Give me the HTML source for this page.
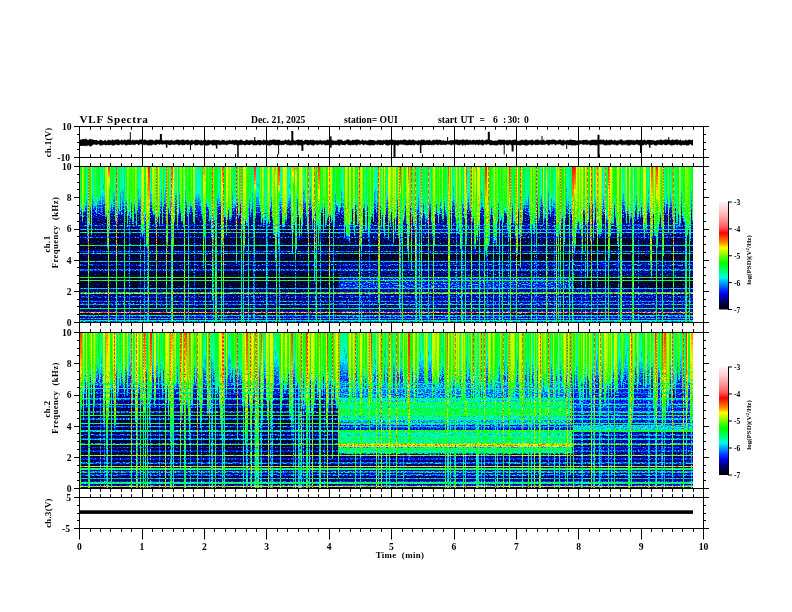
<!DOCTYPE html><html><head><meta charset="utf-8"><style>html,body{margin:0;padding:0;background:#fff;width:792px;height:612px;overflow:hidden}svg{display:block}</style></head><body>
<svg width="792" height="612" viewBox="0 0 792 612">
<defs><linearGradient id="cbar" x1="0" y1="1" x2="0" y2="0"><stop offset="0.000" stop-color="#000010"/><stop offset="0.042" stop-color="#000030"/><stop offset="0.090" stop-color="#000080"/><stop offset="0.137" stop-color="#0000e0"/><stop offset="0.183" stop-color="#0030ff"/><stop offset="0.265" stop-color="#00c0ff"/><stop offset="0.300" stop-color="#00ffe0"/><stop offset="0.350" stop-color="#00ff80"/><stop offset="0.433" stop-color="#00ff00"/><stop offset="0.525" stop-color="#a0ff00"/><stop offset="0.575" stop-color="#ffff00"/><stop offset="0.620" stop-color="#ff9000"/><stop offset="0.712" stop-color="#ff0000"/><stop offset="0.757" stop-color="#ff5050"/><stop offset="0.833" stop-color="#ff9090"/><stop offset="0.925" stop-color="#ffd0d0"/><stop offset="1.000" stop-color="#fff0f0"/></linearGradient><linearGradient id="hiss1_0" x1="0" y1="0" x2="0" y2="1"><stop offset="0.000" stop-color="#606060" stop-opacity="1.00"/><stop offset="0.100" stop-color="#595959" stop-opacity="1.00"/><stop offset="0.160" stop-color="#4d4d4d" stop-opacity="1.00"/><stop offset="0.220" stop-color="#404040" stop-opacity="1.00"/><stop offset="0.280" stop-color="#2d2d2d" stop-opacity="1.00"/><stop offset="0.340" stop-color="#1a1a1a" stop-opacity="1.00"/><stop offset="0.400" stop-color="#0d0d0d" stop-opacity="1.00"/><stop offset="0.440" stop-color="#0a0a0a" stop-opacity="0.00"/></linearGradient><linearGradient id="c1_0" x1="0" y1="0" x2="0" y2="1"><stop offset="0" stop-color="#565656"/><stop offset="0.72" stop-color="#4f4f4f"/><stop offset="0.90" stop-color="#3f3f3f"/><stop offset="1" stop-color="#393939" stop-opacity="0.7"/></linearGradient><linearGradient id="c1_1" x1="0" y1="0" x2="0" y2="1"><stop offset="0" stop-color="#5b5b5b"/><stop offset="0.72" stop-color="#545454"/><stop offset="0.90" stop-color="#454545"/><stop offset="1" stop-color="#393939" stop-opacity="0.7"/></linearGradient><linearGradient id="c1_2" x1="0" y1="0" x2="0" y2="1"><stop offset="0" stop-color="#606060"/><stop offset="0.72" stop-color="#5a5a5a"/><stop offset="0.90" stop-color="#4a4a4a"/><stop offset="1" stop-color="#393939" stop-opacity="0.7"/></linearGradient><linearGradient id="c1_3" x1="0" y1="0" x2="0" y2="1"><stop offset="0" stop-color="#656565"/><stop offset="0.72" stop-color="#5f5f5f"/><stop offset="0.90" stop-color="#4f4f4f"/><stop offset="1" stop-color="#393939" stop-opacity="0.7"/></linearGradient><linearGradient id="c1_4" x1="0" y1="0" x2="0" y2="1"><stop offset="0" stop-color="#6b6b6b"/><stop offset="0.72" stop-color="#646464"/><stop offset="0.90" stop-color="#545454"/><stop offset="1" stop-color="#393939" stop-opacity="0.7"/></linearGradient><linearGradient id="c1_5" x1="0" y1="0" x2="0" y2="1"><stop offset="0" stop-color="#707070"/><stop offset="0.72" stop-color="#6a6a6a"/><stop offset="0.90" stop-color="#5a5a5a"/><stop offset="1" stop-color="#393939" stop-opacity="0.7"/></linearGradient><linearGradient id="c1_6" x1="0" y1="0" x2="0" y2="1"><stop offset="0" stop-color="#757575"/><stop offset="0.72" stop-color="#6f6f6f"/><stop offset="0.90" stop-color="#5f5f5f"/><stop offset="1" stop-color="#393939" stop-opacity="0.7"/></linearGradient><linearGradient id="c1_7" x1="0" y1="0" x2="0" y2="1"><stop offset="0" stop-color="#7b7b7b"/><stop offset="0.72" stop-color="#747474"/><stop offset="0.90" stop-color="#646464"/><stop offset="1" stop-color="#393939" stop-opacity="0.7"/></linearGradient><linearGradient id="c1_8" x1="0" y1="0" x2="0" y2="1"><stop offset="0" stop-color="#808080"/><stop offset="0.72" stop-color="#7a7a7a"/><stop offset="0.90" stop-color="#6a6a6a"/><stop offset="1" stop-color="#393939" stop-opacity="0.7"/></linearGradient><linearGradient id="c1_9" x1="0" y1="0" x2="0" y2="1"><stop offset="0" stop-color="#858585"/><stop offset="0.72" stop-color="#7f7f7f"/><stop offset="0.90" stop-color="#6f6f6f"/><stop offset="1" stop-color="#393939" stop-opacity="0.7"/></linearGradient><linearGradient id="c1_10" x1="0" y1="0" x2="0" y2="1"><stop offset="0" stop-color="#8b8b8b"/><stop offset="0.72" stop-color="#848484"/><stop offset="0.90" stop-color="#747474"/><stop offset="1" stop-color="#393939" stop-opacity="0.7"/></linearGradient><linearGradient id="c1_11" x1="0" y1="0" x2="0" y2="1"><stop offset="0" stop-color="#909090"/><stop offset="0.72" stop-color="#8a8a8a"/><stop offset="0.90" stop-color="#7a7a7a"/><stop offset="1" stop-color="#393939" stop-opacity="0.7"/></linearGradient><linearGradient id="core1_0" x1="0" y1="0" x2="0" y2="1"><stop offset="0" stop-color="#acacac"/><stop offset="0.6" stop-color="#8f8f8f"/><stop offset="1" stop-color="#737373" stop-opacity="0.2"/></linearGradient><linearGradient id="core1_1" x1="0" y1="0" x2="0" y2="1"><stop offset="0" stop-color="#9f9f9f"/><stop offset="0.6" stop-color="#838383"/><stop offset="1" stop-color="#666666" stop-opacity="0.2"/></linearGradient><linearGradient id="core1_2" x1="0" y1="0" x2="0" y2="1"><stop offset="0" stop-color="#b2b2b2"/><stop offset="0.6" stop-color="#999999"/><stop offset="1" stop-color="#808080" stop-opacity="0.2"/></linearGradient><linearGradient id="red1" x1="0" y1="0" x2="0" y2="1"><stop offset="0" stop-color="#999999"/><stop offset="0.6" stop-color="#8f8f8f"/><stop offset="1" stop-color="#808080" stop-opacity="0.7"/></linearGradient><g id="field1"><rect x="80" y="166.5" width="613.0" height="156.0" fill="#010101"/><rect x="80.0" y="166.5" width="613.0" height="156.0" fill="url(#hiss1_0)"/><rect x="80.0" y="289.0" width="258.5" height="33.5" fill="#121212"/><rect x="80.0" y="273.0" width="258.5" height="16.0" fill="#060606"/><rect x="80.0" y="230.0" width="258.5" height="43.0" fill="#0a0a0a"/><rect x="338.5" y="215.0" width="354.5" height="20.0" fill="#1d1d1d"/><rect x="338.5" y="235.0" width="354.5" height="15.0" fill="#121212"/><rect x="338.5" y="250.0" width="354.5" height="10.0" fill="#010101"/><rect x="338.5" y="260.0" width="354.5" height="17.0" fill="#181818"/><rect x="338.5" y="277.0" width="234.0" height="12.0" fill="#2f2f2f"/><rect x="572.5" y="277.0" width="120.5" height="12.0" fill="#060606"/><rect x="338.5" y="289.0" width="354.5" height="33.5" fill="#1b1b1b"/><rect x="572.5" y="235.0" width="59.3" height="15.0" fill="#000000"/><rect x="80" y="166.5" width="1" height="49.4" fill="url(#c1_3)"/><rect x="81" y="166.5" width="1" height="43.8" fill="url(#c1_5)"/><rect x="82" y="166.5" width="1" height="56.7" fill="url(#c1_11)"/><rect x="83" y="166.5" width="1" height="47.1" fill="url(#c1_9)"/><rect x="84" y="166.5" width="1" height="46.1" fill="url(#c1_5)"/><rect x="85" y="166.5" width="1" height="42.0" fill="url(#c1_4)"/><rect x="86" y="166.5" width="1" height="41.5" fill="url(#c1_0)"/><rect x="87" y="166.5" width="1" height="76.0" fill="url(#c1_1)"/><rect x="88" y="166.5" width="1" height="79.6" fill="url(#c1_6)"/><rect x="89" y="166.5" width="1" height="60.4" fill="url(#c1_5)"/><rect x="90" y="166.5" width="1" height="43.7" fill="url(#c1_6)"/><rect x="91" y="166.5" width="1" height="70.7" fill="url(#c1_9)"/><rect x="92" y="166.5" width="1" height="37.6" fill="url(#c1_0)"/><rect x="93" y="166.5" width="1" height="43.4" fill="url(#c1_0)"/><rect x="94" y="166.5" width="1" height="42.4" fill="url(#c1_2)"/><rect x="95" y="166.5" width="1" height="41.0" fill="url(#c1_7)"/><rect x="96" y="166.5" width="1" height="49.4" fill="url(#c1_3)"/><rect x="97" y="166.5" width="1" height="39.8" fill="url(#c1_3)"/><rect x="98" y="166.5" width="1" height="35.9" fill="url(#c1_4)"/><rect x="99" y="166.5" width="1" height="35.4" fill="url(#c1_5)"/><rect x="100" y="166.5" width="1" height="31.9" fill="url(#c1_1)"/><rect x="101" y="166.5" width="1" height="45.5" fill="url(#c1_1)"/><rect x="102" y="166.5" width="1" height="31.8" fill="url(#c1_2)"/><rect x="103" y="166.5" width="1" height="22.4" fill="url(#c1_0)"/><rect x="104" y="166.5" width="1" height="30.7" fill="url(#c1_3)"/><rect x="105" y="166.5" width="1" height="51.1" fill="url(#c1_10)"/><rect x="106" y="166.5" width="1" height="51.0" fill="url(#c1_9)"/><rect x="107" y="166.5" width="1" height="82.7" fill="url(#c1_11)"/><rect x="108" y="166.5" width="1" height="99.9" fill="url(#c1_11)"/><rect x="109" y="166.5" width="1" height="66.9" fill="url(#c1_4)"/><rect x="110" y="166.5" width="1" height="46.7" fill="url(#c1_3)"/><rect x="111" y="166.5" width="1" height="40.8" fill="url(#c1_3)"/><rect x="112" y="166.5" width="1" height="44.8" fill="url(#c1_5)"/><rect x="113" y="166.5" width="1" height="27.6" fill="url(#c1_3)"/><rect x="114" y="166.5" width="1" height="34.6" fill="url(#c1_0)"/><rect x="115" y="166.5" width="1" height="56.9" fill="url(#c1_6)"/><rect x="116" y="166.5" width="1" height="57.1" fill="url(#c1_6)"/><rect x="117" y="166.5" width="1" height="56.8" fill="url(#c1_1)"/><rect x="118" y="166.5" width="1" height="47.6" fill="url(#c1_2)"/><rect x="119" y="166.5" width="1" height="49.0" fill="url(#c1_3)"/><rect x="120" y="166.5" width="1" height="31.5" fill="url(#c1_0)"/><rect x="121" y="166.5" width="1" height="48.0" fill="url(#c1_3)"/><rect x="122" y="166.5" width="1" height="28.4" fill="url(#c1_0)"/><rect x="123" y="166.5" width="1" height="32.5" fill="url(#c1_0)"/><rect x="124" y="166.5" width="1" height="48.4" fill="url(#c1_0)"/><rect x="125" y="166.5" width="1" height="46.5" fill="url(#c1_0)"/><rect x="126" y="166.5" width="1" height="36.8" fill="url(#c1_3)"/><rect x="127" y="166.5" width="1" height="60.5" fill="url(#c1_9)"/><rect x="128" y="166.5" width="1" height="49.7" fill="url(#c1_8)"/><rect x="129" y="166.5" width="1" height="48.4" fill="url(#c1_6)"/><rect x="130" y="166.5" width="1" height="53.3" fill="url(#c1_7)"/><rect x="131" y="166.5" width="1" height="38.7" fill="url(#c1_4)"/><rect x="132" y="166.5" width="1" height="58.2" fill="url(#c1_7)"/><rect x="133" y="166.5" width="1" height="59.8" fill="url(#c1_7)"/><rect x="134" y="166.5" width="1" height="39.2" fill="url(#c1_5)"/><rect x="135" y="166.5" width="1" height="48.5" fill="url(#c1_10)"/><rect x="136" y="166.5" width="1" height="60.9" fill="url(#c1_8)"/><rect x="137" y="166.5" width="1" height="45.6" fill="url(#c1_3)"/><rect x="138" y="166.5" width="1" height="28.0" fill="url(#c1_0)"/><rect x="139" y="166.5" width="1" height="39.9" fill="url(#c1_0)"/><rect x="140" y="166.5" width="1" height="40.4" fill="url(#c1_0)"/><rect x="141" y="166.5" width="1" height="68.3" fill="url(#c1_9)"/><rect x="142" y="166.5" width="1" height="71.8" fill="url(#c1_11)"/><rect x="143" y="166.5" width="1" height="68.1" fill="url(#c1_11)"/><rect x="144" y="166.5" width="1" height="53.7" fill="url(#c1_6)"/><rect x="145" y="166.5" width="1" height="54.6" fill="url(#c1_3)"/><rect x="146" y="166.5" width="1" height="80.7" fill="url(#c1_11)"/><rect x="147" y="166.5" width="1" height="84.8" fill="url(#c1_11)"/><rect x="148" y="166.5" width="1" height="98.8" fill="url(#c1_11)"/><rect x="149" y="166.5" width="1" height="62.6" fill="url(#c1_6)"/><rect x="150" y="166.5" width="1" height="32.3" fill="url(#c1_0)"/><rect x="151" y="166.5" width="1" height="29.1" fill="url(#c1_3)"/><rect x="152" y="166.5" width="1" height="46.1" fill="url(#c1_10)"/><rect x="153" y="166.5" width="1" height="50.0" fill="url(#c1_10)"/><rect x="154" y="166.5" width="1" height="49.0" fill="url(#c1_9)"/><rect x="155" y="166.5" width="1" height="61.0" fill="url(#c1_8)"/><rect x="156" y="166.5" width="1" height="66.9" fill="url(#c1_8)"/><rect x="157" y="166.5" width="1" height="55.8" fill="url(#c1_4)"/><rect x="158" y="166.5" width="1" height="51.1" fill="url(#c1_11)"/><rect x="159" y="166.5" width="1" height="60.5" fill="url(#c1_8)"/><rect x="160" y="166.5" width="1" height="41.9" fill="url(#c1_0)"/><rect x="161" y="166.5" width="1" height="29.4" fill="url(#c1_0)"/><rect x="162" y="166.5" width="1" height="59.4" fill="url(#c1_7)"/><rect x="163" y="166.5" width="1" height="40.8" fill="url(#c1_6)"/><rect x="164" y="166.5" width="1" height="36.3" fill="url(#c1_0)"/><rect x="165" y="166.5" width="1" height="28.5" fill="url(#c1_0)"/><rect x="166" y="166.5" width="1" height="71.6" fill="url(#c1_7)"/><rect x="167" y="166.5" width="1" height="81.9" fill="url(#c1_7)"/><rect x="168" y="166.5" width="1" height="44.4" fill="url(#c1_4)"/><rect x="169" y="166.5" width="1" height="48.1" fill="url(#c1_8)"/><rect x="170" y="166.5" width="1" height="43.9" fill="url(#c1_0)"/><rect x="171" y="166.5" width="1" height="52.4" fill="url(#c1_0)"/><rect x="172" y="166.5" width="1" height="89.5" fill="url(#c1_7)"/><rect x="173" y="166.5" width="1" height="83.6" fill="url(#c1_11)"/><rect x="174" y="166.5" width="1" height="55.9" fill="url(#c1_8)"/><rect x="175" y="166.5" width="1" height="33.6" fill="url(#c1_0)"/><rect x="176" y="166.5" width="1" height="31.3" fill="url(#c1_1)"/><rect x="177" y="166.5" width="1" height="63.2" fill="url(#c1_9)"/><rect x="178" y="166.5" width="1" height="51.0" fill="url(#c1_5)"/><rect x="179" y="166.5" width="1" height="33.3" fill="url(#c1_0)"/><rect x="180" y="166.5" width="1" height="44.6" fill="url(#c1_9)"/><rect x="181" y="166.5" width="1" height="56.4" fill="url(#c1_8)"/><rect x="182" y="166.5" width="1" height="55.8" fill="url(#c1_5)"/><rect x="183" y="166.5" width="1" height="61.0" fill="url(#c1_8)"/><rect x="184" y="166.5" width="1" height="59.3" fill="url(#c1_8)"/><rect x="185" y="166.5" width="1" height="28.0" fill="url(#c1_1)"/><rect x="186" y="166.5" width="1" height="38.4" fill="url(#c1_4)"/><rect x="187" y="166.5" width="1" height="49.8" fill="url(#c1_7)"/><rect x="188" y="166.5" width="1" height="54.5" fill="url(#c1_6)"/><rect x="189" y="166.5" width="1" height="46.8" fill="url(#c1_4)"/><rect x="190" y="166.5" width="1" height="39.6" fill="url(#c1_6)"/><rect x="191" y="166.5" width="1" height="41.4" fill="url(#c1_8)"/><rect x="192" y="166.5" width="1" height="45.7" fill="url(#c1_4)"/><rect x="193" y="166.5" width="1" height="55.8" fill="url(#c1_10)"/><rect x="194" y="166.5" width="1" height="59.5" fill="url(#c1_10)"/><rect x="195" y="166.5" width="1" height="34.9" fill="url(#c1_1)"/><rect x="196" y="166.5" width="1" height="36.6" fill="url(#c1_0)"/><rect x="197" y="166.5" width="1" height="37.8" fill="url(#c1_0)"/><rect x="198" y="166.5" width="1" height="34.5" fill="url(#c1_0)"/><rect x="199" y="166.5" width="1" height="37.8" fill="url(#c1_0)"/><rect x="200" y="166.5" width="1" height="43.0" fill="url(#c1_0)"/><rect x="201" y="166.5" width="1" height="49.3" fill="url(#c1_2)"/><rect x="202" y="166.5" width="1" height="54.9" fill="url(#c1_4)"/><rect x="203" y="166.5" width="1" height="103.1" fill="url(#c1_9)"/><rect x="204" y="166.5" width="1" height="73.1" fill="url(#c1_9)"/><rect x="205" y="166.5" width="1" height="64.6" fill="url(#c1_9)"/><rect x="206" y="166.5" width="1" height="37.2" fill="url(#c1_6)"/><rect x="207" y="166.5" width="1" height="40.4" fill="url(#c1_5)"/><rect x="208" y="166.5" width="1" height="42.8" fill="url(#c1_7)"/><rect x="209" y="166.5" width="1" height="57.6" fill="url(#c1_4)"/><rect x="210" y="166.5" width="1" height="54.4" fill="url(#c1_3)"/><rect x="211" y="166.5" width="1" height="72.6" fill="url(#c1_6)"/><rect x="212" y="166.5" width="1" height="60.4" fill="url(#c1_6)"/><rect x="213" y="166.5" width="1" height="53.1" fill="url(#c1_9)"/><rect x="214" y="166.5" width="1" height="56.6" fill="url(#c1_5)"/><rect x="215" y="166.5" width="1" height="38.6" fill="url(#c1_2)"/><rect x="216" y="166.5" width="1" height="63.0" fill="url(#c1_5)"/><rect x="217" y="166.5" width="1" height="33.8" fill="url(#c1_3)"/><rect x="218" y="166.5" width="1" height="33.5" fill="url(#c1_0)"/><rect x="219" y="166.5" width="1" height="40.1" fill="url(#c1_0)"/><rect x="220" y="166.5" width="1" height="39.3" fill="url(#c1_4)"/><rect x="221" y="166.5" width="1" height="84.3" fill="url(#c1_11)"/><rect x="222" y="166.5" width="1" height="80.3" fill="url(#c1_9)"/><rect x="223" y="166.5" width="1" height="79.7" fill="url(#c1_6)"/><rect x="224" y="166.5" width="1" height="51.7" fill="url(#c1_5)"/><rect x="225" y="166.5" width="1" height="53.4" fill="url(#c1_4)"/><rect x="226" y="166.5" width="1" height="70.3" fill="url(#c1_11)"/><rect x="227" y="166.5" width="1" height="53.3" fill="url(#c1_11)"/><rect x="228" y="166.5" width="1" height="44.7" fill="url(#c1_8)"/><rect x="229" y="166.5" width="1" height="54.4" fill="url(#c1_8)"/><rect x="230" y="166.5" width="1" height="54.2" fill="url(#c1_11)"/><rect x="231" y="166.5" width="1" height="53.3" fill="url(#c1_6)"/><rect x="232" y="166.5" width="1" height="33.0" fill="url(#c1_0)"/><rect x="233" y="166.5" width="1" height="43.2" fill="url(#c1_3)"/><rect x="234" y="166.5" width="1" height="42.2" fill="url(#c1_2)"/><rect x="235" y="166.5" width="1" height="40.7" fill="url(#c1_3)"/><rect x="236" y="166.5" width="1" height="43.8" fill="url(#c1_4)"/><rect x="237" y="166.5" width="1" height="34.0" fill="url(#c1_3)"/><rect x="238" y="166.5" width="1" height="52.3" fill="url(#c1_10)"/><rect x="239" y="166.5" width="1" height="49.8" fill="url(#c1_5)"/><rect x="240" y="166.5" width="1" height="38.9" fill="url(#c1_2)"/><rect x="241" y="166.5" width="1" height="55.9" fill="url(#c1_7)"/><rect x="242" y="166.5" width="1" height="63.8" fill="url(#c1_4)"/><rect x="243" y="166.5" width="1" height="100.0" fill="url(#c1_11)"/><rect x="244" y="166.5" width="1" height="84.1" fill="url(#c1_11)"/><rect x="245" y="166.5" width="1" height="55.9" fill="url(#c1_11)"/><rect x="246" y="166.5" width="1" height="59.5" fill="url(#c1_7)"/><rect x="247" y="166.5" width="1" height="60.1" fill="url(#c1_6)"/><rect x="248" y="166.5" width="1" height="44.2" fill="url(#c1_6)"/><rect x="249" y="166.5" width="1" height="35.1" fill="url(#c1_3)"/><rect x="250" y="166.5" width="1" height="50.5" fill="url(#c1_6)"/><rect x="251" y="166.5" width="1" height="46.6" fill="url(#c1_2)"/><rect x="252" y="166.5" width="1" height="30.2" fill="url(#c1_1)"/><rect x="253" y="166.5" width="1" height="70.9" fill="url(#c1_1)"/><rect x="254" y="166.5" width="1" height="95.4" fill="url(#c1_6)"/><rect x="255" y="166.5" width="1" height="52.3" fill="url(#c1_6)"/><rect x="256" y="166.5" width="1" height="37.9" fill="url(#c1_0)"/><rect x="257" y="166.5" width="1" height="19.4" fill="url(#c1_0)"/><rect x="258" y="166.5" width="1" height="21.4" fill="url(#c1_0)"/><rect x="259" y="166.5" width="1" height="40.3" fill="url(#c1_2)"/><rect x="260" y="166.5" width="1" height="46.2" fill="url(#c1_8)"/><rect x="261" y="166.5" width="1" height="58.8" fill="url(#c1_7)"/><rect x="262" y="166.5" width="1" height="53.5" fill="url(#c1_10)"/><rect x="263" y="166.5" width="1" height="61.0" fill="url(#c1_9)"/><rect x="264" y="166.5" width="1" height="58.1" fill="url(#c1_2)"/><rect x="265" y="166.5" width="1" height="54.5" fill="url(#c1_0)"/><rect x="266" y="166.5" width="1" height="36.8" fill="url(#c1_2)"/><rect x="267" y="166.5" width="1" height="58.3" fill="url(#c1_8)"/><rect x="268" y="166.5" width="1" height="55.8" fill="url(#c1_11)"/><rect x="269" y="166.5" width="1" height="59.9" fill="url(#c1_9)"/><rect x="270" y="166.5" width="1" height="42.7" fill="url(#c1_3)"/><rect x="271" y="166.5" width="1" height="33.7" fill="url(#c1_2)"/><rect x="272" y="166.5" width="1" height="54.1" fill="url(#c1_10)"/><rect x="273" y="166.5" width="1" height="68.9" fill="url(#c1_9)"/><rect x="274" y="166.5" width="1" height="71.1" fill="url(#c1_7)"/><rect x="275" y="166.5" width="1" height="95.5" fill="url(#c1_11)"/><rect x="276" y="166.5" width="1" height="82.9" fill="url(#c1_11)"/><rect x="277" y="166.5" width="1" height="70.1" fill="url(#c1_6)"/><rect x="278" y="166.5" width="1" height="84.9" fill="url(#c1_4)"/><rect x="279" y="166.5" width="1" height="44.9" fill="url(#c1_0)"/><rect x="280" y="166.5" width="1" height="40.6" fill="url(#c1_0)"/><rect x="281" y="166.5" width="1" height="45.4" fill="url(#c1_0)"/><rect x="282" y="166.5" width="1" height="63.2" fill="url(#c1_8)"/><rect x="283" y="166.5" width="1" height="61.4" fill="url(#c1_11)"/><rect x="284" y="166.5" width="1" height="60.9" fill="url(#c1_11)"/><rect x="285" y="166.5" width="1" height="53.8" fill="url(#c1_11)"/><rect x="286" y="166.5" width="1" height="56.0" fill="url(#c1_10)"/><rect x="287" y="166.5" width="1" height="42.7" fill="url(#c1_1)"/><rect x="288" y="166.5" width="1" height="40.8" fill="url(#c1_0)"/><rect x="289" y="166.5" width="1" height="21.8" fill="url(#c1_0)"/><rect x="290" y="166.5" width="1" height="31.9" fill="url(#c1_2)"/><rect x="291" y="166.5" width="1" height="65.5" fill="url(#c1_9)"/><rect x="292" y="166.5" width="1" height="88.5" fill="url(#c1_11)"/><rect x="293" y="166.5" width="1" height="66.7" fill="url(#c1_3)"/><rect x="294" y="166.5" width="1" height="59.4" fill="url(#c1_6)"/><rect x="295" y="166.5" width="1" height="97.8" fill="url(#c1_9)"/><rect x="296" y="166.5" width="1" height="84.6" fill="url(#c1_5)"/><rect x="297" y="166.5" width="1" height="34.5" fill="url(#c1_4)"/><rect x="298" y="166.5" width="1" height="51.7" fill="url(#c1_5)"/><rect x="299" y="166.5" width="1" height="73.5" fill="url(#c1_11)"/><rect x="300" y="166.5" width="1" height="54.2" fill="url(#c1_11)"/><rect x="301" y="166.5" width="1" height="70.2" fill="url(#c1_11)"/><rect x="302" y="166.5" width="1" height="60.5" fill="url(#c1_9)"/><rect x="303" y="166.5" width="1" height="28.3" fill="url(#c1_0)"/><rect x="304" y="166.5" width="1" height="30.4" fill="url(#c1_0)"/><rect x="305" y="166.5" width="1" height="36.6" fill="url(#c1_6)"/><rect x="306" y="166.5" width="1" height="51.0" fill="url(#c1_10)"/><rect x="307" y="166.5" width="1" height="68.0" fill="url(#c1_4)"/><rect x="308" y="166.5" width="1" height="56.6" fill="url(#c1_0)"/><rect x="309" y="166.5" width="1" height="41.1" fill="url(#c1_0)"/><rect x="310" y="166.5" width="1" height="25.6" fill="url(#c1_0)"/><rect x="311" y="166.5" width="1" height="42.3" fill="url(#c1_7)"/><rect x="312" y="166.5" width="1" height="64.1" fill="url(#c1_11)"/><rect x="313" y="166.5" width="1" height="54.3" fill="url(#c1_11)"/><rect x="314" y="166.5" width="1" height="47.4" fill="url(#c1_10)"/><rect x="315" y="166.5" width="1" height="47.0" fill="url(#c1_6)"/><rect x="316" y="166.5" width="1" height="46.7" fill="url(#c1_4)"/><rect x="317" y="166.5" width="1" height="60.2" fill="url(#c1_7)"/><rect x="318" y="166.5" width="1" height="84.5" fill="url(#c1_5)"/><rect x="319" y="166.5" width="1" height="67.8" fill="url(#c1_3)"/><rect x="320" y="166.5" width="1" height="67.8" fill="url(#c1_5)"/><rect x="321" y="166.5" width="1" height="46.6" fill="url(#c1_7)"/><rect x="322" y="166.5" width="1" height="45.1" fill="url(#c1_2)"/><rect x="323" y="166.5" width="1" height="67.5" fill="url(#c1_8)"/><rect x="324" y="166.5" width="1" height="41.9" fill="url(#c1_8)"/><rect x="325" y="166.5" width="1" height="60.8" fill="url(#c1_8)"/><rect x="326" y="166.5" width="1" height="58.6" fill="url(#c1_6)"/><rect x="327" y="166.5" width="1" height="53.4" fill="url(#c1_6)"/><rect x="328" y="166.5" width="1" height="50.7" fill="url(#c1_11)"/><rect x="329" y="166.5" width="1" height="59.1" fill="url(#c1_11)"/><rect x="330" y="166.5" width="1" height="50.0" fill="url(#c1_10)"/><rect x="331" y="166.5" width="1" height="57.0" fill="url(#c1_11)"/><rect x="332" y="166.5" width="1" height="54.3" fill="url(#c1_7)"/><rect x="333" y="166.5" width="1" height="76.4" fill="url(#c1_4)"/><rect x="334" y="166.5" width="1" height="61.3" fill="url(#c1_4)"/><rect x="335" y="166.5" width="1" height="32.1" fill="url(#c1_1)"/><rect x="336" y="166.5" width="1" height="39.8" fill="url(#c1_5)"/><rect x="337" y="166.5" width="1" height="40.7" fill="url(#c1_6)"/><rect x="338" y="166.5" width="1" height="48.5" fill="url(#c1_5)"/><rect x="339" y="166.5" width="1" height="47.7" fill="url(#c1_3)"/><rect x="340" y="166.5" width="1" height="42.8" fill="url(#c1_6)"/><rect x="341" y="166.5" width="1" height="28.9" fill="url(#c1_0)"/><rect x="342" y="166.5" width="1" height="42.8" fill="url(#c1_0)"/><rect x="343" y="166.5" width="1" height="47.2" fill="url(#c1_0)"/><rect x="344" y="166.5" width="1" height="72.9" fill="url(#c1_6)"/><rect x="345" y="166.5" width="1" height="60.2" fill="url(#c1_11)"/><rect x="346" y="166.5" width="1" height="72.4" fill="url(#c1_11)"/><rect x="347" y="166.5" width="1" height="74.1" fill="url(#c1_8)"/><rect x="348" y="166.5" width="1" height="73.4" fill="url(#c1_5)"/><rect x="349" y="166.5" width="1" height="76.6" fill="url(#c1_11)"/><rect x="350" y="166.5" width="1" height="61.7" fill="url(#c1_10)"/><rect x="351" y="166.5" width="1" height="57.9" fill="url(#c1_5)"/><rect x="352" y="166.5" width="1" height="43.0" fill="url(#c1_6)"/><rect x="353" y="166.5" width="1" height="63.2" fill="url(#c1_11)"/><rect x="354" y="166.5" width="1" height="71.5" fill="url(#c1_9)"/><rect x="355" y="166.5" width="1" height="38.7" fill="url(#c1_5)"/><rect x="356" y="166.5" width="1" height="47.0" fill="url(#c1_1)"/><rect x="357" y="166.5" width="1" height="62.1" fill="url(#c1_6)"/><rect x="358" y="166.5" width="1" height="57.7" fill="url(#c1_8)"/><rect x="359" y="166.5" width="1" height="70.5" fill="url(#c1_7)"/><rect x="360" y="166.5" width="1" height="79.5" fill="url(#c1_9)"/><rect x="361" y="166.5" width="1" height="88.6" fill="url(#c1_11)"/><rect x="362" y="166.5" width="1" height="69.6" fill="url(#c1_8)"/><rect x="363" y="166.5" width="1" height="42.9" fill="url(#c1_6)"/><rect x="364" y="166.5" width="1" height="44.5" fill="url(#c1_0)"/><rect x="365" y="166.5" width="1" height="66.2" fill="url(#c1_7)"/><rect x="366" y="166.5" width="1" height="64.7" fill="url(#c1_4)"/><rect x="367" y="166.5" width="1" height="43.4" fill="url(#c1_1)"/><rect x="368" y="166.5" width="1" height="74.5" fill="url(#c1_6)"/><rect x="369" y="166.5" width="1" height="71.6" fill="url(#c1_6)"/><rect x="370" y="166.5" width="1" height="63.1" fill="url(#c1_8)"/><rect x="371" y="166.5" width="1" height="52.3" fill="url(#c1_3)"/><rect x="372" y="166.5" width="1" height="50.6" fill="url(#c1_4)"/><rect x="373" y="166.5" width="1" height="55.6" fill="url(#c1_8)"/><rect x="374" y="166.5" width="1" height="30.8" fill="url(#c1_0)"/><rect x="375" y="166.5" width="1" height="27.2" fill="url(#c1_0)"/><rect x="376" y="166.5" width="1" height="49.0" fill="url(#c1_1)"/><rect x="377" y="166.5" width="1" height="30.9" fill="url(#c1_0)"/><rect x="378" y="166.5" width="1" height="61.5" fill="url(#c1_4)"/><rect x="379" y="166.5" width="1" height="61.5" fill="url(#c1_5)"/><rect x="380" y="166.5" width="1" height="43.1" fill="url(#c1_1)"/><rect x="381" y="166.5" width="1" height="64.3" fill="url(#c1_8)"/><rect x="382" y="166.5" width="1" height="50.6" fill="url(#c1_9)"/><rect x="383" y="166.5" width="1" height="66.2" fill="url(#c1_6)"/><rect x="384" y="166.5" width="1" height="72.2" fill="url(#c1_11)"/><rect x="385" y="166.5" width="1" height="51.0" fill="url(#c1_6)"/><rect x="386" y="166.5" width="1" height="42.9" fill="url(#c1_0)"/><rect x="387" y="166.5" width="1" height="33.2" fill="url(#c1_2)"/><rect x="388" y="166.5" width="1" height="75.0" fill="url(#c1_11)"/><rect x="389" y="166.5" width="1" height="56.4" fill="url(#c1_11)"/><rect x="390" y="166.5" width="1" height="59.7" fill="url(#c1_10)"/><rect x="391" y="166.5" width="1" height="46.5" fill="url(#c1_7)"/><rect x="392" y="166.5" width="1" height="58.7" fill="url(#c1_8)"/><rect x="393" y="166.5" width="1" height="78.2" fill="url(#c1_11)"/><rect x="394" y="166.5" width="1" height="53.7" fill="url(#c1_9)"/><rect x="395" y="166.5" width="1" height="68.3" fill="url(#c1_11)"/><rect x="396" y="166.5" width="1" height="51.6" fill="url(#c1_6)"/><rect x="397" y="166.5" width="1" height="35.0" fill="url(#c1_2)"/><rect x="398" y="166.5" width="1" height="71.5" fill="url(#c1_9)"/><rect x="399" y="166.5" width="1" height="68.3" fill="url(#c1_4)"/><rect x="400" y="166.5" width="1" height="79.1" fill="url(#c1_0)"/><rect x="401" y="166.5" width="1" height="76.6" fill="url(#c1_5)"/><rect x="402" y="166.5" width="1" height="61.9" fill="url(#c1_9)"/><rect x="403" y="166.5" width="1" height="57.0" fill="url(#c1_7)"/><rect x="404" y="166.5" width="1" height="52.0" fill="url(#c1_4)"/><rect x="405" y="166.5" width="1" height="39.2" fill="url(#c1_3)"/><rect x="406" y="166.5" width="1" height="57.8" fill="url(#c1_9)"/><rect x="407" y="166.5" width="1" height="85.5" fill="url(#c1_11)"/><rect x="408" y="166.5" width="1" height="97.0" fill="url(#c1_11)"/><rect x="409" y="166.5" width="1" height="70.1" fill="url(#c1_8)"/><rect x="410" y="166.5" width="1" height="41.2" fill="url(#c1_4)"/><rect x="411" y="166.5" width="1" height="28.9" fill="url(#c1_0)"/><rect x="412" y="166.5" width="1" height="53.3" fill="url(#c1_2)"/><rect x="413" y="166.5" width="1" height="60.0" fill="url(#c1_8)"/><rect x="414" y="166.5" width="1" height="62.7" fill="url(#c1_6)"/><rect x="415" y="166.5" width="1" height="64.6" fill="url(#c1_1)"/><rect x="416" y="166.5" width="1" height="38.0" fill="url(#c1_1)"/><rect x="417" y="166.5" width="1" height="44.1" fill="url(#c1_4)"/><rect x="418" y="166.5" width="1" height="34.1" fill="url(#c1_1)"/><rect x="419" y="166.5" width="1" height="59.6" fill="url(#c1_0)"/><rect x="420" y="166.5" width="1" height="54.3" fill="url(#c1_1)"/><rect x="421" y="166.5" width="1" height="72.5" fill="url(#c1_8)"/><rect x="422" y="166.5" width="1" height="52.8" fill="url(#c1_6)"/><rect x="423" y="166.5" width="1" height="38.2" fill="url(#c1_3)"/><rect x="424" y="166.5" width="1" height="49.6" fill="url(#c1_6)"/><rect x="425" y="166.5" width="1" height="62.3" fill="url(#c1_0)"/><rect x="426" y="166.5" width="1" height="54.4" fill="url(#c1_4)"/><rect x="427" y="166.5" width="1" height="57.3" fill="url(#c1_3)"/><rect x="428" y="166.5" width="1" height="41.6" fill="url(#c1_0)"/><rect x="429" y="166.5" width="1" height="44.4" fill="url(#c1_0)"/><rect x="430" y="166.5" width="1" height="42.9" fill="url(#c1_0)"/><rect x="431" y="166.5" width="1" height="58.5" fill="url(#c1_5)"/><rect x="432" y="166.5" width="1" height="69.7" fill="url(#c1_7)"/><rect x="433" y="166.5" width="1" height="54.7" fill="url(#c1_5)"/><rect x="434" y="166.5" width="1" height="81.0" fill="url(#c1_11)"/><rect x="435" y="166.5" width="1" height="48.7" fill="url(#c1_7)"/><rect x="436" y="166.5" width="1" height="40.4" fill="url(#c1_4)"/><rect x="437" y="166.5" width="1" height="48.7" fill="url(#c1_7)"/><rect x="438" y="166.5" width="1" height="58.2" fill="url(#c1_5)"/><rect x="439" y="166.5" width="1" height="49.1" fill="url(#c1_8)"/><rect x="440" y="166.5" width="1" height="36.4" fill="url(#c1_4)"/><rect x="441" y="166.5" width="1" height="44.8" fill="url(#c1_6)"/><rect x="442" y="166.5" width="1" height="53.7" fill="url(#c1_10)"/><rect x="443" y="166.5" width="1" height="55.8" fill="url(#c1_5)"/><rect x="444" y="166.5" width="1" height="37.8" fill="url(#c1_3)"/><rect x="445" y="166.5" width="1" height="48.5" fill="url(#c1_4)"/><rect x="446" y="166.5" width="1" height="51.5" fill="url(#c1_1)"/><rect x="447" y="166.5" width="1" height="62.5" fill="url(#c1_7)"/><rect x="448" y="166.5" width="1" height="110.6" fill="url(#c1_11)"/><rect x="449" y="166.5" width="1" height="77.7" fill="url(#c1_9)"/><rect x="450" y="166.5" width="1" height="45.1" fill="url(#c1_5)"/><rect x="451" y="166.5" width="1" height="67.4" fill="url(#c1_11)"/><rect x="452" y="166.5" width="1" height="37.1" fill="url(#c1_3)"/><rect x="453" y="166.5" width="1" height="25.3" fill="url(#c1_0)"/><rect x="454" y="166.5" width="1" height="41.8" fill="url(#c1_0)"/><rect x="455" y="166.5" width="1" height="53.2" fill="url(#c1_7)"/><rect x="456" y="166.5" width="1" height="60.3" fill="url(#c1_11)"/><rect x="457" y="166.5" width="1" height="66.9" fill="url(#c1_7)"/><rect x="458" y="166.5" width="1" height="61.8" fill="url(#c1_2)"/><rect x="459" y="166.5" width="1" height="68.9" fill="url(#c1_9)"/><rect x="460" y="166.5" width="1" height="82.9" fill="url(#c1_9)"/><rect x="461" y="166.5" width="1" height="52.7" fill="url(#c1_1)"/><rect x="462" y="166.5" width="1" height="42.1" fill="url(#c1_0)"/><rect x="463" y="166.5" width="1" height="40.8" fill="url(#c1_5)"/><rect x="464" y="166.5" width="1" height="52.9" fill="url(#c1_10)"/><rect x="465" y="166.5" width="1" height="72.3" fill="url(#c1_11)"/><rect x="466" y="166.5" width="1" height="79.4" fill="url(#c1_8)"/><rect x="467" y="166.5" width="1" height="43.4" fill="url(#c1_0)"/><rect x="468" y="166.5" width="1" height="34.7" fill="url(#c1_0)"/><rect x="469" y="166.5" width="1" height="45.1" fill="url(#c1_1)"/><rect x="470" y="166.5" width="1" height="45.5" fill="url(#c1_6)"/><rect x="471" y="166.5" width="1" height="47.6" fill="url(#c1_8)"/><rect x="472" y="166.5" width="1" height="56.3" fill="url(#c1_11)"/><rect x="473" y="166.5" width="1" height="53.7" fill="url(#c1_7)"/><rect x="474" y="166.5" width="1" height="82.7" fill="url(#c1_9)"/><rect x="475" y="166.5" width="1" height="83.9" fill="url(#c1_8)"/><rect x="476" y="166.5" width="1" height="71.9" fill="url(#c1_5)"/><rect x="477" y="166.5" width="1" height="75.9" fill="url(#c1_11)"/><rect x="478" y="166.5" width="1" height="61.4" fill="url(#c1_11)"/><rect x="479" y="166.5" width="1" height="74.7" fill="url(#c1_11)"/><rect x="480" y="166.5" width="1" height="44.8" fill="url(#c1_6)"/><rect x="481" y="166.5" width="1" height="30.1" fill="url(#c1_0)"/><rect x="482" y="166.5" width="1" height="40.7" fill="url(#c1_0)"/><rect x="483" y="166.5" width="1" height="42.6" fill="url(#c1_6)"/><rect x="484" y="166.5" width="1" height="67.2" fill="url(#c1_6)"/><rect x="485" y="166.5" width="1" height="88.6" fill="url(#c1_7)"/><rect x="486" y="166.5" width="1" height="93.2" fill="url(#c1_11)"/><rect x="487" y="166.5" width="1" height="83.6" fill="url(#c1_11)"/><rect x="488" y="166.5" width="1" height="68.1" fill="url(#c1_8)"/><rect x="489" y="166.5" width="1" height="77.7" fill="url(#c1_5)"/><rect x="490" y="166.5" width="1" height="52.0" fill="url(#c1_4)"/><rect x="491" y="166.5" width="1" height="42.2" fill="url(#c1_6)"/><rect x="492" y="166.5" width="1" height="51.5" fill="url(#c1_2)"/><rect x="493" y="166.5" width="1" height="72.4" fill="url(#c1_8)"/><rect x="494" y="166.5" width="1" height="76.7" fill="url(#c1_10)"/><rect x="495" y="166.5" width="1" height="76.9" fill="url(#c1_6)"/><rect x="496" y="166.5" width="1" height="82.2" fill="url(#c1_7)"/><rect x="497" y="166.5" width="1" height="56.8" fill="url(#c1_8)"/><rect x="498" y="166.5" width="1" height="38.9" fill="url(#c1_3)"/><rect x="499" y="166.5" width="1" height="72.7" fill="url(#c1_5)"/><rect x="500" y="166.5" width="1" height="54.2" fill="url(#c1_7)"/><rect x="501" y="166.5" width="1" height="55.1" fill="url(#c1_5)"/><rect x="502" y="166.5" width="1" height="48.0" fill="url(#c1_2)"/><rect x="503" y="166.5" width="1" height="57.0" fill="url(#c1_7)"/><rect x="504" y="166.5" width="1" height="45.6" fill="url(#c1_7)"/><rect x="505" y="166.5" width="1" height="47.8" fill="url(#c1_7)"/><rect x="506" y="166.5" width="1" height="49.2" fill="url(#c1_4)"/><rect x="507" y="166.5" width="1" height="64.9" fill="url(#c1_9)"/><rect x="508" y="166.5" width="1" height="76.6" fill="url(#c1_8)"/><rect x="509" y="166.5" width="1" height="72.5" fill="url(#c1_3)"/><rect x="510" y="166.5" width="1" height="74.1" fill="url(#c1_8)"/><rect x="511" y="166.5" width="1" height="56.7" fill="url(#c1_3)"/><rect x="512" y="166.5" width="1" height="41.8" fill="url(#c1_2)"/><rect x="513" y="166.5" width="1" height="60.8" fill="url(#c1_3)"/><rect x="514" y="166.5" width="1" height="57.5" fill="url(#c1_5)"/><rect x="515" y="166.5" width="1" height="72.6" fill="url(#c1_7)"/><rect x="516" y="166.5" width="1" height="91.0" fill="url(#c1_8)"/><rect x="517" y="166.5" width="1" height="89.3" fill="url(#c1_11)"/><rect x="518" y="166.5" width="1" height="44.2" fill="url(#c1_4)"/><rect x="519" y="166.5" width="1" height="71.9" fill="url(#c1_5)"/><rect x="520" y="166.5" width="1" height="101.7" fill="url(#c1_11)"/><rect x="521" y="166.5" width="1" height="71.6" fill="url(#c1_9)"/><rect x="522" y="166.5" width="1" height="56.8" fill="url(#c1_7)"/><rect x="523" y="166.5" width="1" height="43.6" fill="url(#c1_3)"/><rect x="524" y="166.5" width="1" height="39.6" fill="url(#c1_4)"/><rect x="525" y="166.5" width="1" height="42.6" fill="url(#c1_0)"/><rect x="526" y="166.5" width="1" height="40.9" fill="url(#c1_1)"/><rect x="527" y="166.5" width="1" height="40.8" fill="url(#c1_2)"/><rect x="528" y="166.5" width="1" height="34.4" fill="url(#c1_1)"/><rect x="529" y="166.5" width="1" height="51.9" fill="url(#c1_3)"/><rect x="530" y="166.5" width="1" height="67.7" fill="url(#c1_8)"/><rect x="531" y="166.5" width="1" height="71.3" fill="url(#c1_9)"/><rect x="532" y="166.5" width="1" height="62.4" fill="url(#c1_5)"/><rect x="533" y="166.5" width="1" height="63.0" fill="url(#c1_8)"/><rect x="534" y="166.5" width="1" height="68.3" fill="url(#c1_8)"/><rect x="535" y="166.5" width="1" height="55.8" fill="url(#c1_6)"/><rect x="536" y="166.5" width="1" height="45.8" fill="url(#c1_7)"/><rect x="537" y="166.5" width="1" height="36.5" fill="url(#c1_0)"/><rect x="538" y="166.5" width="1" height="56.6" fill="url(#c1_6)"/><rect x="539" y="166.5" width="1" height="53.5" fill="url(#c1_6)"/><rect x="540" y="166.5" width="1" height="39.3" fill="url(#c1_0)"/><rect x="541" y="166.5" width="1" height="35.0" fill="url(#c1_0)"/><rect x="542" y="166.5" width="1" height="38.3" fill="url(#c1_4)"/><rect x="543" y="166.5" width="1" height="58.4" fill="url(#c1_11)"/><rect x="544" y="166.5" width="1" height="53.8" fill="url(#c1_6)"/><rect x="545" y="166.5" width="1" height="52.9" fill="url(#c1_1)"/><rect x="546" y="166.5" width="1" height="90.4" fill="url(#c1_5)"/><rect x="547" y="166.5" width="1" height="63.3" fill="url(#c1_0)"/><rect x="548" y="166.5" width="1" height="30.0" fill="url(#c1_0)"/><rect x="549" y="166.5" width="1" height="46.2" fill="url(#c1_3)"/><rect x="550" y="166.5" width="1" height="51.0" fill="url(#c1_7)"/><rect x="551" y="166.5" width="1" height="33.6" fill="url(#c1_3)"/><rect x="552" y="166.5" width="1" height="43.2" fill="url(#c1_3)"/><rect x="553" y="166.5" width="1" height="37.4" fill="url(#c1_3)"/><rect x="554" y="166.5" width="1" height="43.2" fill="url(#c1_0)"/><rect x="555" y="166.5" width="1" height="50.5" fill="url(#c1_1)"/><rect x="556" y="166.5" width="1" height="47.6" fill="url(#c1_4)"/><rect x="557" y="166.5" width="1" height="71.9" fill="url(#c1_8)"/><rect x="558" y="166.5" width="1" height="99.4" fill="url(#c1_8)"/><rect x="559" y="166.5" width="1" height="68.5" fill="url(#c1_7)"/><rect x="560" y="166.5" width="1" height="36.7" fill="url(#c1_3)"/><rect x="561" y="166.5" width="1" height="56.1" fill="url(#c1_5)"/><rect x="562" y="166.5" width="1" height="52.9" fill="url(#c1_5)"/><rect x="563" y="166.5" width="1" height="73.0" fill="url(#c1_5)"/><rect x="564" y="166.5" width="1" height="78.9" fill="url(#c1_9)"/><rect x="565" y="166.5" width="1" height="52.1" fill="url(#c1_5)"/><rect x="566" y="166.5" width="1" height="25.8" fill="url(#c1_0)"/><rect x="567" y="166.5" width="1" height="47.1" fill="url(#c1_0)"/><rect x="568" y="166.5" width="1" height="41.6" fill="url(#c1_0)"/><rect x="569" y="166.5" width="1" height="41.4" fill="url(#c1_2)"/><rect x="570" y="166.5" width="1" height="45.8" fill="url(#c1_1)"/><rect x="571" y="166.5" width="1" height="49.2" fill="url(#c1_3)"/><rect x="572" y="166.5" width="1" height="72.7" fill="url(#c1_4)"/><rect x="573" y="166.5" width="1" height="80.5" fill="url(#c1_5)"/><rect x="574" y="166.5" width="1" height="89.5" fill="url(#c1_6)"/><rect x="575" y="166.5" width="1" height="82.1" fill="url(#c1_11)"/><rect x="576" y="166.5" width="1" height="66.2" fill="url(#c1_11)"/><rect x="577" y="166.5" width="1" height="58.5" fill="url(#c1_9)"/><rect x="578" y="166.5" width="1" height="57.4" fill="url(#c1_7)"/><rect x="579" y="166.5" width="1" height="63.7" fill="url(#c1_11)"/><rect x="580" y="166.5" width="1" height="64.1" fill="url(#c1_8)"/><rect x="581" y="166.5" width="1" height="72.7" fill="url(#c1_9)"/><rect x="582" y="166.5" width="1" height="88.8" fill="url(#c1_11)"/><rect x="583" y="166.5" width="1" height="46.4" fill="url(#c1_7)"/><rect x="584" y="166.5" width="1" height="46.7" fill="url(#c1_4)"/><rect x="585" y="166.5" width="1" height="61.0" fill="url(#c1_11)"/><rect x="586" y="166.5" width="1" height="59.6" fill="url(#c1_8)"/><rect x="587" y="166.5" width="1" height="57.8" fill="url(#c1_9)"/><rect x="588" y="166.5" width="1" height="55.5" fill="url(#c1_6)"/><rect x="589" y="166.5" width="1" height="38.1" fill="url(#c1_5)"/><rect x="590" y="166.5" width="1" height="75.7" fill="url(#c1_11)"/><rect x="591" y="166.5" width="1" height="59.8" fill="url(#c1_6)"/><rect x="592" y="166.5" width="1" height="38.8" fill="url(#c1_5)"/><rect x="593" y="166.5" width="1" height="75.9" fill="url(#c1_11)"/><rect x="594" y="166.5" width="1" height="56.1" fill="url(#c1_4)"/><rect x="595" y="166.5" width="1" height="41.0" fill="url(#c1_0)"/><rect x="596" y="166.5" width="1" height="66.4" fill="url(#c1_0)"/><rect x="597" y="166.5" width="1" height="71.3" fill="url(#c1_4)"/><rect x="598" y="166.5" width="1" height="69.0" fill="url(#c1_8)"/><rect x="599" y="166.5" width="1" height="71.0" fill="url(#c1_11)"/><rect x="600" y="166.5" width="1" height="69.6" fill="url(#c1_11)"/><rect x="601" y="166.5" width="1" height="67.7" fill="url(#c1_9)"/><rect x="602" y="166.5" width="1" height="49.6" fill="url(#c1_0)"/><rect x="603" y="166.5" width="1" height="37.6" fill="url(#c1_0)"/><rect x="604" y="166.5" width="1" height="47.5" fill="url(#c1_0)"/><rect x="605" y="166.5" width="1" height="34.4" fill="url(#c1_3)"/><rect x="606" y="166.5" width="1" height="55.4" fill="url(#c1_3)"/><rect x="607" y="166.5" width="1" height="56.2" fill="url(#c1_6)"/><rect x="608" y="166.5" width="1" height="96.9" fill="url(#c1_11)"/><rect x="609" y="166.5" width="1" height="93.9" fill="url(#c1_10)"/><rect x="610" y="166.5" width="1" height="70.2" fill="url(#c1_11)"/><rect x="611" y="166.5" width="1" height="58.1" fill="url(#c1_11)"/><rect x="612" y="166.5" width="1" height="58.7" fill="url(#c1_8)"/><rect x="613" y="166.5" width="1" height="59.2" fill="url(#c1_4)"/><rect x="614" y="166.5" width="1" height="39.6" fill="url(#c1_4)"/><rect x="615" y="166.5" width="1" height="52.3" fill="url(#c1_5)"/><rect x="616" y="166.5" width="1" height="62.0" fill="url(#c1_6)"/><rect x="617" y="166.5" width="1" height="78.6" fill="url(#c1_10)"/><rect x="618" y="166.5" width="1" height="80.7" fill="url(#c1_11)"/><rect x="619" y="166.5" width="1" height="69.5" fill="url(#c1_6)"/><rect x="620" y="166.5" width="1" height="79.9" fill="url(#c1_4)"/><rect x="621" y="166.5" width="1" height="50.5" fill="url(#c1_6)"/><rect x="622" y="166.5" width="1" height="36.9" fill="url(#c1_1)"/><rect x="623" y="166.5" width="1" height="32.9" fill="url(#c1_0)"/><rect x="624" y="166.5" width="1" height="41.8" fill="url(#c1_0)"/><rect x="625" y="166.5" width="1" height="47.8" fill="url(#c1_8)"/><rect x="626" y="166.5" width="1" height="57.8" fill="url(#c1_11)"/><rect x="627" y="166.5" width="1" height="46.0" fill="url(#c1_3)"/><rect x="628" y="166.5" width="1" height="49.7" fill="url(#c1_3)"/><rect x="629" y="166.5" width="1" height="59.1" fill="url(#c1_11)"/><rect x="630" y="166.5" width="1" height="53.2" fill="url(#c1_8)"/><rect x="631" y="166.5" width="1" height="51.1" fill="url(#c1_2)"/><rect x="632" y="166.5" width="1" height="42.0" fill="url(#c1_0)"/><rect x="633" y="166.5" width="1" height="87.4" fill="url(#c1_4)"/><rect x="634" y="166.5" width="1" height="53.7" fill="url(#c1_3)"/><rect x="635" y="166.5" width="1" height="43.9" fill="url(#c1_2)"/><rect x="636" y="166.5" width="1" height="31.8" fill="url(#c1_2)"/><rect x="637" y="166.5" width="1" height="53.6" fill="url(#c1_8)"/><rect x="638" y="166.5" width="1" height="51.6" fill="url(#c1_8)"/><rect x="639" y="166.5" width="1" height="46.9" fill="url(#c1_7)"/><rect x="640" y="166.5" width="1" height="52.2" fill="url(#c1_5)"/><rect x="641" y="166.5" width="1" height="40.8" fill="url(#c1_2)"/><rect x="642" y="166.5" width="1" height="52.3" fill="url(#c1_3)"/><rect x="643" y="166.5" width="1" height="65.4" fill="url(#c1_11)"/><rect x="644" y="166.5" width="1" height="73.8" fill="url(#c1_11)"/><rect x="645" y="166.5" width="1" height="65.1" fill="url(#c1_11)"/><rect x="646" y="166.5" width="1" height="66.2" fill="url(#c1_6)"/><rect x="647" y="166.5" width="1" height="47.8" fill="url(#c1_0)"/><rect x="648" y="166.5" width="1" height="27.0" fill="url(#c1_0)"/><rect x="649" y="166.5" width="1" height="48.1" fill="url(#c1_2)"/><rect x="650" y="166.5" width="1" height="103.0" fill="url(#c1_11)"/><rect x="651" y="166.5" width="1" height="115.7" fill="url(#c1_11)"/><rect x="652" y="166.5" width="1" height="72.9" fill="url(#c1_11)"/><rect x="653" y="166.5" width="1" height="47.9" fill="url(#c1_8)"/><rect x="654" y="166.5" width="1" height="69.6" fill="url(#c1_11)"/><rect x="655" y="166.5" width="1" height="70.7" fill="url(#c1_7)"/><rect x="656" y="166.5" width="1" height="76.1" fill="url(#c1_1)"/><rect x="657" y="166.5" width="1" height="82.4" fill="url(#c1_4)"/><rect x="658" y="166.5" width="1" height="65.4" fill="url(#c1_11)"/><rect x="659" y="166.5" width="1" height="57.4" fill="url(#c1_11)"/><rect x="660" y="166.5" width="1" height="50.2" fill="url(#c1_8)"/><rect x="661" y="166.5" width="1" height="61.4" fill="url(#c1_6)"/><rect x="662" y="166.5" width="1" height="65.3" fill="url(#c1_7)"/><rect x="663" y="166.5" width="1" height="90.6" fill="url(#c1_10)"/><rect x="664" y="166.5" width="1" height="40.5" fill="url(#c1_0)"/><rect x="665" y="166.5" width="1" height="47.5" fill="url(#c1_2)"/><rect x="666" y="166.5" width="1" height="38.4" fill="url(#c1_5)"/><rect x="667" y="166.5" width="1" height="34.4" fill="url(#c1_1)"/><rect x="668" y="166.5" width="1" height="70.3" fill="url(#c1_8)"/><rect x="669" y="166.5" width="1" height="43.4" fill="url(#c1_3)"/><rect x="670" y="166.5" width="1" height="32.9" fill="url(#c1_0)"/><rect x="671" y="166.5" width="1" height="37.7" fill="url(#c1_2)"/><rect x="672" y="166.5" width="1" height="53.3" fill="url(#c1_5)"/><rect x="673" y="166.5" width="1" height="71.5" fill="url(#c1_11)"/><rect x="674" y="166.5" width="1" height="65.3" fill="url(#c1_7)"/><rect x="675" y="166.5" width="1" height="44.4" fill="url(#c1_1)"/><rect x="676" y="166.5" width="1" height="63.0" fill="url(#c1_2)"/><rect x="677" y="166.5" width="1" height="62.2" fill="url(#c1_3)"/><rect x="678" y="166.5" width="1" height="49.6" fill="url(#c1_5)"/><rect x="679" y="166.5" width="1" height="61.3" fill="url(#c1_10)"/><rect x="680" y="166.5" width="1" height="59.3" fill="url(#c1_9)"/><rect x="681" y="166.5" width="1" height="29.9" fill="url(#c1_1)"/><rect x="682" y="166.5" width="1" height="51.5" fill="url(#c1_2)"/><rect x="683" y="166.5" width="1" height="54.7" fill="url(#c1_6)"/><rect x="684" y="166.5" width="1" height="57.0" fill="url(#c1_6)"/><rect x="685" y="166.5" width="1" height="58.2" fill="url(#c1_9)"/><rect x="686" y="166.5" width="1" height="67.5" fill="url(#c1_8)"/><rect x="687" y="166.5" width="1" height="70.3" fill="url(#c1_8)"/><rect x="688" y="166.5" width="1" height="64.8" fill="url(#c1_7)"/><rect x="689" y="166.5" width="1" height="92.2" fill="url(#c1_7)"/><rect x="690" y="166.5" width="1" height="74.9" fill="url(#c1_6)"/><rect x="691" y="166.5" width="1" height="28.3" fill="url(#c1_1)"/><rect x="692" y="166.5" width="1" height="55.8" fill="url(#c1_5)"/><rect x="88" y="166.5" width="1" height="39.9" fill="url(#core1_1)"/><rect x="88" y="166.5" width="1" height="142.1" fill="url(#red1)"/><path d="M88.5 166.5V265.9" stroke="#b6b6b6" stroke-width="1" stroke-dasharray="1 2"/><rect x="108" y="166.5" width="2" height="26.5" fill="url(#core1_0)"/><rect x="108" y="166.5" width="1" height="156.0" fill="#868686" style="mix-blend-mode:lighten"/><rect x="116" y="166.5" width="1" height="127.8" fill="url(#red1)"/><path d="M116.5 166.5V256.0" stroke="#b6b6b6" stroke-width="1" stroke-dasharray="2 1 1 2"/><rect x="116" y="166.5" width="1" height="156.0" fill="#606060" style="mix-blend-mode:lighten"/><rect x="124" y="166.5" width="1" height="156.0" fill="#6c6c6c" style="mix-blend-mode:lighten"/><rect x="129" y="166.5" width="1" height="156.0" fill="#393939" style="mix-blend-mode:lighten"/><rect x="140" y="166.5" width="1" height="156.0" fill="#393939" style="mix-blend-mode:lighten"/><rect x="140" y="166.5" width="1" height="156.0" fill="#393939" style="mix-blend-mode:lighten"/><rect x="144" y="166.5" width="1" height="156.0" fill="#404040" style="mix-blend-mode:lighten"/><rect x="147" y="166.5" width="1" height="31.0" fill="url(#core1_1)"/><rect x="147" y="166.5" width="1" height="156.0" fill="#393939" style="mix-blend-mode:lighten"/><rect x="148" y="166.5" width="2" height="54.2" fill="url(#core1_2)"/><rect x="148" y="166.5" width="1" height="156.0" fill="#6c6c6c" style="mix-blend-mode:lighten"/><rect x="156" y="166.5" width="1" height="142.7" fill="url(#red1)"/><path d="M156.5 166.5V266.4" stroke="#b6b6b6" stroke-width="1" stroke-dasharray="1 2"/><rect x="166" y="166.5" width="1" height="145.9" fill="url(#red1)"/><path d="M166.5 166.5V268.6" stroke="#b6b6b6" stroke-width="1" stroke-dasharray="1 2"/><rect x="171" y="166.5" width="1" height="66.2" fill="url(#red1)"/><path d="M171.5 166.5V212.9" stroke="#b6b6b6" stroke-width="1" stroke-dasharray="2 1 1 2"/><rect x="171" y="166.5" width="1" height="156.0" fill="#535353" style="mix-blend-mode:lighten"/><rect x="172" y="166.5" width="1" height="51.6" fill="url(#core1_0)"/><rect x="172" y="166.5" width="1" height="156.0" fill="#868686" style="mix-blend-mode:lighten"/><rect x="184" y="166.5" width="1" height="156.0" fill="#868686" style="mix-blend-mode:lighten"/><rect x="188" y="166.5" width="1" height="156.0" fill="#4d4d4d" style="mix-blend-mode:lighten"/><rect x="194" y="166.5" width="1" height="156.0" fill="#333333" style="mix-blend-mode:lighten"/><rect x="203" y="166.5" width="2" height="66.3" fill="url(#core1_1)"/><rect x="205" y="166.5" width="1" height="156.0" fill="#6c6c6c" style="mix-blend-mode:lighten"/><rect x="212" y="166.5" width="1" height="134.1" fill="url(#red1)"/><path d="M212.5 166.5V260.3" stroke="#b6b6b6" stroke-width="1" stroke-dasharray="2 1 1 2"/><rect x="213" y="166.5" width="1" height="156.0" fill="#404040" style="mix-blend-mode:lighten"/><rect x="215" y="166.5" width="1" height="156.0" fill="#6c6c6c" style="mix-blend-mode:lighten"/><rect x="216" y="166.5" width="1" height="156.0" fill="#6c6c6c" style="mix-blend-mode:lighten"/><rect x="221" y="166.5" width="1" height="156.0" fill="#6c6c6c" style="mix-blend-mode:lighten"/><rect x="222" y="166.5" width="1" height="40.8" fill="url(#core1_0)"/><rect x="223" y="166.5" width="1" height="138.9" fill="url(#red1)"/><path d="M223.5 166.5V263.8" stroke="#b6b6b6" stroke-width="1" stroke-dasharray="2 1 1 2"/><rect x="223" y="166.5" width="1" height="156.0" fill="#464646" style="mix-blend-mode:lighten"/><rect x="236" y="166.5" width="1" height="97.3" fill="url(#red1)"/><path d="M236.5 166.5V234.6" stroke="#b6b6b6" stroke-width="1" stroke-dasharray="2 2"/><rect x="241" y="166.5" width="1" height="89.6" fill="url(#red1)"/><path d="M241.5 166.5V229.2" stroke="#b6b6b6" stroke-width="1" stroke-dasharray="1 2"/><rect x="241" y="166.5" width="1" height="156.0" fill="#333333" style="mix-blend-mode:lighten"/><rect x="241" y="166.5" width="1" height="156.0" fill="#535353" style="mix-blend-mode:lighten"/><rect x="243" y="166.5" width="1" height="156.0" fill="#535353" style="mix-blend-mode:lighten"/><rect x="248" y="166.5" width="1" height="156.0" fill="#535353" style="mix-blend-mode:lighten"/><rect x="253" y="166.5" width="1" height="156.0" fill="#393939" style="mix-blend-mode:lighten"/><rect x="253" y="166.5" width="1" height="156.0" fill="#333333" style="mix-blend-mode:lighten"/><rect x="254" y="166.5" width="2" height="29.1" fill="url(#core1_2)"/><rect x="254" y="166.5" width="1" height="156.0" fill="#393939" style="mix-blend-mode:lighten"/><rect x="266" y="166.5" width="1" height="156.0" fill="#535353" style="mix-blend-mode:lighten"/><rect x="267" y="166.5" width="1" height="156.0" fill="#333333" style="mix-blend-mode:lighten"/><rect x="267" y="166.5" width="1" height="156.0" fill="#333333" style="mix-blend-mode:lighten"/><rect x="275" y="166.5" width="1" height="50.6" fill="url(#core1_1)"/><rect x="276" y="166.5" width="1" height="156.0" fill="#6c6c6c" style="mix-blend-mode:lighten"/><rect x="278" y="166.5" width="2" height="32.9" fill="url(#core1_2)"/><rect x="279" y="166.5" width="1" height="156.0" fill="#464646" style="mix-blend-mode:lighten"/><rect x="292" y="166.5" width="2" height="24.7" fill="url(#core1_1)"/><rect x="295" y="166.5" width="2" height="41.2" fill="url(#core1_1)"/><rect x="295" y="166.5" width="1" height="156.0" fill="#393939" style="mix-blend-mode:lighten"/><rect x="308" y="166.5" width="1" height="124.0" fill="url(#red1)"/><path d="M308.5 166.5V253.3" stroke="#b6b6b6" stroke-width="1" stroke-dasharray="1 1 1 3"/><rect x="308" y="166.5" width="1" height="156.0" fill="#535353" style="mix-blend-mode:lighten"/><rect x="308" y="166.5" width="1" height="156.0" fill="#606060" style="mix-blend-mode:lighten"/><rect x="314" y="166.5" width="1" height="114.9" fill="url(#red1)"/><path d="M314.5 166.5V246.9" stroke="#b6b6b6" stroke-width="1" stroke-dasharray="1 1 1 3"/><rect x="315" y="166.5" width="1" height="156.0" fill="#333333" style="mix-blend-mode:lighten"/><rect x="316" y="166.5" width="1" height="156.0" fill="#6c6c6c" style="mix-blend-mode:lighten"/><rect x="318" y="166.5" width="2" height="52.0" fill="url(#core1_0)"/><rect x="320" y="166.5" width="1" height="156.0" fill="#404040" style="mix-blend-mode:lighten"/><rect x="329" y="166.5" width="1" height="154.5" fill="url(#red1)"/><path d="M329.5 166.5V274.7" stroke="#b6b6b6" stroke-width="1" stroke-dasharray="1 1 1 3"/><rect x="333" y="166.5" width="1" height="156.0" fill="#464646" style="mix-blend-mode:lighten"/><rect x="359" y="166.5" width="1" height="131.2" fill="url(#red1)"/><path d="M359.5 166.5V258.3" stroke="#b6b6b6" stroke-width="1" stroke-dasharray="2 1 1 2"/><rect x="359" y="166.5" width="1" height="156.0" fill="#464646" style="mix-blend-mode:lighten"/><rect x="361" y="166.5" width="1" height="156.0" fill="#393939" style="mix-blend-mode:lighten"/><rect x="369" y="166.5" width="1" height="156.0" fill="#333333" style="mix-blend-mode:lighten"/><rect x="378" y="166.5" width="1" height="136.8" fill="url(#red1)"/><path d="M378.5 166.5V262.3" stroke="#b6b6b6" stroke-width="1" stroke-dasharray="2 1 1 2"/><rect x="379" y="166.5" width="1" height="156.0" fill="#868686" style="mix-blend-mode:lighten"/><rect x="399" y="166.5" width="1" height="141.5" fill="url(#red1)"/><path d="M399.5 166.5V265.5" stroke="#b6b6b6" stroke-width="1" stroke-dasharray="1 2"/><rect x="400" y="166.5" width="1" height="35.6" fill="url(#core1_2)"/><rect x="400" y="166.5" width="1" height="156.0" fill="#404040" style="mix-blend-mode:lighten"/><rect x="402" y="166.5" width="1" height="156.0" fill="#6c6c6c" style="mix-blend-mode:lighten"/><rect x="408" y="166.5" width="1" height="39.6" fill="url(#core1_0)"/><rect x="411" y="166.5" width="1" height="103.9" fill="url(#red1)"/><path d="M411.5 166.5V239.2" stroke="#b6b6b6" stroke-width="1" stroke-dasharray="2 1 1 2"/><rect x="415" y="166.5" width="1" height="99.6" fill="url(#red1)"/><path d="M415.5 166.5V236.2" stroke="#b6b6b6" stroke-width="1" stroke-dasharray="2 1 1 2"/><rect x="415" y="166.5" width="1" height="156.0" fill="#393939" style="mix-blend-mode:lighten"/><rect x="415" y="166.5" width="1" height="132.0" fill="url(#red1)"/><path d="M415.5 166.5V258.9" stroke="#b6b6b6" stroke-width="1" stroke-dasharray="1 1 1 3"/><rect x="415" y="166.5" width="1" height="156.0" fill="#333333" style="mix-blend-mode:lighten"/><rect x="416" y="166.5" width="1" height="156.0" fill="#535353" style="mix-blend-mode:lighten"/><rect x="419" y="166.5" width="1" height="156.0" fill="#464646" style="mix-blend-mode:lighten"/><rect x="421" y="166.5" width="1" height="70.2" fill="url(#red1)"/><path d="M421.5 166.5V215.7" stroke="#b6b6b6" stroke-width="1" stroke-dasharray="1 2"/><rect x="421" y="166.5" width="1" height="156.0" fill="#6c6c6c" style="mix-blend-mode:lighten"/><rect x="428" y="166.5" width="1" height="106.1" fill="url(#red1)"/><path d="M428.5 166.5V240.7" stroke="#b6b6b6" stroke-width="1" stroke-dasharray="1 1 1 3"/><rect x="428" y="166.5" width="1" height="156.0" fill="#535353" style="mix-blend-mode:lighten"/><rect x="433" y="166.5" width="1" height="156.0" fill="#868686" style="mix-blend-mode:lighten"/><rect x="448" y="166.5" width="1" height="65.7" fill="url(#core1_0)"/><rect x="448" y="166.5" width="1" height="156.0" fill="#6c6c6c" style="mix-blend-mode:lighten"/><rect x="449" y="166.5" width="1" height="156.0" fill="#868686" style="mix-blend-mode:lighten"/><rect x="456" y="166.5" width="1" height="156.0" fill="#404040" style="mix-blend-mode:lighten"/><rect x="461" y="166.5" width="1" height="156.0" fill="#6c6c6c" style="mix-blend-mode:lighten"/><rect x="462" y="166.5" width="1" height="156.0" fill="#393939" style="mix-blend-mode:lighten"/><rect x="465" y="166.5" width="1" height="156.0" fill="#606060" style="mix-blend-mode:lighten"/><rect x="466" y="166.5" width="1" height="69.2" fill="url(#core1_0)"/><rect x="471" y="166.5" width="1" height="84.5" fill="url(#red1)"/><path d="M471.5 166.5V225.6" stroke="#b6b6b6" stroke-width="1" stroke-dasharray="2 2"/><rect x="471" y="166.5" width="1" height="156.0" fill="#868686" style="mix-blend-mode:lighten"/><rect x="475" y="166.5" width="1" height="46.9" fill="url(#core1_1)"/><rect x="479" y="166.5" width="1" height="156.0" fill="#606060" style="mix-blend-mode:lighten"/><rect x="484" y="166.5" width="1" height="156.0" fill="#6c6c6c" style="mix-blend-mode:lighten"/><rect x="485" y="166.5" width="2" height="51.0" fill="url(#core1_2)"/><rect x="487" y="166.5" width="1" height="156.0" fill="#393939" style="mix-blend-mode:lighten"/><rect x="488" y="166.5" width="1" height="79.0" fill="url(#red1)"/><path d="M488.5 166.5V221.8" stroke="#b6b6b6" stroke-width="1" stroke-dasharray="1 1 1 3"/><rect x="493" y="166.5" width="1" height="156.0" fill="#4d4d4d" style="mix-blend-mode:lighten"/><rect x="499" y="166.5" width="1" height="156.0" fill="#4d4d4d" style="mix-blend-mode:lighten"/><rect x="502" y="166.5" width="1" height="156.0" fill="#606060" style="mix-blend-mode:lighten"/><rect x="508" y="166.5" width="1" height="156.0" fill="#333333" style="mix-blend-mode:lighten"/><rect x="509" y="166.5" width="1" height="52.5" fill="url(#core1_2)"/><rect x="510" y="166.5" width="1" height="105.3" fill="url(#red1)"/><path d="M510.5 166.5V240.2" stroke="#b6b6b6" stroke-width="1" stroke-dasharray="1 2"/><rect x="510" y="166.5" width="1" height="156.0" fill="#6c6c6c" style="mix-blend-mode:lighten"/><rect x="516" y="166.5" width="1" height="28.0" fill="url(#core1_1)"/><rect x="516" y="166.5" width="1" height="152.7" fill="url(#red1)"/><path d="M516.5 166.5V273.4" stroke="#b6b6b6" stroke-width="1" stroke-dasharray="1 2"/><rect x="516" y="166.5" width="1" height="156.0" fill="#333333" style="mix-blend-mode:lighten"/><rect x="520" y="166.5" width="1" height="101.0" fill="url(#red1)"/><path d="M520.5 166.5V237.2" stroke="#b6b6b6" stroke-width="1" stroke-dasharray="2 1 1 2"/><rect x="531" y="166.5" width="1" height="156.0" fill="#606060" style="mix-blend-mode:lighten"/><rect x="534" y="166.5" width="1" height="156.0" fill="#333333" style="mix-blend-mode:lighten"/><rect x="536" y="166.5" width="1" height="80.4" fill="url(#red1)"/><path d="M536.5 166.5V222.7" stroke="#b6b6b6" stroke-width="1" stroke-dasharray="2 2"/><rect x="536" y="166.5" width="1" height="156.0" fill="#393939" style="mix-blend-mode:lighten"/><rect x="546" y="166.5" width="1" height="52.6" fill="url(#core1_1)"/><rect x="546" y="166.5" width="1" height="156.0" fill="#868686" style="mix-blend-mode:lighten"/><rect x="547" y="166.5" width="1" height="156.0" fill="#333333" style="mix-blend-mode:lighten"/><rect x="554" y="166.5" width="1" height="156.0" fill="#393939" style="mix-blend-mode:lighten"/><rect x="556" y="166.5" width="1" height="156.0" fill="#868686" style="mix-blend-mode:lighten"/><rect x="558" y="166.5" width="1" height="25.8" fill="url(#core1_1)"/><rect x="558" y="166.5" width="1" height="156.0" fill="#464646" style="mix-blend-mode:lighten"/><rect x="560" y="166.5" width="1" height="117.7" fill="url(#red1)"/><path d="M560.5 166.5V248.9" stroke="#b6b6b6" stroke-width="1" stroke-dasharray="1 2"/><rect x="560" y="166.5" width="1" height="156.0" fill="#393939" style="mix-blend-mode:lighten"/><rect x="563" y="166.5" width="1" height="156.0" fill="#6c6c6c" style="mix-blend-mode:lighten"/><rect x="563" y="166.5" width="1" height="156.0" fill="#4d4d4d" style="mix-blend-mode:lighten"/><rect x="569" y="166.5" width="1" height="156.0" fill="#606060" style="mix-blend-mode:lighten"/><rect x="572" y="166.5" width="1" height="132.2" fill="url(#red1)"/><path d="M572.5 166.5V259.0" stroke="#b6b6b6" stroke-width="1" stroke-dasharray="2 1 1 2"/><rect x="572" y="166.5" width="1" height="156.0" fill="#606060" style="mix-blend-mode:lighten"/><rect x="572" y="166.5" width="2" height="62.4" fill="url(#core1_2)"/><rect x="572" y="166.5" width="1" height="156.0" fill="#333333" style="mix-blend-mode:lighten"/><rect x="573" y="166.5" width="1" height="156.0" fill="#333333" style="mix-blend-mode:lighten"/><rect x="574" y="166.5" width="2" height="35.7" fill="url(#core1_2)"/><rect x="581" y="166.5" width="1" height="156.0" fill="#333333" style="mix-blend-mode:lighten"/><rect x="585" y="166.5" width="1" height="156.0" fill="#404040" style="mix-blend-mode:lighten"/><rect x="587" y="166.5" width="1" height="110.5" fill="url(#red1)"/><path d="M587.5 166.5V243.9" stroke="#b6b6b6" stroke-width="1" stroke-dasharray="1 1 1 3"/><rect x="591" y="166.5" width="1" height="91.3" fill="url(#red1)"/><path d="M591.5 166.5V230.4" stroke="#b6b6b6" stroke-width="1" stroke-dasharray="1 1 1 3"/><rect x="591" y="166.5" width="1" height="156.0" fill="#333333" style="mix-blend-mode:lighten"/><rect x="591" y="166.5" width="1" height="137.5" fill="url(#red1)"/><path d="M591.5 166.5V262.7" stroke="#b6b6b6" stroke-width="1" stroke-dasharray="2 1 1 2"/><rect x="591" y="166.5" width="1" height="156.0" fill="#464646" style="mix-blend-mode:lighten"/><rect x="596" y="166.5" width="2" height="54.7" fill="url(#core1_1)"/><rect x="597" y="166.5" width="1" height="102.1" fill="url(#red1)"/><path d="M597.5 166.5V238.0" stroke="#b6b6b6" stroke-width="1" stroke-dasharray="1 1 1 3"/><rect x="597" y="166.5" width="1" height="156.0" fill="#393939" style="mix-blend-mode:lighten"/><rect x="605" y="166.5" width="1" height="71.8" fill="url(#red1)"/><path d="M605.5 166.5V216.7" stroke="#b6b6b6" stroke-width="1" stroke-dasharray="1 1 1 3"/><rect x="605" y="166.5" width="1" height="156.0" fill="#535353" style="mix-blend-mode:lighten"/><rect x="608" y="166.5" width="1" height="35.7" fill="url(#core1_2)"/><rect x="608" y="166.5" width="1" height="156.0" fill="#6c6c6c" style="mix-blend-mode:lighten"/><rect x="609" y="166.5" width="1" height="76.6" fill="url(#red1)"/><path d="M609.5 166.5V220.1" stroke="#b6b6b6" stroke-width="1" stroke-dasharray="1 2"/><rect x="618" y="166.5" width="1" height="156.0" fill="#464646" style="mix-blend-mode:lighten"/><rect x="620" y="166.5" width="1" height="156.0" fill="#535353" style="mix-blend-mode:lighten"/><rect x="621" y="166.5" width="1" height="156.0" fill="#868686" style="mix-blend-mode:lighten"/><rect x="632" y="166.5" width="1" height="156.0" fill="#535353" style="mix-blend-mode:lighten"/><rect x="633" y="166.5" width="1" height="156.0" fill="#868686" style="mix-blend-mode:lighten"/><rect x="638" y="166.5" width="1" height="156.0" fill="#333333" style="mix-blend-mode:lighten"/><rect x="651" y="166.5" width="2" height="61.9" fill="url(#core1_0)"/><rect x="656" y="166.5" width="2" height="51.2" fill="url(#core1_0)"/><rect x="656" y="166.5" width="1" height="156.0" fill="#6c6c6c" style="mix-blend-mode:lighten"/><rect x="662" y="166.5" width="1" height="156.0" fill="#6c6c6c" style="mix-blend-mode:lighten"/><rect x="663" y="166.5" width="1" height="89.7" fill="url(#red1)"/><path d="M663.5 166.5V229.3" stroke="#b6b6b6" stroke-width="1" stroke-dasharray="1 2"/><rect x="673" y="166.5" width="1" height="144.5" fill="url(#red1)"/><path d="M673.5 166.5V267.6" stroke="#b6b6b6" stroke-width="1" stroke-dasharray="1 1 1 3"/><rect x="685" y="166.5" width="1" height="156.0" fill="#535353" style="mix-blend-mode:lighten"/><rect x="686" y="166.5" width="1" height="156.0" fill="#6c6c6c" style="mix-blend-mode:lighten"/><rect x="689" y="166.5" width="1" height="156.0" fill="#606060" style="mix-blend-mode:lighten"/><rect x="80" y="225.3" width="613.0" height="1" fill="#464646"/><rect x="80" y="228.9" width="613.0" height="1" fill="#4d4d4d"/><rect x="80" y="232.1" width="613.0" height="1" fill="#535353"/><rect x="80" y="236.8" width="613.0" height="1" fill="#393939"/><rect x="80" y="244.9" width="613.0" height="1" fill="#606060"/><rect x="80" y="250.8" width="613.0" height="1" fill="#464646"/><rect x="80" y="252.9" width="613.0" height="1" fill="#4d4d4d"/><rect x="80" y="261.0" width="613.0" height="1" fill="#4d4d4d"/><rect x="80" y="264.5" width="613.0" height="1" fill="#404040"/><rect x="80" y="269.5" width="613.0" height="1" fill="#606060"/><rect x="80" y="277.0" width="613.0" height="1" fill="#6c6c6c"/><rect x="80" y="280.0" width="613.0" height="1" fill="#696969"/><rect x="80" y="288.1" width="613.0" height="1" fill="#535353"/><rect x="80" y="292.7" width="613.0" height="1" fill="#b9b9b9"/><rect x="80" y="296.5" width="613.0" height="1" fill="#404040"/><rect x="80" y="300.8" width="613.0" height="1" fill="#464646"/><rect x="80" y="303.8" width="613.0" height="1" fill="#535353"/><rect x="80" y="308.0" width="613.0" height="1" fill="#606060"/><rect x="80" y="311.9" width="613.0" height="1" fill="#b2b2b2"/><rect x="80" y="315.3" width="613.0" height="1" fill="#666666"/><rect x="80" y="317.8" width="613.0" height="1" fill="#4d4d4d"/><rect x="80" y="320.4" width="613.0" height="1" fill="#797979"/></g><clipPath id="cp1"><rect x="80" y="166.5" width="613.0" height="156.0"/></clipPath><linearGradient id="mgu1" gradientUnits="userSpaceOnUse" x1="0" y1="190.8" x2="0" y2="210.8"><stop offset="0" stop-color="#fff"/><stop offset="1" stop-color="#000"/></linearGradient><linearGradient id="mgl1" gradientUnits="userSpaceOnUse" x1="0" y1="190.8" x2="0" y2="210.8"><stop offset="0" stop-color="#000"/><stop offset="1" stop-color="#fff"/></linearGradient><mask id="mu1" maskUnits="userSpaceOnUse" x="0" y="0" width="792" height="612"><rect x="80" y="166.5" width="613.0" height="156.0" fill="url(#mgu1)"/></mask><mask id="ml1" maskUnits="userSpaceOnUse" x="0" y="0" width="792" height="612"><rect x="80" y="166.5" width="613.0" height="156.0" fill="url(#mgl1)"/></mask><filter id="fu1" x="0" y="0" width="792" height="612" filterUnits="userSpaceOnUse" color-interpolation-filters="sRGB"><feTurbulence type="fractalNoise" baseFrequency="0.9 0.9" numOctaves="1" seed="6" result="n"/><feColorMatrix in="n" type="matrix" values="1 0 0 0 0 1 0 0 0 0 1 0 0 0 0 0 0 0 0 1" result="ng0"/><feComponentTransfer in="ng0" result="ng"><feFuncR type="gamma" exponent="1.00"/><feFuncG type="gamma" exponent="1.00"/><feFuncB type="gamma" exponent="1.00"/></feComponentTransfer><feComposite in="SourceGraphic" in2="ng" operator="arithmetic" k1="0" k2="1" k3="0.100" k4="-0.050" result="f"/><feComponentTransfer in="f"><feFuncR type="table" tableValues="0.000 0.000 0.000 0.000 0.000 0.000 0.000 0.000 0.000 0.000 0.000 0.000 0.000 0.000 0.000 0.000 0.000 0.000 0.000 0.000 0.000 0.000 0.000 0.000 0.000 0.000 0.000 0.000 0.035 0.141 0.247 0.353 0.459 0.565 0.675 0.792 0.906 1.000 1.000 1.000 1.000 1.000 1.000 1.000 1.000 1.000 1.000 1.000 1.000 1.000 1.000 1.000 1.000 1.000 1.000 1.000 1.000 1.000 1.000 1.000 1.000 1.000 1.000 1.000 1.000"/><feFuncG type="table" tableValues="0.000 0.000 0.000 0.000 0.000 0.000 0.000 0.000 0.000 0.012 0.078 0.145 0.224 0.329 0.435 0.545 0.651 0.757 0.867 0.976 1.000 1.000 1.000 1.000 1.000 1.000 1.000 1.000 1.000 1.000 1.000 1.000 1.000 1.000 1.000 1.000 1.000 0.969 0.820 0.667 0.533 0.439 0.345 0.247 0.153 0.059 0.043 0.153 0.263 0.341 0.392 0.447 0.498 0.549 0.596 0.639 0.678 0.722 0.765 0.808 0.835 0.863 0.890 0.914 0.941"/><feFuncB type="table" tableValues="0.063 0.110 0.157 0.216 0.322 0.424 0.533 0.655 0.780 0.886 0.929 0.973 1.000 1.000 1.000 1.000 1.000 0.996 0.945 0.890 0.784 0.667 0.549 0.443 0.349 0.255 0.161 0.063 0.000 0.000 0.000 0.000 0.000 0.000 0.000 0.000 0.000 0.000 0.000 0.000 0.000 0.000 0.000 0.000 0.000 0.000 0.043 0.153 0.263 0.341 0.392 0.447 0.498 0.549 0.596 0.639 0.678 0.722 0.765 0.808 0.835 0.863 0.890 0.914 0.941"/></feComponentTransfer></filter><filter id="fl1" x="0" y="0" width="792" height="612" filterUnits="userSpaceOnUse" color-interpolation-filters="sRGB"><feTurbulence type="fractalNoise" baseFrequency="0.6 0.9" numOctaves="1" seed="10" result="n"/><feColorMatrix in="n" type="matrix" values="1 0 0 0 0 1 0 0 0 0 1 0 0 0 0 0 0 0 0 1" result="ng0"/><feComponentTransfer in="ng0" result="ng"><feFuncR type="gamma" exponent="2.50"/><feFuncG type="gamma" exponent="2.50"/><feFuncB type="gamma" exponent="2.50"/></feComponentTransfer><feComposite in="SourceGraphic" in2="ng" operator="arithmetic" k1="0" k2="1" k3="0.550" k4="-0.110" result="f"/><feComponentTransfer in="f"><feFuncR type="table" tableValues="0.000 0.000 0.000 0.000 0.000 0.000 0.000 0.000 0.000 0.000 0.000 0.000 0.000 0.000 0.000 0.000 0.000 0.000 0.000 0.000 0.000 0.000 0.000 0.000 0.000 0.000 0.000 0.000 0.035 0.141 0.247 0.353 0.459 0.565 0.675 0.792 0.906 1.000 1.000 1.000 1.000 1.000 1.000 1.000 1.000 1.000 1.000 1.000 1.000 1.000 1.000 1.000 1.000 1.000 1.000 1.000 1.000 1.000 1.000 1.000 1.000 1.000 1.000 1.000 1.000"/><feFuncG type="table" tableValues="0.000 0.000 0.000 0.000 0.000 0.000 0.000 0.000 0.000 0.012 0.078 0.145 0.224 0.329 0.435 0.545 0.651 0.757 0.867 0.976 1.000 1.000 1.000 1.000 1.000 1.000 1.000 1.000 1.000 1.000 1.000 1.000 1.000 1.000 1.000 1.000 1.000 0.969 0.820 0.667 0.533 0.439 0.345 0.247 0.153 0.059 0.043 0.153 0.263 0.341 0.392 0.447 0.498 0.549 0.596 0.639 0.678 0.722 0.765 0.808 0.835 0.863 0.890 0.914 0.941"/><feFuncB type="table" tableValues="0.063 0.110 0.157 0.216 0.322 0.424 0.533 0.655 0.780 0.886 0.929 0.973 1.000 1.000 1.000 1.000 1.000 0.996 0.945 0.890 0.784 0.667 0.549 0.443 0.349 0.255 0.161 0.063 0.000 0.000 0.000 0.000 0.000 0.000 0.000 0.000 0.000 0.000 0.000 0.000 0.000 0.000 0.000 0.000 0.000 0.000 0.043 0.153 0.263 0.341 0.392 0.447 0.498 0.549 0.596 0.639 0.678 0.722 0.765 0.808 0.835 0.863 0.890 0.914 0.941"/></feComponentTransfer></filter><linearGradient id="hiss2_0" x1="0" y1="0" x2="0" y2="1"><stop offset="0.000" stop-color="#606060" stop-opacity="1.00"/><stop offset="0.100" stop-color="#595959" stop-opacity="1.00"/><stop offset="0.180" stop-color="#4d4d4d" stop-opacity="1.00"/><stop offset="0.240" stop-color="#404040" stop-opacity="1.00"/><stop offset="0.300" stop-color="#333333" stop-opacity="1.00"/><stop offset="0.380" stop-color="#232323" stop-opacity="1.00"/><stop offset="0.460" stop-color="#161616" stop-opacity="1.00"/><stop offset="0.520" stop-color="#0d0d0d" stop-opacity="0.00"/></linearGradient><linearGradient id="c2_0" x1="0" y1="0" x2="0" y2="1"><stop offset="0" stop-color="#595959"/><stop offset="0.60" stop-color="#525252"/><stop offset="0.85" stop-color="#424242"/><stop offset="1" stop-color="#393939" stop-opacity="0.7"/></linearGradient><linearGradient id="c2_1" x1="0" y1="0" x2="0" y2="1"><stop offset="0" stop-color="#5e5e5e"/><stop offset="0.60" stop-color="#585858"/><stop offset="0.85" stop-color="#484848"/><stop offset="1" stop-color="#393939" stop-opacity="0.7"/></linearGradient><linearGradient id="c2_2" x1="0" y1="0" x2="0" y2="1"><stop offset="0" stop-color="#636363"/><stop offset="0.60" stop-color="#5d5d5d"/><stop offset="0.85" stop-color="#4d4d4d"/><stop offset="1" stop-color="#393939" stop-opacity="0.7"/></linearGradient><linearGradient id="c2_3" x1="0" y1="0" x2="0" y2="1"><stop offset="0" stop-color="#696969"/><stop offset="0.60" stop-color="#626262"/><stop offset="0.85" stop-color="#525252"/><stop offset="1" stop-color="#393939" stop-opacity="0.7"/></linearGradient><linearGradient id="c2_4" x1="0" y1="0" x2="0" y2="1"><stop offset="0" stop-color="#6e6e6e"/><stop offset="0.60" stop-color="#686868"/><stop offset="0.85" stop-color="#585858"/><stop offset="1" stop-color="#393939" stop-opacity="0.7"/></linearGradient><linearGradient id="c2_5" x1="0" y1="0" x2="0" y2="1"><stop offset="0" stop-color="#737373"/><stop offset="0.60" stop-color="#6d6d6d"/><stop offset="0.85" stop-color="#5d5d5d"/><stop offset="1" stop-color="#393939" stop-opacity="0.7"/></linearGradient><linearGradient id="c2_6" x1="0" y1="0" x2="0" y2="1"><stop offset="0" stop-color="#797979"/><stop offset="0.60" stop-color="#727272"/><stop offset="0.85" stop-color="#626262"/><stop offset="1" stop-color="#393939" stop-opacity="0.7"/></linearGradient><linearGradient id="c2_7" x1="0" y1="0" x2="0" y2="1"><stop offset="0" stop-color="#7e7e7e"/><stop offset="0.60" stop-color="#787878"/><stop offset="0.85" stop-color="#686868"/><stop offset="1" stop-color="#393939" stop-opacity="0.7"/></linearGradient><linearGradient id="c2_8" x1="0" y1="0" x2="0" y2="1"><stop offset="0" stop-color="#838383"/><stop offset="0.60" stop-color="#7d7d7d"/><stop offset="0.85" stop-color="#6d6d6d"/><stop offset="1" stop-color="#393939" stop-opacity="0.7"/></linearGradient><linearGradient id="c2_9" x1="0" y1="0" x2="0" y2="1"><stop offset="0" stop-color="#898989"/><stop offset="0.60" stop-color="#828282"/><stop offset="0.85" stop-color="#727272"/><stop offset="1" stop-color="#393939" stop-opacity="0.7"/></linearGradient><linearGradient id="c2_10" x1="0" y1="0" x2="0" y2="1"><stop offset="0" stop-color="#8e8e8e"/><stop offset="0.60" stop-color="#878787"/><stop offset="0.85" stop-color="#787878"/><stop offset="1" stop-color="#393939" stop-opacity="0.7"/></linearGradient><linearGradient id="c2_11" x1="0" y1="0" x2="0" y2="1"><stop offset="0" stop-color="#939393"/><stop offset="0.60" stop-color="#8d8d8d"/><stop offset="0.85" stop-color="#7d7d7d"/><stop offset="1" stop-color="#393939" stop-opacity="0.7"/></linearGradient><linearGradient id="core2_0" x1="0" y1="0" x2="0" y2="1"><stop offset="0" stop-color="#acacac"/><stop offset="0.6" stop-color="#8f8f8f"/><stop offset="1" stop-color="#737373" stop-opacity="0.2"/></linearGradient><linearGradient id="core2_1" x1="0" y1="0" x2="0" y2="1"><stop offset="0" stop-color="#9f9f9f"/><stop offset="0.6" stop-color="#838383"/><stop offset="1" stop-color="#666666" stop-opacity="0.2"/></linearGradient><linearGradient id="core2_2" x1="0" y1="0" x2="0" y2="1"><stop offset="0" stop-color="#b2b2b2"/><stop offset="0.6" stop-color="#999999"/><stop offset="1" stop-color="#808080" stop-opacity="0.2"/></linearGradient><linearGradient id="red2" x1="0" y1="0" x2="0" y2="1"><stop offset="0" stop-color="#999999"/><stop offset="0.6" stop-color="#8f8f8f"/><stop offset="1" stop-color="#808080" stop-opacity="0.7"/></linearGradient><g id="field2"><rect x="80" y="332.5" width="613.0" height="156.0" fill="#050505"/><rect x="80.0" y="332.5" width="613.0" height="156.0" fill="url(#hiss2_0)"/><rect x="80.0" y="410.5" width="258.5" height="78.0" fill="#0a0a0a"/><rect x="80.0" y="441.0" width="258.5" height="10.0" fill="#020202"/><rect x="338.5" y="381.0" width="234.0" height="18.0" fill="#3d3d3d"/><rect x="338.5" y="399.0" width="234.0" height="3.0" fill="#4d4d4d"/><rect x="338.5" y="402.0" width="234.0" height="14.0" fill="#636363"/><rect x="338.5" y="416.0" width="234.0" height="4.0" fill="#505050"/><rect x="338.5" y="420.0" width="234.0" height="5.0" fill="#434343"/><rect x="338.5" y="425.0" width="234.0" height="5.0" fill="#292929"/><rect x="338.5" y="430.0" width="234.0" height="13.0" fill="#565656"/><rect x="338.5" y="443.0" width="234.0" height="11.0" fill="#696969"/><rect x="338.5" y="453.5" width="354.5" height="35.0" fill="#131313"/><rect x="572.5" y="383.0" width="120.5" height="42.0" fill="#292929"/><rect x="572.5" y="425.0" width="120.5" height="7.0" fill="#494949"/><rect x="572.5" y="432.0" width="120.5" height="23.0" fill="#1a1a1a"/><rect x="80" y="332.5" width="1" height="97.8" fill="url(#c2_9)"/><rect x="81" y="332.5" width="1" height="78.4" fill="url(#c2_8)"/><rect x="82" y="332.5" width="1" height="67.0" fill="url(#c2_6)"/><rect x="83" y="332.5" width="1" height="87.8" fill="url(#c2_10)"/><rect x="84" y="332.5" width="1" height="61.6" fill="url(#c2_7)"/><rect x="85" y="332.5" width="1" height="47.1" fill="url(#c2_5)"/><rect x="86" y="332.5" width="1" height="75.5" fill="url(#c2_11)"/><rect x="87" y="332.5" width="1" height="56.5" fill="url(#c2_3)"/><rect x="88" y="332.5" width="1" height="52.4" fill="url(#c2_4)"/><rect x="89" y="332.5" width="1" height="65.2" fill="url(#c2_6)"/><rect x="90" y="332.5" width="1" height="44.7" fill="url(#c2_7)"/><rect x="91" y="332.5" width="1" height="66.5" fill="url(#c2_11)"/><rect x="92" y="332.5" width="1" height="53.1" fill="url(#c2_5)"/><rect x="93" y="332.5" width="1" height="87.9" fill="url(#c2_7)"/><rect x="94" y="332.5" width="1" height="75.0" fill="url(#c2_10)"/><rect x="95" y="332.5" width="1" height="52.8" fill="url(#c2_7)"/><rect x="96" y="332.5" width="1" height="42.4" fill="url(#c2_6)"/><rect x="97" y="332.5" width="1" height="43.7" fill="url(#c2_0)"/><rect x="98" y="332.5" width="1" height="37.3" fill="url(#c2_4)"/><rect x="99" y="332.5" width="1" height="51.6" fill="url(#c2_5)"/><rect x="100" y="332.5" width="1" height="47.3" fill="url(#c2_1)"/><rect x="101" y="332.5" width="1" height="30.9" fill="url(#c2_0)"/><rect x="102" y="332.5" width="1" height="54.5" fill="url(#c2_1)"/><rect x="103" y="332.5" width="1" height="92.3" fill="url(#c2_10)"/><rect x="104" y="332.5" width="1" height="98.1" fill="url(#c2_10)"/><rect x="105" y="332.5" width="1" height="68.2" fill="url(#c2_5)"/><rect x="106" y="332.5" width="1" height="103.3" fill="url(#c2_9)"/><rect x="107" y="332.5" width="1" height="93.7" fill="url(#c2_8)"/><rect x="108" y="332.5" width="1" height="87.7" fill="url(#c2_11)"/><rect x="109" y="332.5" width="1" height="74.7" fill="url(#c2_11)"/><rect x="110" y="332.5" width="1" height="60.6" fill="url(#c2_5)"/><rect x="111" y="332.5" width="1" height="61.8" fill="url(#c2_5)"/><rect x="112" y="332.5" width="1" height="57.8" fill="url(#c2_7)"/><rect x="113" y="332.5" width="1" height="69.8" fill="url(#c2_11)"/><rect x="114" y="332.5" width="1" height="98.9" fill="url(#c2_11)"/><rect x="115" y="332.5" width="1" height="96.9" fill="url(#c2_11)"/><rect x="116" y="332.5" width="1" height="45.5" fill="url(#c2_0)"/><rect x="117" y="332.5" width="1" height="65.4" fill="url(#c2_4)"/><rect x="118" y="332.5" width="1" height="63.3" fill="url(#c2_7)"/><rect x="119" y="332.5" width="1" height="49.2" fill="url(#c2_3)"/><rect x="120" y="332.5" width="1" height="54.7" fill="url(#c2_4)"/><rect x="121" y="332.5" width="1" height="44.4" fill="url(#c2_1)"/><rect x="122" y="332.5" width="1" height="49.3" fill="url(#c2_6)"/><rect x="123" y="332.5" width="1" height="56.7" fill="url(#c2_11)"/><rect x="124" y="332.5" width="1" height="65.0" fill="url(#c2_9)"/><rect x="125" y="332.5" width="1" height="41.1" fill="url(#c2_2)"/><rect x="126" y="332.5" width="1" height="41.3" fill="url(#c2_6)"/><rect x="127" y="332.5" width="1" height="63.1" fill="url(#c2_9)"/><rect x="128" y="332.5" width="1" height="46.4" fill="url(#c2_2)"/><rect x="129" y="332.5" width="1" height="29.7" fill="url(#c2_0)"/><rect x="130" y="332.5" width="1" height="35.0" fill="url(#c2_1)"/><rect x="131" y="332.5" width="1" height="45.0" fill="url(#c2_4)"/><rect x="132" y="332.5" width="1" height="72.2" fill="url(#c2_9)"/><rect x="133" y="332.5" width="1" height="55.9" fill="url(#c2_3)"/><rect x="134" y="332.5" width="1" height="59.2" fill="url(#c2_1)"/><rect x="135" y="332.5" width="1" height="91.1" fill="url(#c2_9)"/><rect x="136" y="332.5" width="1" height="88.4" fill="url(#c2_11)"/><rect x="137" y="332.5" width="1" height="93.8" fill="url(#c2_11)"/><rect x="138" y="332.5" width="1" height="60.1" fill="url(#c2_8)"/><rect x="139" y="332.5" width="1" height="55.9" fill="url(#c2_6)"/><rect x="140" y="332.5" width="1" height="77.4" fill="url(#c2_9)"/><rect x="141" y="332.5" width="1" height="72.0" fill="url(#c2_10)"/><rect x="142" y="332.5" width="1" height="73.8" fill="url(#c2_3)"/><rect x="143" y="332.5" width="1" height="74.3" fill="url(#c2_3)"/><rect x="144" y="332.5" width="1" height="80.2" fill="url(#c2_5)"/><rect x="145" y="332.5" width="1" height="74.3" fill="url(#c2_3)"/><rect x="146" y="332.5" width="1" height="42.6" fill="url(#c2_2)"/><rect x="147" y="332.5" width="1" height="44.9" fill="url(#c2_1)"/><rect x="148" y="332.5" width="1" height="71.8" fill="url(#c2_7)"/><rect x="149" y="332.5" width="1" height="95.9" fill="url(#c2_8)"/><rect x="150" y="332.5" width="1" height="72.7" fill="url(#c2_1)"/><rect x="151" y="332.5" width="1" height="66.6" fill="url(#c2_0)"/><rect x="152" y="332.5" width="1" height="40.1" fill="url(#c2_0)"/><rect x="153" y="332.5" width="1" height="43.7" fill="url(#c2_5)"/><rect x="154" y="332.5" width="1" height="75.2" fill="url(#c2_11)"/><rect x="155" y="332.5" width="1" height="68.3" fill="url(#c2_11)"/><rect x="156" y="332.5" width="1" height="38.0" fill="url(#c2_4)"/><rect x="157" y="332.5" width="1" height="38.8" fill="url(#c2_0)"/><rect x="158" y="332.5" width="1" height="57.3" fill="url(#c2_8)"/><rect x="159" y="332.5" width="1" height="45.9" fill="url(#c2_5)"/><rect x="160" y="332.5" width="1" height="43.2" fill="url(#c2_0)"/><rect x="161" y="332.5" width="1" height="54.5" fill="url(#c2_3)"/><rect x="162" y="332.5" width="1" height="67.7" fill="url(#c2_6)"/><rect x="163" y="332.5" width="1" height="38.9" fill="url(#c2_3)"/><rect x="164" y="332.5" width="1" height="57.9" fill="url(#c2_4)"/><rect x="165" y="332.5" width="1" height="57.6" fill="url(#c2_9)"/><rect x="166" y="332.5" width="1" height="72.7" fill="url(#c2_11)"/><rect x="167" y="332.5" width="1" height="56.3" fill="url(#c2_11)"/><rect x="168" y="332.5" width="1" height="87.7" fill="url(#c2_11)"/><rect x="169" y="332.5" width="1" height="71.6" fill="url(#c2_6)"/><rect x="170" y="332.5" width="1" height="76.7" fill="url(#c2_4)"/><rect x="171" y="332.5" width="1" height="98.0" fill="url(#c2_6)"/><rect x="172" y="332.5" width="1" height="56.1" fill="url(#c2_3)"/><rect x="173" y="332.5" width="1" height="77.2" fill="url(#c2_7)"/><rect x="174" y="332.5" width="1" height="56.2" fill="url(#c2_8)"/><rect x="175" y="332.5" width="1" height="56.8" fill="url(#c2_10)"/><rect x="176" y="332.5" width="1" height="54.2" fill="url(#c2_4)"/><rect x="177" y="332.5" width="1" height="36.4" fill="url(#c2_3)"/><rect x="178" y="332.5" width="1" height="56.0" fill="url(#c2_3)"/><rect x="179" y="332.5" width="1" height="69.9" fill="url(#c2_6)"/><rect x="180" y="332.5" width="1" height="98.9" fill="url(#c2_6)"/><rect x="181" y="332.5" width="1" height="90.4" fill="url(#c2_5)"/><rect x="182" y="332.5" width="1" height="83.1" fill="url(#c2_11)"/><rect x="183" y="332.5" width="1" height="73.9" fill="url(#c2_5)"/><rect x="184" y="332.5" width="1" height="74.4" fill="url(#c2_5)"/><rect x="185" y="332.5" width="1" height="95.4" fill="url(#c2_9)"/><rect x="186" y="332.5" width="1" height="71.0" fill="url(#c2_2)"/><rect x="187" y="332.5" width="1" height="76.2" fill="url(#c2_7)"/><rect x="188" y="332.5" width="1" height="90.4" fill="url(#c2_8)"/><rect x="189" y="332.5" width="1" height="101.8" fill="url(#c2_9)"/><rect x="190" y="332.5" width="1" height="69.3" fill="url(#c2_5)"/><rect x="191" y="332.5" width="1" height="75.6" fill="url(#c2_11)"/><rect x="192" y="332.5" width="1" height="74.9" fill="url(#c2_8)"/><rect x="193" y="332.5" width="1" height="56.2" fill="url(#c2_7)"/><rect x="194" y="332.5" width="1" height="36.9" fill="url(#c2_3)"/><rect x="195" y="332.5" width="1" height="54.1" fill="url(#c2_6)"/><rect x="196" y="332.5" width="1" height="40.9" fill="url(#c2_5)"/><rect x="197" y="332.5" width="1" height="56.8" fill="url(#c2_6)"/><rect x="198" y="332.5" width="1" height="66.4" fill="url(#c2_10)"/><rect x="199" y="332.5" width="1" height="75.1" fill="url(#c2_8)"/><rect x="200" y="332.5" width="1" height="96.3" fill="url(#c2_10)"/><rect x="201" y="332.5" width="1" height="93.8" fill="url(#c2_8)"/><rect x="202" y="332.5" width="1" height="76.3" fill="url(#c2_3)"/><rect x="203" y="332.5" width="1" height="41.6" fill="url(#c2_1)"/><rect x="204" y="332.5" width="1" height="30.7" fill="url(#c2_0)"/><rect x="205" y="332.5" width="1" height="33.3" fill="url(#c2_0)"/><rect x="206" y="332.5" width="1" height="53.3" fill="url(#c2_4)"/><rect x="207" y="332.5" width="1" height="82.7" fill="url(#c2_10)"/><rect x="208" y="332.5" width="1" height="83.6" fill="url(#c2_5)"/><rect x="209" y="332.5" width="1" height="86.5" fill="url(#c2_8)"/><rect x="210" y="332.5" width="1" height="79.4" fill="url(#c2_6)"/><rect x="211" y="332.5" width="1" height="33.0" fill="url(#c2_0)"/><rect x="212" y="332.5" width="1" height="38.9" fill="url(#c2_0)"/><rect x="213" y="332.5" width="1" height="42.3" fill="url(#c2_0)"/><rect x="214" y="332.5" width="1" height="51.9" fill="url(#c2_0)"/><rect x="215" y="332.5" width="1" height="69.8" fill="url(#c2_2)"/><rect x="216" y="332.5" width="1" height="62.1" fill="url(#c2_3)"/><rect x="217" y="332.5" width="1" height="67.8" fill="url(#c2_3)"/><rect x="218" y="332.5" width="1" height="55.1" fill="url(#c2_6)"/><rect x="219" y="332.5" width="1" height="75.3" fill="url(#c2_10)"/><rect x="220" y="332.5" width="1" height="90.8" fill="url(#c2_10)"/><rect x="221" y="332.5" width="1" height="108.7" fill="url(#c2_11)"/><rect x="222" y="332.5" width="1" height="70.9" fill="url(#c2_7)"/><rect x="223" y="332.5" width="1" height="73.5" fill="url(#c2_10)"/><rect x="224" y="332.5" width="1" height="54.2" fill="url(#c2_7)"/><rect x="225" y="332.5" width="1" height="36.0" fill="url(#c2_3)"/><rect x="226" y="332.5" width="1" height="65.6" fill="url(#c2_11)"/><rect x="227" y="332.5" width="1" height="49.0" fill="url(#c2_5)"/><rect x="228" y="332.5" width="1" height="32.3" fill="url(#c2_0)"/><rect x="229" y="332.5" width="1" height="30.8" fill="url(#c2_0)"/><rect x="230" y="332.5" width="1" height="30.5" fill="url(#c2_1)"/><rect x="231" y="332.5" width="1" height="47.2" fill="url(#c2_3)"/><rect x="232" y="332.5" width="1" height="38.7" fill="url(#c2_5)"/><rect x="233" y="332.5" width="1" height="52.6" fill="url(#c2_4)"/><rect x="234" y="332.5" width="1" height="61.2" fill="url(#c2_7)"/><rect x="235" y="332.5" width="1" height="38.3" fill="url(#c2_4)"/><rect x="236" y="332.5" width="1" height="44.1" fill="url(#c2_2)"/><rect x="237" y="332.5" width="1" height="63.1" fill="url(#c2_5)"/><rect x="238" y="332.5" width="1" height="47.4" fill="url(#c2_5)"/><rect x="239" y="332.5" width="1" height="41.5" fill="url(#c2_1)"/><rect x="240" y="332.5" width="1" height="50.5" fill="url(#c2_2)"/><rect x="241" y="332.5" width="1" height="48.6" fill="url(#c2_3)"/><rect x="242" y="332.5" width="1" height="74.5" fill="url(#c2_8)"/><rect x="243" y="332.5" width="1" height="68.8" fill="url(#c2_8)"/><rect x="244" y="332.5" width="1" height="73.6" fill="url(#c2_8)"/><rect x="245" y="332.5" width="1" height="117.8" fill="url(#c2_11)"/><rect x="246" y="332.5" width="1" height="92.0" fill="url(#c2_6)"/><rect x="247" y="332.5" width="1" height="66.0" fill="url(#c2_3)"/><rect x="248" y="332.5" width="1" height="62.5" fill="url(#c2_7)"/><rect x="249" y="332.5" width="1" height="74.7" fill="url(#c2_8)"/><rect x="250" y="332.5" width="1" height="68.5" fill="url(#c2_7)"/><rect x="251" y="332.5" width="1" height="61.3" fill="url(#c2_8)"/><rect x="252" y="332.5" width="1" height="80.9" fill="url(#c2_11)"/><rect x="253" y="332.5" width="1" height="66.1" fill="url(#c2_10)"/><rect x="254" y="332.5" width="1" height="61.3" fill="url(#c2_5)"/><rect x="255" y="332.5" width="1" height="41.8" fill="url(#c2_1)"/><rect x="256" y="332.5" width="1" height="49.6" fill="url(#c2_2)"/><rect x="257" y="332.5" width="1" height="66.6" fill="url(#c2_7)"/><rect x="258" y="332.5" width="1" height="83.1" fill="url(#c2_11)"/><rect x="259" y="332.5" width="1" height="38.2" fill="url(#c2_2)"/><rect x="260" y="332.5" width="1" height="74.6" fill="url(#c2_3)"/><rect x="261" y="332.5" width="1" height="89.6" fill="url(#c2_6)"/><rect x="262" y="332.5" width="1" height="74.5" fill="url(#c2_2)"/><rect x="263" y="332.5" width="1" height="65.9" fill="url(#c2_2)"/><rect x="264" y="332.5" width="1" height="37.6" fill="url(#c2_0)"/><rect x="265" y="332.5" width="1" height="41.4" fill="url(#c2_2)"/><rect x="266" y="332.5" width="1" height="68.7" fill="url(#c2_11)"/><rect x="267" y="332.5" width="1" height="88.8" fill="url(#c2_9)"/><rect x="268" y="332.5" width="1" height="58.0" fill="url(#c2_2)"/><rect x="269" y="332.5" width="1" height="70.3" fill="url(#c2_6)"/><rect x="270" y="332.5" width="1" height="77.2" fill="url(#c2_11)"/><rect x="271" y="332.5" width="1" height="101.2" fill="url(#c2_11)"/><rect x="272" y="332.5" width="1" height="74.0" fill="url(#c2_11)"/><rect x="273" y="332.5" width="1" height="60.5" fill="url(#c2_6)"/><rect x="274" y="332.5" width="1" height="40.0" fill="url(#c2_0)"/><rect x="275" y="332.5" width="1" height="24.4" fill="url(#c2_0)"/><rect x="276" y="332.5" width="1" height="31.3" fill="url(#c2_1)"/><rect x="277" y="332.5" width="1" height="28.6" fill="url(#c2_2)"/><rect x="278" y="332.5" width="1" height="39.0" fill="url(#c2_1)"/><rect x="279" y="332.5" width="1" height="53.2" fill="url(#c2_5)"/><rect x="280" y="332.5" width="1" height="55.1" fill="url(#c2_5)"/><rect x="281" y="332.5" width="1" height="79.1" fill="url(#c2_11)"/><rect x="282" y="332.5" width="1" height="68.8" fill="url(#c2_9)"/><rect x="283" y="332.5" width="1" height="51.0" fill="url(#c2_6)"/><rect x="284" y="332.5" width="1" height="61.2" fill="url(#c2_6)"/><rect x="285" y="332.5" width="1" height="60.7" fill="url(#c2_11)"/><rect x="286" y="332.5" width="1" height="58.5" fill="url(#c2_10)"/><rect x="287" y="332.5" width="1" height="50.8" fill="url(#c2_6)"/><rect x="288" y="332.5" width="1" height="43.1" fill="url(#c2_5)"/><rect x="289" y="332.5" width="1" height="86.0" fill="url(#c2_9)"/><rect x="290" y="332.5" width="1" height="87.5" fill="url(#c2_6)"/><rect x="291" y="332.5" width="1" height="82.6" fill="url(#c2_4)"/><rect x="292" y="332.5" width="1" height="71.0" fill="url(#c2_5)"/><rect x="293" y="332.5" width="1" height="46.1" fill="url(#c2_1)"/><rect x="294" y="332.5" width="1" height="35.1" fill="url(#c2_2)"/><rect x="295" y="332.5" width="1" height="29.4" fill="url(#c2_3)"/><rect x="296" y="332.5" width="1" height="55.6" fill="url(#c2_8)"/><rect x="297" y="332.5" width="1" height="51.8" fill="url(#c2_5)"/><rect x="298" y="332.5" width="1" height="61.5" fill="url(#c2_8)"/><rect x="299" y="332.5" width="1" height="60.9" fill="url(#c2_7)"/><rect x="300" y="332.5" width="1" height="66.6" fill="url(#c2_6)"/><rect x="301" y="332.5" width="1" height="57.2" fill="url(#c2_7)"/><rect x="302" y="332.5" width="1" height="76.6" fill="url(#c2_8)"/><rect x="303" y="332.5" width="1" height="47.0" fill="url(#c2_4)"/><rect x="304" y="332.5" width="1" height="77.9" fill="url(#c2_5)"/><rect x="305" y="332.5" width="1" height="78.7" fill="url(#c2_4)"/><rect x="306" y="332.5" width="1" height="100.2" fill="url(#c2_8)"/><rect x="307" y="332.5" width="1" height="86.1" fill="url(#c2_11)"/><rect x="308" y="332.5" width="1" height="87.1" fill="url(#c2_11)"/><rect x="309" y="332.5" width="1" height="62.0" fill="url(#c2_10)"/><rect x="310" y="332.5" width="1" height="49.8" fill="url(#c2_5)"/><rect x="311" y="332.5" width="1" height="83.6" fill="url(#c2_11)"/><rect x="312" y="332.5" width="1" height="94.1" fill="url(#c2_11)"/><rect x="313" y="332.5" width="1" height="82.6" fill="url(#c2_10)"/><rect x="314" y="332.5" width="1" height="72.5" fill="url(#c2_8)"/><rect x="315" y="332.5" width="1" height="52.6" fill="url(#c2_5)"/><rect x="316" y="332.5" width="1" height="48.5" fill="url(#c2_7)"/><rect x="317" y="332.5" width="1" height="65.0" fill="url(#c2_4)"/><rect x="318" y="332.5" width="1" height="65.2" fill="url(#c2_5)"/><rect x="319" y="332.5" width="1" height="75.7" fill="url(#c2_0)"/><rect x="320" y="332.5" width="1" height="51.2" fill="url(#c2_1)"/><rect x="321" y="332.5" width="1" height="59.0" fill="url(#c2_8)"/><rect x="322" y="332.5" width="1" height="63.3" fill="url(#c2_6)"/><rect x="323" y="332.5" width="1" height="46.8" fill="url(#c2_4)"/><rect x="324" y="332.5" width="1" height="61.3" fill="url(#c2_6)"/><rect x="325" y="332.5" width="1" height="57.1" fill="url(#c2_5)"/><rect x="326" y="332.5" width="1" height="96.4" fill="url(#c2_10)"/><rect x="327" y="332.5" width="1" height="77.0" fill="url(#c2_6)"/><rect x="328" y="332.5" width="1" height="79.2" fill="url(#c2_5)"/><rect x="329" y="332.5" width="1" height="55.5" fill="url(#c2_3)"/><rect x="330" y="332.5" width="1" height="51.4" fill="url(#c2_3)"/><rect x="331" y="332.5" width="1" height="82.0" fill="url(#c2_4)"/><rect x="332" y="332.5" width="1" height="109.7" fill="url(#c2_10)"/><rect x="333" y="332.5" width="1" height="71.5" fill="url(#c2_4)"/><rect x="334" y="332.5" width="1" height="55.8" fill="url(#c2_7)"/><rect x="335" y="332.5" width="1" height="69.6" fill="url(#c2_9)"/><rect x="336" y="332.5" width="1" height="76.8" fill="url(#c2_11)"/><rect x="337" y="332.5" width="1" height="76.7" fill="url(#c2_11)"/><rect x="338" y="332.5" width="1" height="76.5" fill="url(#c2_11)"/><rect x="339" y="332.5" width="1" height="68.3" fill="url(#c2_5)"/><rect x="340" y="332.5" width="1" height="37.6" fill="url(#c2_0)"/><rect x="341" y="332.5" width="1" height="41.2" fill="url(#c2_0)"/><rect x="342" y="332.5" width="1" height="35.7" fill="url(#c2_0)"/><rect x="343" y="332.5" width="1" height="36.4" fill="url(#c2_0)"/><rect x="344" y="332.5" width="1" height="20.2" fill="url(#c2_0)"/><rect x="345" y="332.5" width="1" height="26.9" fill="url(#c2_0)"/><rect x="346" y="332.5" width="1" height="26.5" fill="url(#c2_0)"/><rect x="347" y="332.5" width="1" height="34.5" fill="url(#c2_2)"/><rect x="348" y="332.5" width="1" height="47.9" fill="url(#c2_6)"/><rect x="349" y="332.5" width="1" height="79.8" fill="url(#c2_11)"/><rect x="350" y="332.5" width="1" height="79.4" fill="url(#c2_11)"/><rect x="351" y="332.5" width="1" height="71.0" fill="url(#c2_6)"/><rect x="352" y="332.5" width="1" height="55.3" fill="url(#c2_7)"/><rect x="353" y="332.5" width="1" height="72.8" fill="url(#c2_10)"/><rect x="354" y="332.5" width="1" height="64.5" fill="url(#c2_8)"/><rect x="355" y="332.5" width="1" height="60.3" fill="url(#c2_10)"/><rect x="356" y="332.5" width="1" height="27.5" fill="url(#c2_2)"/><rect x="357" y="332.5" width="1" height="51.0" fill="url(#c2_5)"/><rect x="358" y="332.5" width="1" height="60.5" fill="url(#c2_7)"/><rect x="359" y="332.5" width="1" height="64.0" fill="url(#c2_6)"/><rect x="360" y="332.5" width="1" height="82.0" fill="url(#c2_11)"/><rect x="361" y="332.5" width="1" height="78.7" fill="url(#c2_11)"/><rect x="362" y="332.5" width="1" height="60.6" fill="url(#c2_7)"/><rect x="363" y="332.5" width="1" height="49.4" fill="url(#c2_3)"/><rect x="364" y="332.5" width="1" height="66.7" fill="url(#c2_8)"/><rect x="365" y="332.5" width="1" height="48.3" fill="url(#c2_5)"/><rect x="366" y="332.5" width="1" height="53.0" fill="url(#c2_3)"/><rect x="367" y="332.5" width="1" height="57.3" fill="url(#c2_9)"/><rect x="368" y="332.5" width="1" height="81.2" fill="url(#c2_8)"/><rect x="369" y="332.5" width="1" height="70.0" fill="url(#c2_9)"/><rect x="370" y="332.5" width="1" height="82.8" fill="url(#c2_8)"/><rect x="371" y="332.5" width="1" height="94.1" fill="url(#c2_6)"/><rect x="372" y="332.5" width="1" height="68.3" fill="url(#c2_6)"/><rect x="373" y="332.5" width="1" height="54.2" fill="url(#c2_0)"/><rect x="374" y="332.5" width="1" height="43.2" fill="url(#c2_3)"/><rect x="375" y="332.5" width="1" height="30.5" fill="url(#c2_1)"/><rect x="376" y="332.5" width="1" height="44.2" fill="url(#c2_2)"/><rect x="377" y="332.5" width="1" height="48.8" fill="url(#c2_0)"/><rect x="378" y="332.5" width="1" height="65.8" fill="url(#c2_7)"/><rect x="379" y="332.5" width="1" height="82.1" fill="url(#c2_11)"/><rect x="380" y="332.5" width="1" height="67.8" fill="url(#c2_7)"/><rect x="381" y="332.5" width="1" height="72.8" fill="url(#c2_5)"/><rect x="382" y="332.5" width="1" height="59.1" fill="url(#c2_4)"/><rect x="383" y="332.5" width="1" height="56.4" fill="url(#c2_7)"/><rect x="384" y="332.5" width="1" height="25.4" fill="url(#c2_0)"/><rect x="385" y="332.5" width="1" height="55.8" fill="url(#c2_4)"/><rect x="386" y="332.5" width="1" height="62.4" fill="url(#c2_7)"/><rect x="387" y="332.5" width="1" height="45.5" fill="url(#c2_0)"/><rect x="388" y="332.5" width="1" height="76.4" fill="url(#c2_5)"/><rect x="389" y="332.5" width="1" height="104.0" fill="url(#c2_11)"/><rect x="390" y="332.5" width="1" height="86.9" fill="url(#c2_7)"/><rect x="391" y="332.5" width="1" height="60.0" fill="url(#c2_4)"/><rect x="392" y="332.5" width="1" height="61.1" fill="url(#c2_5)"/><rect x="393" y="332.5" width="1" height="26.7" fill="url(#c2_0)"/><rect x="394" y="332.5" width="1" height="41.8" fill="url(#c2_0)"/><rect x="395" y="332.5" width="1" height="62.9" fill="url(#c2_6)"/><rect x="396" y="332.5" width="1" height="67.9" fill="url(#c2_8)"/><rect x="397" y="332.5" width="1" height="40.6" fill="url(#c2_4)"/><rect x="398" y="332.5" width="1" height="43.1" fill="url(#c2_4)"/><rect x="399" y="332.5" width="1" height="57.5" fill="url(#c2_11)"/><rect x="400" y="332.5" width="1" height="40.0" fill="url(#c2_6)"/><rect x="401" y="332.5" width="1" height="25.5" fill="url(#c2_0)"/><rect x="402" y="332.5" width="1" height="42.9" fill="url(#c2_3)"/><rect x="403" y="332.5" width="1" height="58.7" fill="url(#c2_10)"/><rect x="404" y="332.5" width="1" height="56.8" fill="url(#c2_5)"/><rect x="405" y="332.5" width="1" height="70.0" fill="url(#c2_7)"/><rect x="406" y="332.5" width="1" height="54.4" fill="url(#c2_6)"/><rect x="407" y="332.5" width="1" height="91.4" fill="url(#c2_8)"/><rect x="408" y="332.5" width="1" height="91.1" fill="url(#c2_6)"/><rect x="409" y="332.5" width="1" height="64.3" fill="url(#c2_2)"/><rect x="410" y="332.5" width="1" height="62.6" fill="url(#c2_4)"/><rect x="411" y="332.5" width="1" height="56.3" fill="url(#c2_5)"/><rect x="412" y="332.5" width="1" height="37.2" fill="url(#c2_5)"/><rect x="413" y="332.5" width="1" height="64.1" fill="url(#c2_11)"/><rect x="414" y="332.5" width="1" height="83.4" fill="url(#c2_11)"/><rect x="415" y="332.5" width="1" height="49.4" fill="url(#c2_6)"/><rect x="416" y="332.5" width="1" height="48.8" fill="url(#c2_3)"/><rect x="417" y="332.5" width="1" height="69.2" fill="url(#c2_9)"/><rect x="418" y="332.5" width="1" height="49.4" fill="url(#c2_8)"/><rect x="419" y="332.5" width="1" height="33.6" fill="url(#c2_1)"/><rect x="420" y="332.5" width="1" height="26.8" fill="url(#c2_0)"/><rect x="421" y="332.5" width="1" height="39.3" fill="url(#c2_0)"/><rect x="422" y="332.5" width="1" height="29.9" fill="url(#c2_2)"/><rect x="423" y="332.5" width="1" height="31.2" fill="url(#c2_3)"/><rect x="424" y="332.5" width="1" height="51.0" fill="url(#c2_9)"/><rect x="425" y="332.5" width="1" height="55.2" fill="url(#c2_7)"/><rect x="426" y="332.5" width="1" height="60.3" fill="url(#c2_11)"/><rect x="427" y="332.5" width="1" height="56.9" fill="url(#c2_8)"/><rect x="428" y="332.5" width="1" height="23.2" fill="url(#c2_0)"/><rect x="429" y="332.5" width="1" height="36.7" fill="url(#c2_0)"/><rect x="430" y="332.5" width="1" height="40.0" fill="url(#c2_0)"/><rect x="431" y="332.5" width="1" height="30.6" fill="url(#c2_3)"/><rect x="432" y="332.5" width="1" height="73.6" fill="url(#c2_10)"/><rect x="433" y="332.5" width="1" height="53.1" fill="url(#c2_10)"/><rect x="434" y="332.5" width="1" height="52.8" fill="url(#c2_10)"/><rect x="435" y="332.5" width="1" height="67.9" fill="url(#c2_8)"/><rect x="436" y="332.5" width="1" height="57.6" fill="url(#c2_8)"/><rect x="437" y="332.5" width="1" height="57.5" fill="url(#c2_11)"/><rect x="438" y="332.5" width="1" height="58.8" fill="url(#c2_11)"/><rect x="439" y="332.5" width="1" height="46.7" fill="url(#c2_6)"/><rect x="440" y="332.5" width="1" height="47.3" fill="url(#c2_3)"/><rect x="441" y="332.5" width="1" height="48.7" fill="url(#c2_2)"/><rect x="442" y="332.5" width="1" height="19.7" fill="url(#c2_0)"/><rect x="443" y="332.5" width="1" height="39.5" fill="url(#c2_5)"/><rect x="444" y="332.5" width="1" height="57.9" fill="url(#c2_8)"/><rect x="445" y="332.5" width="1" height="61.6" fill="url(#c2_2)"/><rect x="446" y="332.5" width="1" height="66.8" fill="url(#c2_6)"/><rect x="447" y="332.5" width="1" height="107.3" fill="url(#c2_11)"/><rect x="448" y="332.5" width="1" height="97.2" fill="url(#c2_11)"/><rect x="449" y="332.5" width="1" height="63.5" fill="url(#c2_7)"/><rect x="450" y="332.5" width="1" height="60.7" fill="url(#c2_4)"/><rect x="451" y="332.5" width="1" height="73.3" fill="url(#c2_9)"/><rect x="452" y="332.5" width="1" height="56.3" fill="url(#c2_8)"/><rect x="453" y="332.5" width="1" height="52.9" fill="url(#c2_6)"/><rect x="454" y="332.5" width="1" height="50.3" fill="url(#c2_8)"/><rect x="455" y="332.5" width="1" height="72.1" fill="url(#c2_11)"/><rect x="456" y="332.5" width="1" height="60.4" fill="url(#c2_10)"/><rect x="457" y="332.5" width="1" height="57.0" fill="url(#c2_8)"/><rect x="458" y="332.5" width="1" height="58.7" fill="url(#c2_11)"/><rect x="459" y="332.5" width="1" height="63.5" fill="url(#c2_7)"/><rect x="460" y="332.5" width="1" height="54.0" fill="url(#c2_0)"/><rect x="461" y="332.5" width="1" height="85.6" fill="url(#c2_8)"/><rect x="462" y="332.5" width="1" height="77.0" fill="url(#c2_11)"/><rect x="463" y="332.5" width="1" height="78.3" fill="url(#c2_7)"/><rect x="464" y="332.5" width="1" height="74.5" fill="url(#c2_10)"/><rect x="465" y="332.5" width="1" height="63.3" fill="url(#c2_6)"/><rect x="466" y="332.5" width="1" height="33.8" fill="url(#c2_0)"/><rect x="467" y="332.5" width="1" height="49.8" fill="url(#c2_4)"/><rect x="468" y="332.5" width="1" height="45.3" fill="url(#c2_7)"/><rect x="469" y="332.5" width="1" height="42.7" fill="url(#c2_0)"/><rect x="470" y="332.5" width="1" height="53.1" fill="url(#c2_3)"/><rect x="471" y="332.5" width="1" height="73.7" fill="url(#c2_9)"/><rect x="472" y="332.5" width="1" height="56.2" fill="url(#c2_4)"/><rect x="473" y="332.5" width="1" height="62.1" fill="url(#c2_1)"/><rect x="474" y="332.5" width="1" height="54.2" fill="url(#c2_2)"/><rect x="475" y="332.5" width="1" height="72.4" fill="url(#c2_8)"/><rect x="476" y="332.5" width="1" height="64.0" fill="url(#c2_7)"/><rect x="477" y="332.5" width="1" height="37.8" fill="url(#c2_0)"/><rect x="478" y="332.5" width="1" height="46.9" fill="url(#c2_1)"/><rect x="479" y="332.5" width="1" height="70.8" fill="url(#c2_8)"/><rect x="480" y="332.5" width="1" height="55.0" fill="url(#c2_7)"/><rect x="481" y="332.5" width="1" height="48.4" fill="url(#c2_5)"/><rect x="482" y="332.5" width="1" height="59.8" fill="url(#c2_7)"/><rect x="483" y="332.5" width="1" height="76.5" fill="url(#c2_3)"/><rect x="484" y="332.5" width="1" height="106.9" fill="url(#c2_11)"/><rect x="485" y="332.5" width="1" height="76.2" fill="url(#c2_6)"/><rect x="486" y="332.5" width="1" height="42.2" fill="url(#c2_0)"/><rect x="487" y="332.5" width="1" height="28.5" fill="url(#c2_2)"/><rect x="488" y="332.5" width="1" height="59.6" fill="url(#c2_9)"/><rect x="489" y="332.5" width="1" height="61.2" fill="url(#c2_11)"/><rect x="490" y="332.5" width="1" height="55.7" fill="url(#c2_9)"/><rect x="491" y="332.5" width="1" height="51.2" fill="url(#c2_4)"/><rect x="492" y="332.5" width="1" height="58.8" fill="url(#c2_6)"/><rect x="493" y="332.5" width="1" height="67.6" fill="url(#c2_10)"/><rect x="494" y="332.5" width="1" height="56.6" fill="url(#c2_8)"/><rect x="495" y="332.5" width="1" height="54.4" fill="url(#c2_5)"/><rect x="496" y="332.5" width="1" height="57.1" fill="url(#c2_4)"/><rect x="497" y="332.5" width="1" height="59.9" fill="url(#c2_3)"/><rect x="498" y="332.5" width="1" height="51.0" fill="url(#c2_2)"/><rect x="499" y="332.5" width="1" height="37.0" fill="url(#c2_3)"/><rect x="500" y="332.5" width="1" height="52.2" fill="url(#c2_9)"/><rect x="501" y="332.5" width="1" height="63.9" fill="url(#c2_6)"/><rect x="502" y="332.5" width="1" height="61.8" fill="url(#c2_5)"/><rect x="503" y="332.5" width="1" height="65.0" fill="url(#c2_7)"/><rect x="504" y="332.5" width="1" height="37.5" fill="url(#c2_0)"/><rect x="505" y="332.5" width="1" height="45.4" fill="url(#c2_5)"/><rect x="506" y="332.5" width="1" height="58.8" fill="url(#c2_4)"/><rect x="507" y="332.5" width="1" height="43.8" fill="url(#c2_0)"/><rect x="508" y="332.5" width="1" height="71.8" fill="url(#c2_6)"/><rect x="509" y="332.5" width="1" height="82.5" fill="url(#c2_10)"/><rect x="510" y="332.5" width="1" height="74.7" fill="url(#c2_8)"/><rect x="511" y="332.5" width="1" height="70.9" fill="url(#c2_10)"/><rect x="512" y="332.5" width="1" height="68.4" fill="url(#c2_10)"/><rect x="513" y="332.5" width="1" height="64.6" fill="url(#c2_11)"/><rect x="514" y="332.5" width="1" height="68.4" fill="url(#c2_8)"/><rect x="515" y="332.5" width="1" height="60.8" fill="url(#c2_5)"/><rect x="516" y="332.5" width="1" height="49.3" fill="url(#c2_6)"/><rect x="517" y="332.5" width="1" height="33.6" fill="url(#c2_0)"/><rect x="518" y="332.5" width="1" height="55.9" fill="url(#c2_4)"/><rect x="519" y="332.5" width="1" height="68.5" fill="url(#c2_11)"/><rect x="520" y="332.5" width="1" height="75.1" fill="url(#c2_11)"/><rect x="521" y="332.5" width="1" height="96.1" fill="url(#c2_9)"/><rect x="522" y="332.5" width="1" height="70.4" fill="url(#c2_3)"/><rect x="523" y="332.5" width="1" height="85.4" fill="url(#c2_4)"/><rect x="524" y="332.5" width="1" height="79.6" fill="url(#c2_6)"/><rect x="525" y="332.5" width="1" height="46.0" fill="url(#c2_5)"/><rect x="526" y="332.5" width="1" height="35.3" fill="url(#c2_1)"/><rect x="527" y="332.5" width="1" height="54.7" fill="url(#c2_3)"/><rect x="528" y="332.5" width="1" height="66.4" fill="url(#c2_2)"/><rect x="529" y="332.5" width="1" height="39.6" fill="url(#c2_1)"/><rect x="530" y="332.5" width="1" height="57.3" fill="url(#c2_3)"/><rect x="531" y="332.5" width="1" height="72.2" fill="url(#c2_9)"/><rect x="532" y="332.5" width="1" height="39.0" fill="url(#c2_0)"/><rect x="533" y="332.5" width="1" height="45.0" fill="url(#c2_1)"/><rect x="534" y="332.5" width="1" height="57.9" fill="url(#c2_3)"/><rect x="535" y="332.5" width="1" height="68.4" fill="url(#c2_5)"/><rect x="536" y="332.5" width="1" height="66.2" fill="url(#c2_8)"/><rect x="537" y="332.5" width="1" height="40.0" fill="url(#c2_2)"/><rect x="538" y="332.5" width="1" height="83.7" fill="url(#c2_9)"/><rect x="539" y="332.5" width="1" height="107.4" fill="url(#c2_11)"/><rect x="540" y="332.5" width="1" height="87.5" fill="url(#c2_11)"/><rect x="541" y="332.5" width="1" height="62.5" fill="url(#c2_9)"/><rect x="542" y="332.5" width="1" height="59.9" fill="url(#c2_5)"/><rect x="543" y="332.5" width="1" height="51.1" fill="url(#c2_8)"/><rect x="544" y="332.5" width="1" height="59.4" fill="url(#c2_8)"/><rect x="545" y="332.5" width="1" height="59.1" fill="url(#c2_10)"/><rect x="546" y="332.5" width="1" height="62.4" fill="url(#c2_6)"/><rect x="547" y="332.5" width="1" height="67.5" fill="url(#c2_3)"/><rect x="548" y="332.5" width="1" height="100.0" fill="url(#c2_8)"/><rect x="549" y="332.5" width="1" height="75.2" fill="url(#c2_6)"/><rect x="550" y="332.5" width="1" height="50.7" fill="url(#c2_3)"/><rect x="551" y="332.5" width="1" height="42.2" fill="url(#c2_0)"/><rect x="552" y="332.5" width="1" height="43.1" fill="url(#c2_4)"/><rect x="553" y="332.5" width="1" height="84.2" fill="url(#c2_11)"/><rect x="554" y="332.5" width="1" height="70.3" fill="url(#c2_5)"/><rect x="555" y="332.5" width="1" height="67.8" fill="url(#c2_5)"/><rect x="556" y="332.5" width="1" height="43.0" fill="url(#c2_5)"/><rect x="557" y="332.5" width="1" height="53.0" fill="url(#c2_3)"/><rect x="558" y="332.5" width="1" height="68.1" fill="url(#c2_9)"/><rect x="559" y="332.5" width="1" height="21.3" fill="url(#c2_0)"/><rect x="560" y="332.5" width="1" height="40.7" fill="url(#c2_1)"/><rect x="561" y="332.5" width="1" height="44.4" fill="url(#c2_7)"/><rect x="562" y="332.5" width="1" height="56.7" fill="url(#c2_6)"/><rect x="563" y="332.5" width="1" height="60.5" fill="url(#c2_8)"/><rect x="564" y="332.5" width="1" height="77.4" fill="url(#c2_11)"/><rect x="565" y="332.5" width="1" height="61.8" fill="url(#c2_10)"/><rect x="566" y="332.5" width="1" height="46.7" fill="url(#c2_4)"/><rect x="567" y="332.5" width="1" height="67.5" fill="url(#c2_8)"/><rect x="568" y="332.5" width="1" height="67.1" fill="url(#c2_11)"/><rect x="569" y="332.5" width="1" height="67.3" fill="url(#c2_7)"/><rect x="570" y="332.5" width="1" height="41.4" fill="url(#c2_2)"/><rect x="571" y="332.5" width="1" height="42.2" fill="url(#c2_5)"/><rect x="572" y="332.5" width="1" height="54.1" fill="url(#c2_7)"/><rect x="573" y="332.5" width="1" height="53.4" fill="url(#c2_5)"/><rect x="574" y="332.5" width="1" height="44.2" fill="url(#c2_4)"/><rect x="575" y="332.5" width="1" height="58.7" fill="url(#c2_8)"/><rect x="576" y="332.5" width="1" height="44.3" fill="url(#c2_0)"/><rect x="577" y="332.5" width="1" height="53.8" fill="url(#c2_0)"/><rect x="578" y="332.5" width="1" height="63.7" fill="url(#c2_7)"/><rect x="579" y="332.5" width="1" height="73.5" fill="url(#c2_6)"/><rect x="580" y="332.5" width="1" height="72.3" fill="url(#c2_5)"/><rect x="581" y="332.5" width="1" height="49.8" fill="url(#c2_8)"/><rect x="582" y="332.5" width="1" height="52.6" fill="url(#c2_5)"/><rect x="583" y="332.5" width="1" height="70.3" fill="url(#c2_11)"/><rect x="584" y="332.5" width="1" height="53.5" fill="url(#c2_8)"/><rect x="585" y="332.5" width="1" height="48.2" fill="url(#c2_3)"/><rect x="586" y="332.5" width="1" height="71.4" fill="url(#c2_9)"/><rect x="587" y="332.5" width="1" height="46.6" fill="url(#c2_3)"/><rect x="588" y="332.5" width="1" height="48.8" fill="url(#c2_3)"/><rect x="589" y="332.5" width="1" height="65.1" fill="url(#c2_10)"/><rect x="590" y="332.5" width="1" height="66.8" fill="url(#c2_7)"/><rect x="591" y="332.5" width="1" height="53.8" fill="url(#c2_5)"/><rect x="592" y="332.5" width="1" height="46.0" fill="url(#c2_0)"/><rect x="593" y="332.5" width="1" height="53.7" fill="url(#c2_3)"/><rect x="594" y="332.5" width="1" height="61.3" fill="url(#c2_6)"/><rect x="595" y="332.5" width="1" height="46.9" fill="url(#c2_3)"/><rect x="596" y="332.5" width="1" height="34.8" fill="url(#c2_0)"/><rect x="597" y="332.5" width="1" height="30.2" fill="url(#c2_0)"/><rect x="598" y="332.5" width="1" height="46.5" fill="url(#c2_4)"/><rect x="599" y="332.5" width="1" height="73.9" fill="url(#c2_11)"/><rect x="600" y="332.5" width="1" height="76.1" fill="url(#c2_10)"/><rect x="601" y="332.5" width="1" height="65.0" fill="url(#c2_7)"/><rect x="602" y="332.5" width="1" height="42.3" fill="url(#c2_0)"/><rect x="603" y="332.5" width="1" height="58.7" fill="url(#c2_6)"/><rect x="604" y="332.5" width="1" height="72.4" fill="url(#c2_9)"/><rect x="605" y="332.5" width="1" height="77.2" fill="url(#c2_11)"/><rect x="606" y="332.5" width="1" height="62.4" fill="url(#c2_9)"/><rect x="607" y="332.5" width="1" height="55.0" fill="url(#c2_9)"/><rect x="608" y="332.5" width="1" height="67.4" fill="url(#c2_6)"/><rect x="609" y="332.5" width="1" height="56.6" fill="url(#c2_8)"/><rect x="610" y="332.5" width="1" height="53.5" fill="url(#c2_6)"/><rect x="611" y="332.5" width="1" height="67.5" fill="url(#c2_11)"/><rect x="612" y="332.5" width="1" height="51.2" fill="url(#c2_3)"/><rect x="613" y="332.5" width="1" height="38.2" fill="url(#c2_2)"/><rect x="614" y="332.5" width="1" height="70.5" fill="url(#c2_11)"/><rect x="615" y="332.5" width="1" height="59.0" fill="url(#c2_10)"/><rect x="616" y="332.5" width="1" height="60.0" fill="url(#c2_10)"/><rect x="617" y="332.5" width="1" height="63.9" fill="url(#c2_6)"/><rect x="618" y="332.5" width="1" height="41.7" fill="url(#c2_0)"/><rect x="619" y="332.5" width="1" height="32.9" fill="url(#c2_0)"/><rect x="620" y="332.5" width="1" height="35.1" fill="url(#c2_1)"/><rect x="621" y="332.5" width="1" height="57.1" fill="url(#c2_6)"/><rect x="622" y="332.5" width="1" height="50.6" fill="url(#c2_8)"/><rect x="623" y="332.5" width="1" height="42.8" fill="url(#c2_6)"/><rect x="624" y="332.5" width="1" height="36.5" fill="url(#c2_5)"/><rect x="625" y="332.5" width="1" height="32.0" fill="url(#c2_0)"/><rect x="626" y="332.5" width="1" height="24.9" fill="url(#c2_0)"/><rect x="627" y="332.5" width="1" height="19.1" fill="url(#c2_0)"/><rect x="628" y="332.5" width="1" height="34.4" fill="url(#c2_0)"/><rect x="629" y="332.5" width="1" height="70.0" fill="url(#c2_6)"/><rect x="630" y="332.5" width="1" height="99.8" fill="url(#c2_11)"/><rect x="631" y="332.5" width="1" height="99.4" fill="url(#c2_10)"/><rect x="632" y="332.5" width="1" height="88.4" fill="url(#c2_6)"/><rect x="633" y="332.5" width="1" height="76.0" fill="url(#c2_10)"/><rect x="634" y="332.5" width="1" height="52.1" fill="url(#c2_8)"/><rect x="635" y="332.5" width="1" height="37.5" fill="url(#c2_4)"/><rect x="636" y="332.5" width="1" height="29.1" fill="url(#c2_0)"/><rect x="637" y="332.5" width="1" height="61.7" fill="url(#c2_9)"/><rect x="638" y="332.5" width="1" height="54.5" fill="url(#c2_7)"/><rect x="639" y="332.5" width="1" height="39.0" fill="url(#c2_0)"/><rect x="640" y="332.5" width="1" height="40.7" fill="url(#c2_0)"/><rect x="641" y="332.5" width="1" height="25.3" fill="url(#c2_0)"/><rect x="642" y="332.5" width="1" height="32.8" fill="url(#c2_3)"/><rect x="643" y="332.5" width="1" height="57.7" fill="url(#c2_5)"/><rect x="644" y="332.5" width="1" height="39.4" fill="url(#c2_4)"/><rect x="645" y="332.5" width="1" height="56.8" fill="url(#c2_9)"/><rect x="646" y="332.5" width="1" height="56.4" fill="url(#c2_9)"/><rect x="647" y="332.5" width="1" height="26.4" fill="url(#c2_1)"/><rect x="648" y="332.5" width="1" height="40.2" fill="url(#c2_2)"/><rect x="649" y="332.5" width="1" height="53.6" fill="url(#c2_6)"/><rect x="650" y="332.5" width="1" height="69.0" fill="url(#c2_8)"/><rect x="651" y="332.5" width="1" height="36.3" fill="url(#c2_3)"/><rect x="652" y="332.5" width="1" height="40.6" fill="url(#c2_0)"/><rect x="653" y="332.5" width="1" height="76.7" fill="url(#c2_7)"/><rect x="654" y="332.5" width="1" height="97.8" fill="url(#c2_8)"/><rect x="655" y="332.5" width="1" height="89.7" fill="url(#c2_5)"/><rect x="656" y="332.5" width="1" height="95.6" fill="url(#c2_11)"/><rect x="657" y="332.5" width="1" height="74.0" fill="url(#c2_7)"/><rect x="658" y="332.5" width="1" height="48.3" fill="url(#c2_0)"/><rect x="659" y="332.5" width="1" height="42.7" fill="url(#c2_4)"/><rect x="660" y="332.5" width="1" height="77.1" fill="url(#c2_8)"/><rect x="661" y="332.5" width="1" height="61.2" fill="url(#c2_4)"/><rect x="662" y="332.5" width="1" height="103.6" fill="url(#c2_11)"/><rect x="663" y="332.5" width="1" height="89.6" fill="url(#c2_7)"/><rect x="664" y="332.5" width="1" height="77.1" fill="url(#c2_6)"/><rect x="665" y="332.5" width="1" height="87.9" fill="url(#c2_9)"/><rect x="666" y="332.5" width="1" height="67.3" fill="url(#c2_7)"/><rect x="667" y="332.5" width="1" height="79.0" fill="url(#c2_11)"/><rect x="668" y="332.5" width="1" height="76.6" fill="url(#c2_11)"/><rect x="669" y="332.5" width="1" height="61.2" fill="url(#c2_6)"/><rect x="670" y="332.5" width="1" height="34.4" fill="url(#c2_4)"/><rect x="671" y="332.5" width="1" height="72.9" fill="url(#c2_11)"/><rect x="672" y="332.5" width="1" height="75.4" fill="url(#c2_7)"/><rect x="673" y="332.5" width="1" height="58.7" fill="url(#c2_0)"/><rect x="674" y="332.5" width="1" height="57.3" fill="url(#c2_1)"/><rect x="675" y="332.5" width="1" height="66.5" fill="url(#c2_5)"/><rect x="676" y="332.5" width="1" height="51.7" fill="url(#c2_6)"/><rect x="677" y="332.5" width="1" height="33.0" fill="url(#c2_1)"/><rect x="678" y="332.5" width="1" height="43.9" fill="url(#c2_6)"/><rect x="679" y="332.5" width="1" height="49.4" fill="url(#c2_7)"/><rect x="680" y="332.5" width="1" height="33.9" fill="url(#c2_0)"/><rect x="681" y="332.5" width="1" height="27.3" fill="url(#c2_1)"/><rect x="682" y="332.5" width="1" height="60.5" fill="url(#c2_5)"/><rect x="683" y="332.5" width="1" height="36.1" fill="url(#c2_1)"/><rect x="684" y="332.5" width="1" height="54.0" fill="url(#c2_0)"/><rect x="685" y="332.5" width="1" height="75.4" fill="url(#c2_4)"/><rect x="686" y="332.5" width="1" height="108.2" fill="url(#c2_11)"/><rect x="687" y="332.5" width="1" height="79.8" fill="url(#c2_11)"/><rect x="688" y="332.5" width="1" height="57.9" fill="url(#c2_5)"/><rect x="689" y="332.5" width="1" height="54.0" fill="url(#c2_3)"/><rect x="690" y="332.5" width="1" height="93.4" fill="url(#c2_11)"/><rect x="691" y="332.5" width="1" height="111.0" fill="url(#c2_7)"/><rect x="692" y="332.5" width="1" height="90.1" fill="url(#c2_6)"/><rect x="80" y="332.5" width="2" height="76.6" fill="url(#core2_0)"/><rect x="80" y="332.5" width="1" height="156.0" fill="#6c6c6c" style="mix-blend-mode:lighten"/><rect x="88" y="332.5" width="1" height="156.0" fill="#606060" style="mix-blend-mode:lighten"/><rect x="88" y="332.5" width="1" height="156.0" fill="#393939" style="mix-blend-mode:lighten"/><rect x="89" y="332.5" width="1" height="156.0" fill="#535353" style="mix-blend-mode:lighten"/><rect x="100" y="332.5" width="1" height="156.0" fill="#333333" style="mix-blend-mode:lighten"/><rect x="104" y="332.5" width="1" height="156.0" fill="#333333" style="mix-blend-mode:lighten"/><rect x="106" y="332.5" width="2" height="137.2" fill="url(#core2_1)"/><rect x="106" y="332.5" width="1" height="156.0" fill="#393939" style="mix-blend-mode:lighten"/><rect x="107" y="332.5" width="1" height="156.0" fill="#535353" style="mix-blend-mode:lighten"/><rect x="111" y="332.5" width="1" height="156.0" fill="#606060" style="mix-blend-mode:lighten"/><rect x="111" y="332.5" width="1" height="156.0" fill="#333333" style="mix-blend-mode:lighten"/><rect x="114" y="332.5" width="1" height="93.4" fill="url(#red2)"/><path d="M114.5 332.5V397.9" stroke="#b6b6b6" stroke-width="1" stroke-dasharray="2 2"/><rect x="131" y="332.5" width="1" height="156.0" fill="url(#red2)"/><path d="M131.5 332.5V441.7" stroke="#b6b6b6" stroke-width="1" stroke-dasharray="2 1 1 2"/><rect x="136" y="332.5" width="1" height="156.0" fill="#4d4d4d" style="mix-blend-mode:lighten"/><rect x="136" y="332.5" width="1" height="151.6" fill="url(#red2)"/><path d="M136.5 332.5V438.6" stroke="#b6b6b6" stroke-width="1" stroke-dasharray="1 1 1 3"/><rect x="136" y="332.5" width="1" height="156.0" fill="#868686" style="mix-blend-mode:lighten"/><rect x="137" y="332.5" width="1" height="156.0" fill="#404040" style="mix-blend-mode:lighten"/><rect x="140" y="332.5" width="1" height="156.0" fill="#6c6c6c" style="mix-blend-mode:lighten"/><rect x="143" y="332.5" width="1" height="108.0" fill="url(#red2)"/><path d="M143.5 332.5V408.1" stroke="#b6b6b6" stroke-width="1" stroke-dasharray="1 2"/><rect x="143" y="332.5" width="1" height="156.0" fill="#4d4d4d" style="mix-blend-mode:lighten"/><rect x="143" y="332.5" width="1" height="156.0" fill="#535353" style="mix-blend-mode:lighten"/><rect x="144" y="332.5" width="2" height="84.9" fill="url(#core2_0)"/><rect x="145" y="332.5" width="1" height="85.3" fill="url(#red2)"/><path d="M145.5 332.5V392.2" stroke="#b6b6b6" stroke-width="1" stroke-dasharray="1 2"/><rect x="145" y="332.5" width="1" height="156.0" fill="#606060" style="mix-blend-mode:lighten"/><rect x="147" y="332.5" width="1" height="156.0" fill="#6c6c6c" style="mix-blend-mode:lighten"/><rect x="150" y="332.5" width="2" height="65.9" fill="url(#core2_2)"/><rect x="150" y="332.5" width="1" height="156.0" fill="#393939" style="mix-blend-mode:lighten"/><rect x="159" y="332.5" width="1" height="156.0" fill="#333333" style="mix-blend-mode:lighten"/><rect x="165" y="332.5" width="1" height="156.0" fill="#868686" style="mix-blend-mode:lighten"/><rect x="170" y="332.5" width="1" height="101.3" fill="url(#red2)"/><path d="M170.5 332.5V403.4" stroke="#b6b6b6" stroke-width="1" stroke-dasharray="1 2"/><rect x="170" y="332.5" width="1" height="156.0" fill="#404040" style="mix-blend-mode:lighten"/><rect x="171" y="332.5" width="2" height="126.3" fill="url(#core2_1)"/><rect x="171" y="332.5" width="1" height="156.0" fill="#6c6c6c" style="mix-blend-mode:lighten"/><rect x="173" y="332.5" width="1" height="156.0" fill="#535353" style="mix-blend-mode:lighten"/><rect x="180" y="332.5" width="2" height="78.9" fill="url(#core2_0)"/><rect x="180" y="332.5" width="1" height="136.4" fill="url(#red2)"/><path d="M180.5 332.5V428.0" stroke="#b6b6b6" stroke-width="1" stroke-dasharray="2 1 1 2"/><rect x="184" y="332.5" width="1" height="156.0" fill="#606060" style="mix-blend-mode:lighten"/><rect x="184" y="332.5" width="1" height="116.5" fill="url(#red2)"/><path d="M184.5 332.5V414.0" stroke="#b6b6b6" stroke-width="1" stroke-dasharray="1 1 1 3"/><rect x="185" y="332.5" width="2" height="72.2" fill="url(#core2_0)"/><rect x="185" y="332.5" width="1" height="156.0" fill="#4d4d4d" style="mix-blend-mode:lighten"/><rect x="189" y="332.5" width="1" height="77.4" fill="url(#core2_1)"/><rect x="189" y="332.5" width="1" height="115.6" fill="url(#core2_0)"/><rect x="190" y="332.5" width="1" height="156.0" fill="#393939" style="mix-blend-mode:lighten"/><rect x="190" y="332.5" width="1" height="156.0" fill="#333333" style="mix-blend-mode:lighten"/><rect x="197" y="332.5" width="1" height="143.2" fill="url(#red2)"/><path d="M197.5 332.5V432.7" stroke="#b6b6b6" stroke-width="1" stroke-dasharray="1 1 1 3"/><rect x="197" y="332.5" width="1" height="156.0" fill="#535353" style="mix-blend-mode:lighten"/><rect x="201" y="332.5" width="1" height="156.0" fill="#333333" style="mix-blend-mode:lighten"/><rect x="209" y="332.5" width="1" height="120.9" fill="url(#red2)"/><path d="M209.5 332.5V417.1" stroke="#b6b6b6" stroke-width="1" stroke-dasharray="2 1 1 2"/><rect x="209" y="332.5" width="1" height="156.0" fill="#393939" style="mix-blend-mode:lighten"/><rect x="211" y="332.5" width="1" height="156.0" fill="#393939" style="mix-blend-mode:lighten"/><rect x="212" y="332.5" width="1" height="156.0" fill="#464646" style="mix-blend-mode:lighten"/><rect x="215" y="332.5" width="1" height="156.0" fill="#6c6c6c" style="mix-blend-mode:lighten"/><rect x="222" y="332.5" width="1" height="108.2" fill="url(#red2)"/><path d="M222.5 332.5V408.2" stroke="#b6b6b6" stroke-width="1" stroke-dasharray="2 2"/><rect x="222" y="332.5" width="1" height="156.0" fill="#606060" style="mix-blend-mode:lighten"/><rect x="223" y="332.5" width="1" height="71.6" fill="url(#red2)"/><path d="M223.5 332.5V382.6" stroke="#b6b6b6" stroke-width="1" stroke-dasharray="2 2"/><rect x="223" y="332.5" width="1" height="156.0" fill="#333333" style="mix-blend-mode:lighten"/><rect x="224" y="332.5" width="1" height="156.0" fill="#535353" style="mix-blend-mode:lighten"/><rect x="237" y="332.5" width="1" height="106.7" fill="url(#red2)"/><path d="M237.5 332.5V407.2" stroke="#b6b6b6" stroke-width="1" stroke-dasharray="2 1 1 2"/><rect x="243" y="332.5" width="1" height="156.0" fill="#4d4d4d" style="mix-blend-mode:lighten"/><rect x="246" y="332.5" width="2" height="131.7" fill="url(#core2_0)"/><rect x="246" y="332.5" width="1" height="156.0" fill="#464646" style="mix-blend-mode:lighten"/><rect x="247" y="332.5" width="1" height="156.0" fill="#404040" style="mix-blend-mode:lighten"/><rect x="250" y="332.5" width="1" height="92.5" fill="url(#red2)"/><path d="M250.5 332.5V397.2" stroke="#b6b6b6" stroke-width="1" stroke-dasharray="2 2"/><rect x="250" y="332.5" width="1" height="156.0" fill="#393939" style="mix-blend-mode:lighten"/><rect x="251" y="332.5" width="1" height="156.0" fill="#868686" style="mix-blend-mode:lighten"/><rect x="254" y="332.5" width="1" height="156.0" fill="#333333" style="mix-blend-mode:lighten"/><rect x="255" y="332.5" width="1" height="156.0" fill="#6c6c6c" style="mix-blend-mode:lighten"/><rect x="255" y="332.5" width="1" height="98.9" fill="url(#red2)"/><path d="M255.5 332.5V401.7" stroke="#b6b6b6" stroke-width="1" stroke-dasharray="1 1 1 3"/><rect x="256" y="332.5" width="1" height="133.2" fill="url(#red2)"/><path d="M256.5 332.5V425.7" stroke="#b6b6b6" stroke-width="1" stroke-dasharray="1 2"/><rect x="256" y="332.5" width="1" height="156.0" fill="#464646" style="mix-blend-mode:lighten"/><rect x="257" y="332.5" width="1" height="156.0" fill="#606060" style="mix-blend-mode:lighten"/><rect x="258" y="332.5" width="1" height="156.0" fill="#6c6c6c" style="mix-blend-mode:lighten"/><rect x="260" y="332.5" width="1" height="156.0" fill="#333333" style="mix-blend-mode:lighten"/><rect x="261" y="332.5" width="2" height="90.9" fill="url(#core2_0)"/><rect x="261" y="332.5" width="1" height="156.0" fill="#464646" style="mix-blend-mode:lighten"/><rect x="262" y="332.5" width="1" height="97.6" fill="url(#core2_1)"/><rect x="268" y="332.5" width="1" height="156.0" fill="#464646" style="mix-blend-mode:lighten"/><rect x="268" y="332.5" width="1" height="156.0" fill="#868686" style="mix-blend-mode:lighten"/><rect x="270" y="332.5" width="1" height="156.0" fill="#393939" style="mix-blend-mode:lighten"/><rect x="271" y="332.5" width="1" height="156.0" fill="#333333" style="mix-blend-mode:lighten"/><rect x="272" y="332.5" width="1" height="156.0" fill="#404040" style="mix-blend-mode:lighten"/><rect x="280" y="332.5" width="1" height="156.0" fill="#606060" style="mix-blend-mode:lighten"/><rect x="291" y="332.5" width="2" height="105.2" fill="url(#core2_0)"/><rect x="293" y="332.5" width="1" height="156.0" fill="#393939" style="mix-blend-mode:lighten"/><rect x="295" y="332.5" width="1" height="156.0" fill="#535353" style="mix-blend-mode:lighten"/><rect x="298" y="332.5" width="1" height="156.0" fill="#4d4d4d" style="mix-blend-mode:lighten"/><rect x="299" y="332.5" width="1" height="156.0" fill="#404040" style="mix-blend-mode:lighten"/><rect x="300" y="332.5" width="1" height="156.0" fill="#333333" style="mix-blend-mode:lighten"/><rect x="301" y="332.5" width="1" height="132.7" fill="url(#red2)"/><path d="M301.5 332.5V425.4" stroke="#b6b6b6" stroke-width="1" stroke-dasharray="2 1 1 2"/><rect x="301" y="332.5" width="1" height="156.0" fill="#464646" style="mix-blend-mode:lighten"/><rect x="301" y="332.5" width="1" height="126.1" fill="url(#red2)"/><path d="M301.5 332.5V420.8" stroke="#b6b6b6" stroke-width="1" stroke-dasharray="2 2"/><rect x="303" y="332.5" width="1" height="156.0" fill="#393939" style="mix-blend-mode:lighten"/><rect x="306" y="332.5" width="1" height="88.1" fill="url(#core2_2)"/><rect x="306" y="332.5" width="1" height="156.0" fill="#4d4d4d" style="mix-blend-mode:lighten"/><rect x="307" y="332.5" width="1" height="156.0" fill="#6c6c6c" style="mix-blend-mode:lighten"/><rect x="307" y="332.5" width="1" height="74.9" fill="url(#red2)"/><path d="M307.5 332.5V385.0" stroke="#b6b6b6" stroke-width="1" stroke-dasharray="2 2"/><rect x="309" y="332.5" width="1" height="156.0" fill="#535353" style="mix-blend-mode:lighten"/><rect x="312" y="332.5" width="1" height="156.0" fill="#868686" style="mix-blend-mode:lighten"/><rect x="312" y="332.5" width="1" height="156.0" fill="#6c6c6c" style="mix-blend-mode:lighten"/><rect x="319" y="332.5" width="1" height="130.4" fill="url(#core2_1)"/><rect x="319" y="332.5" width="1" height="156.0" fill="#4d4d4d" style="mix-blend-mode:lighten"/><rect x="320" y="332.5" width="1" height="156.0" fill="#6c6c6c" style="mix-blend-mode:lighten"/><rect x="324" y="332.5" width="1" height="156.0" fill="#333333" style="mix-blend-mode:lighten"/><rect x="327" y="332.5" width="1" height="156.0" fill="#868686" style="mix-blend-mode:lighten"/><rect x="327" y="332.5" width="1" height="102.6" fill="url(#core2_2)"/><rect x="327" y="332.5" width="1" height="156.0" fill="#393939" style="mix-blend-mode:lighten"/><rect x="332" y="332.5" width="1" height="93.8" fill="url(#core2_1)"/><rect x="332" y="332.5" width="1" height="125.9" fill="url(#red2)"/><path d="M332.5 332.5V420.6" stroke="#b6b6b6" stroke-width="1" stroke-dasharray="2 2"/><rect x="338" y="332.5" width="1" height="146.0" fill="url(#red2)"/><path d="M338.5 332.5V434.7" stroke="#b6b6b6" stroke-width="1" stroke-dasharray="1 2"/><rect x="355" y="332.5" width="1" height="76.6" fill="url(#red2)"/><path d="M355.5 332.5V386.1" stroke="#b6b6b6" stroke-width="1" stroke-dasharray="2 2"/><rect x="355" y="332.5" width="1" height="156.0" fill="#6c6c6c" style="mix-blend-mode:lighten"/><rect x="360" y="332.5" width="1" height="156.0" fill="#464646" style="mix-blend-mode:lighten"/><rect x="369" y="332.5" width="1" height="98.8" fill="url(#red2)"/><path d="M369.5 332.5V401.7" stroke="#b6b6b6" stroke-width="1" stroke-dasharray="1 2"/><rect x="371" y="332.5" width="1" height="89.6" fill="url(#core2_2)"/><rect x="376" y="332.5" width="1" height="156.0" fill="#868686" style="mix-blend-mode:lighten"/><rect x="378" y="332.5" width="1" height="156.0" fill="#464646" style="mix-blend-mode:lighten"/><rect x="381" y="332.5" width="1" height="122.9" fill="url(#red2)"/><path d="M381.5 332.5V418.5" stroke="#b6b6b6" stroke-width="1" stroke-dasharray="2 1 1 2"/><rect x="381" y="332.5" width="1" height="156.0" fill="#868686" style="mix-blend-mode:lighten"/><rect x="386" y="332.5" width="1" height="156.0" fill="#535353" style="mix-blend-mode:lighten"/><rect x="389" y="332.5" width="2" height="115.5" fill="url(#core2_1)"/><rect x="389" y="332.5" width="1" height="142.1" fill="url(#red2)"/><path d="M389.5 332.5V432.0" stroke="#b6b6b6" stroke-width="1" stroke-dasharray="1 1 1 3"/><rect x="389" y="332.5" width="1" height="156.0" fill="#464646" style="mix-blend-mode:lighten"/><rect x="396" y="332.5" width="1" height="152.6" fill="url(#red2)"/><path d="M396.5 332.5V439.3" stroke="#b6b6b6" stroke-width="1" stroke-dasharray="1 1 1 3"/><rect x="396" y="332.5" width="1" height="156.0" fill="#333333" style="mix-blend-mode:lighten"/><rect x="403" y="332.5" width="1" height="156.0" fill="#404040" style="mix-blend-mode:lighten"/><rect x="408" y="332.5" width="2" height="129.0" fill="url(#core2_2)"/><rect x="445" y="332.5" width="1" height="156.0" fill="#6c6c6c" style="mix-blend-mode:lighten"/><rect x="447" y="332.5" width="1" height="109.3" fill="url(#core2_2)"/><rect x="447" y="332.5" width="1" height="132.7" fill="url(#core2_0)"/><rect x="447" y="332.5" width="1" height="156.0" fill="#464646" style="mix-blend-mode:lighten"/><rect x="448" y="332.5" width="1" height="156.0" fill="#535353" style="mix-blend-mode:lighten"/><rect x="450" y="332.5" width="1" height="156.0" fill="#535353" style="mix-blend-mode:lighten"/><rect x="454" y="332.5" width="1" height="156.0" fill="#404040" style="mix-blend-mode:lighten"/><rect x="455" y="332.5" width="1" height="74.8" fill="url(#red2)"/><path d="M455.5 332.5V384.9" stroke="#b6b6b6" stroke-width="1" stroke-dasharray="1 1 1 3"/><rect x="455" y="332.5" width="1" height="156.0" fill="#6c6c6c" style="mix-blend-mode:lighten"/><rect x="463" y="332.5" width="1" height="156.0" fill="#4d4d4d" style="mix-blend-mode:lighten"/><rect x="465" y="332.5" width="1" height="156.0" fill="#464646" style="mix-blend-mode:lighten"/><rect x="473" y="332.5" width="1" height="75.0" fill="url(#red2)"/><path d="M473.5 332.5V385.0" stroke="#b6b6b6" stroke-width="1" stroke-dasharray="2 1 1 2"/><rect x="476" y="332.5" width="1" height="156.0" fill="#535353" style="mix-blend-mode:lighten"/><rect x="477" y="332.5" width="1" height="156.0" fill="#4d4d4d" style="mix-blend-mode:lighten"/><rect x="478" y="332.5" width="1" height="156.0" fill="#4d4d4d" style="mix-blend-mode:lighten"/><rect x="481" y="332.5" width="1" height="74.3" fill="url(#red2)"/><path d="M481.5 332.5V384.5" stroke="#b6b6b6" stroke-width="1" stroke-dasharray="2 1 1 2"/><rect x="481" y="332.5" width="1" height="156.0" fill="#404040" style="mix-blend-mode:lighten"/><rect x="484" y="332.5" width="1" height="97.2" fill="url(#core2_2)"/><rect x="484" y="332.5" width="1" height="91.3" fill="url(#red2)"/><path d="M484.5 332.5V396.4" stroke="#b6b6b6" stroke-width="1" stroke-dasharray="1 1 1 3"/><rect x="484" y="332.5" width="1" height="156.0" fill="#464646" style="mix-blend-mode:lighten"/><rect x="495" y="332.5" width="1" height="156.0" fill="#4d4d4d" style="mix-blend-mode:lighten"/><rect x="497" y="332.5" width="1" height="156.0" fill="#4d4d4d" style="mix-blend-mode:lighten"/><rect x="503" y="332.5" width="1" height="131.0" fill="url(#red2)"/><path d="M503.5 332.5V424.2" stroke="#b6b6b6" stroke-width="1" stroke-dasharray="1 1 1 3"/><rect x="503" y="332.5" width="1" height="156.0" fill="#333333" style="mix-blend-mode:lighten"/><rect x="503" y="332.5" width="1" height="156.0" fill="#6c6c6c" style="mix-blend-mode:lighten"/><rect x="509" y="332.5" width="1" height="100.1" fill="url(#red2)"/><path d="M509.5 332.5V402.5" stroke="#b6b6b6" stroke-width="1" stroke-dasharray="1 2"/><rect x="509" y="332.5" width="1" height="156.0" fill="#606060" style="mix-blend-mode:lighten"/><rect x="522" y="332.5" width="1" height="137.6" fill="url(#core2_1)"/><rect x="522" y="332.5" width="1" height="140.9" fill="url(#red2)"/><path d="M522.5 332.5V431.1" stroke="#b6b6b6" stroke-width="1" stroke-dasharray="1 1 1 3"/><rect x="522" y="332.5" width="1" height="156.0" fill="#4d4d4d" style="mix-blend-mode:lighten"/><rect x="528" y="332.5" width="1" height="156.0" fill="#6c6c6c" style="mix-blend-mode:lighten"/><rect x="531" y="332.5" width="1" height="156.0" fill="#535353" style="mix-blend-mode:lighten"/><rect x="534" y="332.5" width="1" height="156.0" fill="#606060" style="mix-blend-mode:lighten"/><rect x="534" y="332.5" width="1" height="156.0" fill="#868686" style="mix-blend-mode:lighten"/><rect x="539" y="332.5" width="1" height="156.0" fill="#868686" style="mix-blend-mode:lighten"/><rect x="540" y="332.5" width="1" height="82.7" fill="url(#red2)"/><path d="M540.5 332.5V390.4" stroke="#b6b6b6" stroke-width="1" stroke-dasharray="2 2"/><rect x="540" y="332.5" width="1" height="156.0" fill="#606060" style="mix-blend-mode:lighten"/><rect x="548" y="332.5" width="1" height="134.0" fill="url(#core2_2)"/><rect x="548" y="332.5" width="1" height="77.7" fill="url(#red2)"/><path d="M548.5 332.5V386.9" stroke="#b6b6b6" stroke-width="1" stroke-dasharray="2 1 1 2"/><rect x="554" y="332.5" width="1" height="156.0" fill="#4d4d4d" style="mix-blend-mode:lighten"/><rect x="559" y="332.5" width="1" height="156.0" fill="#4d4d4d" style="mix-blend-mode:lighten"/><rect x="565" y="332.5" width="1" height="156.0" fill="#393939" style="mix-blend-mode:lighten"/><rect x="567" y="332.5" width="1" height="152.7" fill="url(#red2)"/><path d="M567.5 332.5V439.4" stroke="#b6b6b6" stroke-width="1" stroke-dasharray="1 2"/><rect x="570" y="332.5" width="1" height="142.7" fill="url(#red2)"/><path d="M570.5 332.5V432.4" stroke="#b6b6b6" stroke-width="1" stroke-dasharray="2 2"/><rect x="573" y="332.5" width="1" height="156.0" fill="#6c6c6c" style="mix-blend-mode:lighten"/><rect x="581" y="332.5" width="1" height="156.0" fill="#393939" style="mix-blend-mode:lighten"/><rect x="582" y="332.5" width="1" height="156.0" fill="#404040" style="mix-blend-mode:lighten"/><rect x="591" y="332.5" width="1" height="156.0" fill="#868686" style="mix-blend-mode:lighten"/><rect x="593" y="332.5" width="1" height="156.0" fill="#404040" style="mix-blend-mode:lighten"/><rect x="594" y="332.5" width="1" height="115.2" fill="url(#red2)"/><path d="M594.5 332.5V413.1" stroke="#b6b6b6" stroke-width="1" stroke-dasharray="1 1 1 3"/><rect x="594" y="332.5" width="1" height="156.0" fill="#6c6c6c" style="mix-blend-mode:lighten"/><rect x="599" y="332.5" width="1" height="156.0" fill="#464646" style="mix-blend-mode:lighten"/><rect x="600" y="332.5" width="1" height="81.2" fill="url(#red2)"/><path d="M600.5 332.5V389.4" stroke="#b6b6b6" stroke-width="1" stroke-dasharray="1 1 1 3"/><rect x="600" y="332.5" width="1" height="156.0" fill="#333333" style="mix-blend-mode:lighten"/><rect x="601" y="332.5" width="1" height="156.0" fill="#333333" style="mix-blend-mode:lighten"/><rect x="608" y="332.5" width="1" height="156.0" fill="#535353" style="mix-blend-mode:lighten"/><rect x="611" y="332.5" width="1" height="156.0" fill="#333333" style="mix-blend-mode:lighten"/><rect x="614" y="332.5" width="1" height="156.0" fill="#606060" style="mix-blend-mode:lighten"/><rect x="614" y="332.5" width="1" height="156.0" fill="#464646" style="mix-blend-mode:lighten"/><rect x="628" y="332.5" width="1" height="156.0" fill="#606060" style="mix-blend-mode:lighten"/><rect x="629" y="332.5" width="1" height="156.0" fill="#333333" style="mix-blend-mode:lighten"/><rect x="629" y="332.5" width="1" height="156.0" fill="#535353" style="mix-blend-mode:lighten"/><rect x="631" y="332.5" width="1" height="80.4" fill="url(#core2_0)"/><rect x="631" y="332.5" width="1" height="154.4" fill="url(#red2)"/><path d="M631.5 332.5V440.6" stroke="#b6b6b6" stroke-width="1" stroke-dasharray="2 1 1 2"/><rect x="648" y="332.5" width="1" height="156.0" fill="#404040" style="mix-blend-mode:lighten"/><rect x="649" y="332.5" width="1" height="156.0" fill="#393939" style="mix-blend-mode:lighten"/><rect x="655" y="332.5" width="2" height="76.8" fill="url(#core2_2)"/><rect x="655" y="332.5" width="1" height="156.0" fill="#404040" style="mix-blend-mode:lighten"/><rect x="656" y="332.5" width="1" height="88.3" fill="url(#core2_2)"/><rect x="656" y="332.5" width="1" height="107.9" fill="url(#red2)"/><path d="M656.5 332.5V408.0" stroke="#b6b6b6" stroke-width="1" stroke-dasharray="1 2"/><rect x="656" y="332.5" width="1" height="156.0" fill="#535353" style="mix-blend-mode:lighten"/><rect x="661" y="332.5" width="1" height="156.0" fill="#333333" style="mix-blend-mode:lighten"/><rect x="662" y="332.5" width="1" height="91.1" fill="url(#core2_2)"/><rect x="662" y="332.5" width="1" height="156.0" fill="#393939" style="mix-blend-mode:lighten"/><rect x="664" y="332.5" width="2" height="92.2" fill="url(#core2_0)"/><rect x="664" y="332.5" width="1" height="156.0" fill="#404040" style="mix-blend-mode:lighten"/><rect x="672" y="332.5" width="1" height="144.6" fill="url(#red2)"/><path d="M672.5 332.5V433.7" stroke="#b6b6b6" stroke-width="1" stroke-dasharray="2 2"/><rect x="672" y="332.5" width="1" height="156.0" fill="#404040" style="mix-blend-mode:lighten"/><rect x="683" y="332.5" width="1" height="151.6" fill="url(#red2)"/><path d="M683.5 332.5V438.6" stroke="#b6b6b6" stroke-width="1" stroke-dasharray="2 1 1 2"/><rect x="683" y="332.5" width="1" height="156.0" fill="#6c6c6c" style="mix-blend-mode:lighten"/><rect x="686" y="332.5" width="1" height="130.6" fill="url(#core2_2)"/><rect x="691" y="332.5" width="2" height="93.6" fill="url(#core2_1)"/><rect x="691" y="332.5" width="1" height="156.0" fill="#404040" style="mix-blend-mode:lighten"/><rect x="355" y="401.0" width="1" height="15.0" fill="#737373" style="mix-blend-mode:lighten"/><rect x="359" y="401.0" width="1" height="15.0" fill="#777777" style="mix-blend-mode:lighten"/><rect x="360" y="401.0" width="2" height="15.0" fill="#787878" style="mix-blend-mode:lighten"/><rect x="360" y="401.0" width="1" height="15.0" fill="#818181" style="mix-blend-mode:lighten"/><rect x="369" y="401.0" width="1" height="15.0" fill="#7a7a7a" style="mix-blend-mode:lighten"/><rect x="371" y="401.0" width="2" height="15.0" fill="#707070" style="mix-blend-mode:lighten"/><rect x="396" y="401.0" width="1" height="15.0" fill="#828282" style="mix-blend-mode:lighten"/><rect x="403" y="401.0" width="1" height="15.0" fill="#7f7f7f" style="mix-blend-mode:lighten"/><rect x="408" y="401.0" width="1" height="15.0" fill="#7d7d7d" style="mix-blend-mode:lighten"/><rect x="443" y="401.0" width="1" height="15.0" fill="#7a7a7a" style="mix-blend-mode:lighten"/><rect x="447" y="401.0" width="2" height="15.0" fill="#717171" style="mix-blend-mode:lighten"/><rect x="464" y="401.0" width="2" height="15.0" fill="#787878" style="mix-blend-mode:lighten"/><rect x="465" y="401.0" width="2" height="15.0" fill="#858585" style="mix-blend-mode:lighten"/><rect x="495" y="401.0" width="1" height="15.0" fill="#828282" style="mix-blend-mode:lighten"/><rect x="503" y="401.0" width="1" height="15.0" fill="#7f7f7f" style="mix-blend-mode:lighten"/><rect x="503" y="401.0" width="1" height="15.0" fill="#767676" style="mix-blend-mode:lighten"/><rect x="503" y="401.0" width="1" height="15.0" fill="#757575" style="mix-blend-mode:lighten"/><rect x="507" y="401.0" width="2" height="15.0" fill="#797979" style="mix-blend-mode:lighten"/><rect x="525" y="401.0" width="2" height="15.0" fill="#757575" style="mix-blend-mode:lighten"/><rect x="531" y="401.0" width="1" height="15.0" fill="#818181" style="mix-blend-mode:lighten"/><rect x="534" y="401.0" width="2" height="15.0" fill="#7d7d7d" style="mix-blend-mode:lighten"/><rect x="539" y="401.0" width="2" height="15.0" fill="#878787" style="mix-blend-mode:lighten"/><rect x="540" y="401.0" width="1" height="15.0" fill="#7a7a7a" style="mix-blend-mode:lighten"/><rect x="545" y="401.0" width="1" height="15.0" fill="#7b7b7b" style="mix-blend-mode:lighten"/><rect x="547" y="401.0" width="1" height="15.0" fill="#818181" style="mix-blend-mode:lighten"/><rect x="547" y="401.0" width="2" height="15.0" fill="#7c7c7c" style="mix-blend-mode:lighten"/><rect x="548" y="401.0" width="1" height="15.0" fill="#747474" style="mix-blend-mode:lighten"/><rect x="559" y="401.0" width="2" height="15.0" fill="#7f7f7f" style="mix-blend-mode:lighten"/><rect x="355" y="430.0" width="1" height="24.0" fill="#6f6f6f" style="mix-blend-mode:lighten"/><rect x="360" y="430.0" width="1" height="24.0" fill="#6e6e6e" style="mix-blend-mode:lighten"/><rect x="360" y="430.0" width="2" height="24.0" fill="#727272" style="mix-blend-mode:lighten"/><rect x="376" y="430.0" width="1" height="24.0" fill="#717171" style="mix-blend-mode:lighten"/><rect x="385" y="430.0" width="1" height="24.0" fill="#6c6c6c" style="mix-blend-mode:lighten"/><rect x="389" y="430.0" width="2" height="24.0" fill="#6f6f6f" style="mix-blend-mode:lighten"/><rect x="390" y="430.0" width="2" height="24.0" fill="#717171" style="mix-blend-mode:lighten"/><rect x="396" y="430.0" width="2" height="24.0" fill="#6f6f6f" style="mix-blend-mode:lighten"/><rect x="408" y="430.0" width="2" height="24.0" fill="#747474" style="mix-blend-mode:lighten"/><rect x="462" y="430.0" width="1" height="24.0" fill="#727272" style="mix-blend-mode:lighten"/><rect x="477" y="430.0" width="2" height="24.0" fill="#737373" style="mix-blend-mode:lighten"/><rect x="478" y="430.0" width="1" height="24.0" fill="#757575" style="mix-blend-mode:lighten"/><rect x="484" y="430.0" width="2" height="24.0" fill="#707070" style="mix-blend-mode:lighten"/><rect x="497" y="430.0" width="1" height="24.0" fill="#737373" style="mix-blend-mode:lighten"/><rect x="507" y="430.0" width="2" height="24.0" fill="#6c6c6c" style="mix-blend-mode:lighten"/><rect x="509" y="430.0" width="1" height="24.0" fill="#777777" style="mix-blend-mode:lighten"/><rect x="511" y="430.0" width="1" height="24.0" fill="#676767" style="mix-blend-mode:lighten"/><rect x="534" y="430.0" width="2" height="24.0" fill="#717171" style="mix-blend-mode:lighten"/><rect x="548" y="430.0" width="1" height="24.0" fill="#6e6e6e" style="mix-blend-mode:lighten"/><rect x="554" y="430.0" width="1" height="24.0" fill="#676767" style="mix-blend-mode:lighten"/><rect x="565" y="430.0" width="2" height="24.0" fill="#6b6b6b" style="mix-blend-mode:lighten"/><rect x="80" y="383.5" width="613.0" height="1" fill="#4d4d4d"/><rect x="80" y="388.0" width="613.0" height="1" fill="#4d4d4d"/><rect x="80" y="392.5" width="613.0" height="1" fill="#404040"/><rect x="80" y="398.4" width="613.0" height="1" fill="#666666"/><rect x="80" y="403.8" width="613.0" height="1" fill="#595959"/><rect x="80" y="406.5" width="613.0" height="1" fill="#4d4d4d"/><rect x="80" y="411.5" width="613.0" height="1" fill="#666666"/><rect x="80" y="415.0" width="613.0" height="1" fill="#666666"/><rect x="80" y="418.5" width="613.0" height="1" fill="#666666"/><rect x="80" y="423.1" width="613.0" height="1" fill="#666666"/><rect x="80" y="426.3" width="613.0" height="1" fill="#4d4d4d"/><rect x="80" y="430.5" width="613.0" height="1" fill="#808080"/><rect x="80" y="434.5" width="613.0" height="1" fill="#535353"/><rect x="80" y="438.6" width="613.0" height="1" fill="#6c6c6c"/><rect x="80" y="443.7" width="613.0" height="1" fill="#999999"/><rect x="80" y="447.3" width="613.0" height="1" fill="#393939"/><rect x="80" y="450.5" width="613.0" height="1" fill="#4d4d4d"/><rect x="80" y="454.9" width="613.0" height="1" fill="#939393"/><rect x="80" y="458.5" width="613.0" height="1" fill="#464646"/><rect x="80" y="462.5" width="613.0" height="1" fill="#606060"/><rect x="80" y="466.0" width="613.0" height="1" fill="#8c8c8c"/><rect x="80" y="468.5" width="613.0" height="1" fill="#9f9f9f"/><rect x="80" y="471.5" width="613.0" height="1" fill="#6c6c6c"/><rect x="80" y="474.5" width="613.0" height="1" fill="#595959"/><rect x="80" y="478.0" width="613.0" height="1" fill="#464646"/><rect x="80" y="481.7" width="613.0" height="1" fill="#737373"/><rect x="80" y="482.7" width="613.0" height="1" fill="#737373"/><rect x="80" y="485.8" width="613.0" height="1" fill="#acacac"/><rect x="338.5" y="444.0" width="234.0" height="1" fill="#8f8f8f"/><rect x="338.5" y="445.0" width="234.0" height="1" fill="#999999"/><rect x="338.5" y="446.0" width="234.0" height="1" fill="#8f8f8f"/></g><clipPath id="cp2"><rect x="80" y="332.5" width="613.0" height="156.0"/></clipPath><linearGradient id="mgu2" gradientUnits="userSpaceOnUse" x1="0" y1="356.8" x2="0" y2="376.8"><stop offset="0" stop-color="#fff"/><stop offset="1" stop-color="#000"/></linearGradient><linearGradient id="mgl2" gradientUnits="userSpaceOnUse" x1="0" y1="356.8" x2="0" y2="376.8"><stop offset="0" stop-color="#000"/><stop offset="1" stop-color="#fff"/></linearGradient><mask id="mu2" maskUnits="userSpaceOnUse" x="0" y="0" width="792" height="612"><rect x="80" y="332.5" width="613.0" height="156.0" fill="url(#mgu2)"/></mask><mask id="ml2" maskUnits="userSpaceOnUse" x="0" y="0" width="792" height="612"><rect x="80" y="332.5" width="613.0" height="156.0" fill="url(#mgl2)"/></mask><filter id="fu2" x="0" y="0" width="792" height="612" filterUnits="userSpaceOnUse" color-interpolation-filters="sRGB"><feTurbulence type="fractalNoise" baseFrequency="0.9 0.9" numOctaves="1" seed="11" result="n"/><feColorMatrix in="n" type="matrix" values="1 0 0 0 0 1 0 0 0 0 1 0 0 0 0 0 0 0 0 1" result="ng0"/><feComponentTransfer in="ng0" result="ng"><feFuncR type="gamma" exponent="1.00"/><feFuncG type="gamma" exponent="1.00"/><feFuncB type="gamma" exponent="1.00"/></feComponentTransfer><feComposite in="SourceGraphic" in2="ng" operator="arithmetic" k1="0" k2="1" k3="0.100" k4="-0.050" result="f"/><feComponentTransfer in="f"><feFuncR type="table" tableValues="0.000 0.000 0.000 0.000 0.000 0.000 0.000 0.000 0.000 0.000 0.000 0.000 0.000 0.000 0.000 0.000 0.000 0.000 0.000 0.000 0.000 0.000 0.000 0.000 0.000 0.000 0.000 0.000 0.035 0.141 0.247 0.353 0.459 0.565 0.675 0.792 0.906 1.000 1.000 1.000 1.000 1.000 1.000 1.000 1.000 1.000 1.000 1.000 1.000 1.000 1.000 1.000 1.000 1.000 1.000 1.000 1.000 1.000 1.000 1.000 1.000 1.000 1.000 1.000 1.000"/><feFuncG type="table" tableValues="0.000 0.000 0.000 0.000 0.000 0.000 0.000 0.000 0.000 0.012 0.078 0.145 0.224 0.329 0.435 0.545 0.651 0.757 0.867 0.976 1.000 1.000 1.000 1.000 1.000 1.000 1.000 1.000 1.000 1.000 1.000 1.000 1.000 1.000 1.000 1.000 1.000 0.969 0.820 0.667 0.533 0.439 0.345 0.247 0.153 0.059 0.043 0.153 0.263 0.341 0.392 0.447 0.498 0.549 0.596 0.639 0.678 0.722 0.765 0.808 0.835 0.863 0.890 0.914 0.941"/><feFuncB type="table" tableValues="0.063 0.110 0.157 0.216 0.322 0.424 0.533 0.655 0.780 0.886 0.929 0.973 1.000 1.000 1.000 1.000 1.000 0.996 0.945 0.890 0.784 0.667 0.549 0.443 0.349 0.255 0.161 0.063 0.000 0.000 0.000 0.000 0.000 0.000 0.000 0.000 0.000 0.000 0.000 0.000 0.000 0.000 0.000 0.000 0.000 0.000 0.043 0.153 0.263 0.341 0.392 0.447 0.498 0.549 0.596 0.639 0.678 0.722 0.765 0.808 0.835 0.863 0.890 0.914 0.941"/></feComponentTransfer></filter><filter id="fl2" x="0" y="0" width="792" height="612" filterUnits="userSpaceOnUse" color-interpolation-filters="sRGB"><feTurbulence type="fractalNoise" baseFrequency="0.6 0.9" numOctaves="1" seed="17" result="n"/><feColorMatrix in="n" type="matrix" values="1 0 0 0 0 1 0 0 0 0 1 0 0 0 0 0 0 0 0 1" result="ng0"/><feComponentTransfer in="ng0" result="ng"><feFuncR type="gamma" exponent="1.80"/><feFuncG type="gamma" exponent="1.80"/><feFuncB type="gamma" exponent="1.80"/></feComponentTransfer><feComposite in="SourceGraphic" in2="ng" operator="arithmetic" k1="0" k2="1" k3="0.400" k4="-0.120" result="f"/><feComponentTransfer in="f"><feFuncR type="table" tableValues="0.000 0.000 0.000 0.000 0.000 0.000 0.000 0.000 0.000 0.000 0.000 0.000 0.000 0.000 0.000 0.000 0.000 0.000 0.000 0.000 0.000 0.000 0.000 0.000 0.000 0.000 0.000 0.000 0.035 0.141 0.247 0.353 0.459 0.565 0.675 0.792 0.906 1.000 1.000 1.000 1.000 1.000 1.000 1.000 1.000 1.000 1.000 1.000 1.000 1.000 1.000 1.000 1.000 1.000 1.000 1.000 1.000 1.000 1.000 1.000 1.000 1.000 1.000 1.000 1.000"/><feFuncG type="table" tableValues="0.000 0.000 0.000 0.000 0.000 0.000 0.000 0.000 0.000 0.012 0.078 0.145 0.224 0.329 0.435 0.545 0.651 0.757 0.867 0.976 1.000 1.000 1.000 1.000 1.000 1.000 1.000 1.000 1.000 1.000 1.000 1.000 1.000 1.000 1.000 1.000 1.000 0.969 0.820 0.667 0.533 0.439 0.345 0.247 0.153 0.059 0.043 0.153 0.263 0.341 0.392 0.447 0.498 0.549 0.596 0.639 0.678 0.722 0.765 0.808 0.835 0.863 0.890 0.914 0.941"/><feFuncB type="table" tableValues="0.063 0.110 0.157 0.216 0.322 0.424 0.533 0.655 0.780 0.886 0.929 0.973 1.000 1.000 1.000 1.000 1.000 0.996 0.945 0.890 0.784 0.667 0.549 0.443 0.349 0.255 0.161 0.063 0.000 0.000 0.000 0.000 0.000 0.000 0.000 0.000 0.000 0.000 0.000 0.000 0.000 0.000 0.000 0.000 0.000 0.000 0.043 0.153 0.263 0.341 0.392 0.447 0.498 0.549 0.596 0.639 0.678 0.722 0.765 0.808 0.835 0.863 0.890 0.914 0.941"/></feComponentTransfer></filter></defs><rect width="792" height="612" fill="#fff"/>
<g clip-path="url(#cp1)"><use href="#field1" filter="url(#fl1)"/><g mask="url(#mu1)"><use href="#field1" filter="url(#fu1)"/></g></g>
<g clip-path="url(#cp2)"><use href="#field2" filter="url(#fl2)"/><g mask="url(#mu2)"><use href="#field2" filter="url(#fu2)"/></g></g>
<path d="M80.0 139.10 L81.0 140.07 L82.0 139.20 L83.0 138.73 L84.0 139.43 L85.0 138.65 L86.0 138.65 L87.0 139.56 L88.0 140.21 L89.0 139.48 L90.0 138.70 L91.0 139.24 L92.0 139.54 L93.0 139.41 L94.0 139.88 L95.0 140.02 L96.0 139.99 L97.0 139.91 L98.0 141.05 L99.0 140.68 L100.0 139.69 L101.0 139.66 L102.0 140.51 L103.0 140.69 L104.0 140.95 L105.0 139.40 L106.0 140.84 L107.0 141.01 L108.0 139.43 L109.0 140.54 L110.0 139.44 L111.0 140.97 L112.0 139.47 L113.0 139.45 L114.0 140.58 L115.0 140.09 L116.0 139.54 L117.0 139.48 L118.0 139.47 L119.0 139.56 L120.0 140.98 L121.0 139.68 L122.0 139.56 L123.0 140.71 L124.0 139.45 L125.0 139.56 L126.0 140.53 L127.0 139.67 L128.0 139.44 L129.0 139.60 L130.0 139.78 L131.0 140.96 L132.0 140.12 L133.0 139.53 L134.0 140.83 L135.0 139.61 L136.0 140.45 L137.0 139.54 L138.0 140.77 L139.0 139.85 L140.0 139.41 L141.0 139.59 L142.0 139.62 L143.0 140.16 L144.0 139.52 L145.0 139.43 L146.0 140.09 L147.0 140.20 L148.0 140.86 L149.0 139.40 L150.0 139.89 L151.0 139.52 L152.0 140.12 L153.0 139.76 L154.0 141.01 L155.0 140.35 L156.0 139.49 L157.0 139.40 L158.0 140.37 L159.0 139.41 L160.0 139.95 L161.0 139.70 L162.0 139.43 L163.0 140.45 L164.0 140.45 L165.0 140.57 L166.0 139.75 L167.0 140.82 L168.0 139.85 L169.0 140.73 L170.0 140.22 L171.0 140.14 L172.0 139.44 L173.0 141.04 L174.0 140.43 L175.0 140.44 L176.0 139.88 L177.0 139.44 L178.0 139.41 L179.0 139.95 L180.0 140.37 L181.0 140.20 L182.0 139.61 L183.0 139.67 L184.0 139.55 L185.0 140.83 L186.0 139.89 L187.0 139.71 L188.0 139.55 L189.0 140.60 L190.0 140.77 L191.0 140.14 L192.0 139.48 L193.0 140.67 L194.0 140.39 L195.0 139.64 L196.0 139.90 L197.0 139.56 L198.0 140.22 L199.0 139.69 L200.0 141.01 L201.0 139.43 L202.0 140.75 L203.0 140.39 L204.0 139.68 L205.0 139.40 L206.0 139.91 L207.0 140.65 L208.0 139.49 L209.0 140.23 L210.0 140.23 L211.0 140.60 L212.0 140.34 L213.0 139.94 L214.0 139.40 L215.0 140.40 L216.0 139.64 L217.0 140.36 L218.0 140.20 L219.0 139.81 L220.0 140.83 L221.0 140.89 L222.0 139.48 L223.0 140.22 L224.0 139.78 L225.0 140.77 L226.0 140.92 L227.0 140.27 L228.0 140.42 L229.0 140.25 L230.0 139.56 L231.0 141.01 L232.0 140.05 L233.0 139.70 L234.0 140.71 L235.0 139.44 L236.0 140.08 L237.0 139.96 L238.0 140.61 L239.0 140.58 L240.0 139.72 L241.0 139.49 L242.0 140.01 L243.0 140.68 L244.0 140.92 L245.0 140.93 L246.0 139.57 L247.0 139.66 L248.0 140.25 L249.0 140.68 L250.0 139.69 L251.0 140.69 L252.0 139.56 L253.0 140.98 L254.0 140.12 L255.0 140.05 L256.0 140.18 L257.0 140.98 L258.0 139.82 L259.0 140.10 L260.0 140.35 L261.0 140.05 L262.0 140.95 L263.0 139.63 L264.0 139.47 L265.0 140.62 L266.0 139.94 L267.0 139.54 L268.0 140.87 L269.0 140.54 L270.0 139.54 L271.0 140.34 L272.0 139.75 L273.0 139.46 L274.0 139.47 L275.0 139.61 L276.0 140.04 L277.0 139.78 L278.0 140.04 L279.0 139.55 L280.0 140.25 L281.0 140.70 L282.0 140.71 L283.0 140.46 L284.0 140.82 L285.0 139.69 L286.0 139.57 L287.0 140.79 L288.0 139.59 L289.0 139.62 L290.0 140.66 L291.0 140.56 L292.0 139.82 L293.0 139.40 L294.0 140.33 L295.0 140.98 L296.0 140.00 L297.0 139.99 L298.0 139.54 L299.0 139.46 L300.0 140.08 L301.0 140.11 L302.0 139.53 L303.0 140.68 L304.0 140.88 L305.0 139.43 L306.0 139.92 L307.0 139.71 L308.0 140.01 L309.0 140.17 L310.0 140.37 L311.0 139.53 L312.0 140.45 L313.0 139.54 L314.0 140.01 L315.0 140.80 L316.0 140.38 L317.0 140.23 L318.0 140.17 L319.0 141.01 L320.0 139.62 L321.0 140.46 L322.0 140.62 L323.0 140.81 L324.0 140.36 L325.0 140.51 L326.0 140.42 L327.0 139.73 L328.0 139.40 L329.0 140.25 L330.0 139.59 L331.0 140.30 L332.0 140.29 L333.0 140.04 L334.0 141.06 L335.0 140.37 L336.0 141.01 L337.0 140.20 L338.0 139.62 L339.0 139.42 L340.0 139.78 L341.0 139.61 L342.0 140.08 L343.0 140.98 L344.0 141.04 L345.0 140.61 L346.0 140.17 L347.0 139.42 L348.0 139.51 L349.0 139.52 L350.0 140.19 L351.0 140.92 L352.0 140.03 L353.0 139.77 L354.0 140.28 L355.0 139.65 L356.0 139.67 L357.0 139.60 L358.0 139.50 L359.0 139.80 L360.0 140.47 L361.0 141.03 L362.0 139.43 L363.0 139.87 L364.0 140.99 L365.0 140.03 L366.0 140.42 L367.0 141.00 L368.0 140.18 L369.0 140.22 L370.0 139.55 L371.0 140.04 L372.0 139.89 L373.0 139.91 L374.0 140.14 L375.0 140.54 L376.0 141.05 L377.0 140.44 L378.0 139.46 L379.0 140.55 L380.0 139.76 L381.0 140.34 L382.0 140.15 L383.0 140.48 L384.0 139.61 L385.0 140.85 L386.0 139.41 L387.0 139.63 L388.0 140.22 L389.0 140.06 L390.0 139.44 L391.0 140.08 L392.0 139.78 L393.0 139.56 L394.0 140.46 L395.0 139.43 L396.0 140.61 L397.0 140.52 L398.0 139.86 L399.0 140.61 L400.0 140.28 L401.0 139.71 L402.0 140.47 L403.0 139.86 L404.0 139.45 L405.0 139.44 L406.0 140.10 L407.0 140.34 L408.0 140.53 L409.0 139.56 L410.0 139.44 L411.0 140.42 L412.0 139.65 L413.0 139.75 L414.0 139.77 L415.0 140.39 L416.0 140.86 L417.0 140.85 L418.0 140.59 L419.0 139.70 L420.0 140.90 L421.0 139.60 L422.0 139.77 L423.0 139.81 L424.0 139.54 L425.0 140.58 L426.0 140.67 L427.0 139.52 L428.0 140.77 L429.0 139.41 L430.0 140.06 L431.0 140.97 L432.0 140.59 L433.0 140.07 L434.0 139.44 L435.0 140.45 L436.0 139.44 L437.0 139.49 L438.0 140.27 L439.0 139.57 L440.0 140.02 L441.0 139.81 L442.0 140.98 L443.0 139.97 L444.0 140.41 L445.0 140.85 L446.0 140.64 L447.0 140.71 L448.0 140.66 L449.0 140.95 L450.0 140.03 L451.0 140.59 L452.0 139.85 L453.0 140.46 L454.0 139.78 L455.0 139.55 L456.0 139.66 L457.0 139.42 L458.0 139.46 L459.0 140.53 L460.0 139.43 L461.0 140.14 L462.0 139.41 L463.0 139.53 L464.0 139.59 L465.0 140.16 L466.0 139.53 L467.0 139.52 L468.0 139.69 L469.0 140.62 L470.0 139.62 L471.0 140.85 L472.0 140.07 L473.0 139.96 L474.0 139.42 L475.0 140.59 L476.0 140.03 L477.0 139.64 L478.0 140.28 L479.0 139.40 L480.0 139.78 L481.0 140.40 L482.0 139.50 L483.0 139.70 L484.0 140.74 L485.0 140.24 L486.0 139.63 L487.0 139.50 L488.0 139.40 L489.0 140.69 L490.0 139.44 L491.0 140.40 L492.0 139.95 L493.0 140.95 L494.0 140.72 L495.0 140.56 L496.0 140.85 L497.0 140.64 L498.0 140.06 L499.0 139.50 L500.0 139.69 L501.0 139.43 L502.0 139.93 L503.0 139.76 L504.0 139.46 L505.0 139.92 L506.0 140.65 L507.0 139.40 L508.0 140.39 L509.0 140.10 L510.0 139.40 L511.0 140.58 L512.0 140.20 L513.0 139.78 L514.0 139.67 L515.0 139.81 L516.0 139.62 L517.0 140.44 L518.0 140.92 L519.0 140.42 L520.0 140.65 L521.0 139.49 L522.0 140.32 L523.0 139.53 L524.0 140.67 L525.0 139.44 L526.0 139.50 L527.0 139.83 L528.0 140.86 L529.0 140.01 L530.0 140.51 L531.0 139.80 L532.0 139.84 L533.0 139.82 L534.0 141.01 L535.0 140.29 L536.0 139.40 L537.0 139.73 L538.0 139.46 L539.0 140.00 L540.0 140.64 L541.0 139.50 L542.0 140.82 L543.0 139.75 L544.0 139.49 L545.0 141.02 L546.0 140.40 L547.0 139.55 L548.0 140.22 L549.0 139.44 L550.0 140.13 L551.0 139.71 L552.0 139.76 L553.0 139.47 L554.0 139.48 L555.0 140.06 L556.0 140.09 L557.0 140.84 L558.0 140.62 L559.0 139.47 L560.0 139.66 L561.0 139.60 L562.0 140.65 L563.0 140.07 L564.0 139.41 L565.0 141.02 L566.0 140.28 L567.0 140.31 L568.0 139.79 L569.0 140.59 L570.0 139.55 L571.0 139.49 L572.0 140.11 L573.0 140.02 L574.0 140.11 L575.0 140.25 L576.0 140.31 L577.0 140.96 L578.0 139.93 L579.0 140.22 L580.0 140.49 L581.0 139.96 L582.0 140.67 L583.0 139.83 L584.0 140.11 L585.0 140.03 L586.0 139.87 L587.0 139.70 L588.0 140.42 L589.0 140.44 L590.0 140.48 L591.0 140.16 L592.0 139.47 L593.0 139.99 L594.0 139.42 L595.0 140.03 L596.0 139.68 L597.0 139.59 L598.0 140.84 L599.0 140.30 L600.0 139.85 L601.0 139.57 L602.0 140.11 L603.0 139.45 L604.0 139.47 L605.0 140.94 L606.0 139.60 L607.0 139.71 L608.0 140.80 L609.0 139.81 L610.0 140.14 L611.0 139.41 L612.0 139.68 L613.0 140.90 L614.0 139.94 L615.0 139.67 L616.0 140.81 L617.0 140.67 L618.0 139.94 L619.0 140.77 L620.0 139.55 L621.0 139.54 L622.0 139.42 L623.0 140.42 L624.0 140.82 L625.0 140.40 L626.0 140.36 L627.0 139.89 L628.0 139.57 L629.0 140.39 L630.0 139.53 L631.0 140.30 L632.0 139.78 L633.0 140.78 L634.0 139.58 L635.0 140.88 L636.0 139.64 L637.0 139.44 L638.0 139.88 L639.0 140.04 L640.0 140.17 L641.0 139.61 L642.0 139.44 L643.0 140.49 L644.0 139.64 L645.0 139.53 L646.0 141.03 L647.0 139.92 L648.0 139.80 L649.0 139.99 L650.0 140.09 L651.0 139.76 L652.0 140.55 L653.0 140.00 L654.0 140.34 L655.0 140.94 L656.0 140.54 L657.0 140.19 L658.0 139.88 L659.0 140.56 L660.0 139.59 L661.0 139.57 L662.0 139.98 L663.0 140.16 L664.0 140.12 L665.0 139.53 L666.0 139.40 L667.0 139.87 L668.0 139.62 L669.0 139.43 L670.0 140.11 L671.0 140.57 L672.0 139.49 L673.0 139.41 L674.0 140.21 L675.0 139.63 L676.0 139.44 L677.0 139.52 L678.0 139.51 L679.0 140.65 L680.0 139.43 L681.0 139.76 L682.0 140.98 L683.0 139.97 L684.0 141.02 L685.0 139.91 L686.0 139.41 L687.0 140.79 L688.0 139.81 L689.0 139.86 L690.0 139.41 L691.0 140.50 L692.0 139.58 L693.0 140.08 L693.0 145.40 L692.0 145.39 L691.0 144.56 L690.0 143.95 L689.0 145.56 L688.0 145.33 L687.0 145.51 L686.0 145.40 L685.0 144.53 L684.0 145.51 L683.0 144.50 L682.0 145.59 L681.0 145.43 L680.0 145.16 L679.0 144.44 L678.0 144.65 L677.0 145.39 L676.0 144.37 L675.0 144.85 L674.0 144.97 L673.0 145.31 L672.0 145.31 L671.0 145.41 L670.0 144.94 L669.0 144.17 L668.0 144.42 L667.0 145.11 L666.0 145.02 L665.0 145.50 L664.0 144.25 L663.0 144.60 L662.0 145.59 L661.0 144.87 L660.0 145.03 L659.0 144.43 L658.0 144.47 L657.0 145.41 L656.0 145.49 L655.0 145.48 L654.0 144.98 L653.0 144.31 L652.0 144.98 L651.0 144.72 L650.0 144.74 L649.0 145.47 L648.0 144.12 L647.0 144.52 L646.0 145.59 L645.0 144.19 L644.0 144.93 L643.0 145.40 L642.0 145.35 L641.0 144.41 L640.0 145.35 L639.0 145.58 L638.0 144.96 L637.0 143.99 L636.0 144.75 L635.0 144.70 L634.0 145.33 L633.0 144.85 L632.0 144.71 L631.0 144.44 L630.0 145.41 L629.0 145.46 L628.0 145.32 L627.0 145.56 L626.0 144.10 L625.0 145.52 L624.0 144.26 L623.0 145.31 L622.0 145.54 L621.0 144.23 L620.0 144.77 L619.0 143.95 L618.0 145.48 L617.0 145.25 L616.0 145.46 L615.0 144.13 L614.0 145.44 L613.0 144.00 L612.0 145.02 L611.0 144.19 L610.0 145.58 L609.0 145.25 L608.0 144.38 L607.0 145.57 L606.0 145.33 L605.0 145.60 L604.0 144.95 L603.0 144.43 L602.0 144.18 L601.0 144.53 L600.0 144.40 L599.0 144.26 L598.0 144.03 L597.0 145.57 L596.0 145.19 L595.0 145.41 L594.0 144.64 L593.0 145.19 L592.0 145.11 L591.0 145.57 L590.0 145.32 L589.0 144.83 L588.0 144.19 L587.0 145.58 L586.0 144.18 L585.0 144.97 L584.0 144.17 L583.0 145.13 L582.0 144.29 L581.0 143.96 L580.0 144.52 L579.0 144.65 L578.0 145.16 L577.0 144.83 L576.0 145.51 L575.0 145.59 L574.0 145.28 L573.0 145.38 L572.0 145.48 L571.0 145.20 L570.0 145.07 L569.0 145.60 L568.0 144.85 L567.0 144.55 L566.0 145.32 L565.0 144.09 L564.0 145.47 L563.0 145.57 L562.0 145.47 L561.0 144.88 L560.0 144.19 L559.0 144.36 L558.0 144.83 L557.0 143.96 L556.0 145.37 L555.0 144.90 L554.0 144.18 L553.0 144.01 L552.0 145.08 L551.0 144.12 L550.0 144.64 L549.0 145.40 L548.0 145.45 L547.0 144.08 L546.0 144.33 L545.0 144.99 L544.0 144.60 L543.0 145.01 L542.0 144.93 L541.0 144.49 L540.0 144.81 L539.0 144.44 L538.0 145.22 L537.0 144.73 L536.0 145.28 L535.0 144.81 L534.0 144.44 L533.0 144.63 L532.0 145.60 L531.0 145.28 L530.0 144.37 L529.0 144.74 L528.0 145.14 L527.0 145.57 L526.0 145.53 L525.0 145.42 L524.0 144.84 L523.0 145.18 L522.0 144.61 L521.0 145.55 L520.0 145.55 L519.0 145.28 L518.0 144.90 L517.0 145.29 L516.0 145.45 L515.0 144.70 L514.0 145.28 L513.0 144.94 L512.0 145.34 L511.0 145.44 L510.0 143.96 L509.0 145.09 L508.0 145.41 L507.0 145.22 L506.0 144.72 L505.0 144.03 L504.0 145.19 L503.0 144.66 L502.0 144.60 L501.0 145.32 L500.0 145.31 L499.0 144.34 L498.0 144.97 L497.0 145.44 L496.0 145.55 L495.0 145.15 L494.0 145.32 L493.0 144.86 L492.0 145.07 L491.0 145.55 L490.0 145.37 L489.0 144.37 L488.0 144.37 L487.0 144.48 L486.0 144.95 L485.0 143.96 L484.0 144.99 L483.0 145.38 L482.0 145.50 L481.0 144.82 L480.0 144.42 L479.0 145.06 L478.0 145.41 L477.0 143.97 L476.0 144.99 L475.0 145.20 L474.0 144.07 L473.0 145.43 L472.0 144.05 L471.0 145.27 L470.0 144.22 L469.0 145.05 L468.0 144.93 L467.0 144.51 L466.0 145.35 L465.0 145.42 L464.0 144.59 L463.0 145.43 L462.0 145.54 L461.0 144.16 L460.0 145.09 L459.0 145.47 L458.0 144.74 L457.0 145.32 L456.0 144.02 L455.0 145.14 L454.0 145.49 L453.0 143.97 L452.0 145.51 L451.0 145.15 L450.0 144.61 L449.0 144.75 L448.0 144.21 L447.0 144.40 L446.0 144.70 L445.0 145.16 L444.0 144.61 L443.0 144.95 L442.0 144.69 L441.0 145.27 L440.0 144.49 L439.0 144.49 L438.0 145.40 L437.0 144.53 L436.0 144.76 L435.0 144.19 L434.0 145.56 L433.0 144.44 L432.0 145.57 L431.0 144.73 L430.0 144.89 L429.0 144.99 L428.0 145.35 L427.0 144.50 L426.0 144.90 L425.0 144.94 L424.0 144.90 L423.0 145.20 L422.0 145.24 L421.0 145.24 L420.0 144.20 L419.0 145.18 L418.0 145.32 L417.0 145.12 L416.0 144.09 L415.0 144.89 L414.0 145.53 L413.0 144.58 L412.0 145.51 L411.0 144.64 L410.0 145.32 L409.0 144.71 L408.0 145.57 L407.0 145.33 L406.0 145.04 L405.0 145.56 L404.0 144.24 L403.0 145.23 L402.0 144.14 L401.0 144.93 L400.0 143.97 L399.0 145.23 L398.0 145.38 L397.0 145.44 L396.0 144.78 L395.0 145.53 L394.0 144.33 L393.0 145.27 L392.0 145.05 L391.0 144.77 L390.0 144.68 L389.0 145.57 L388.0 145.55 L387.0 145.14 L386.0 145.58 L385.0 144.24 L384.0 143.99 L383.0 145.46 L382.0 144.77 L381.0 144.90 L380.0 145.37 L379.0 144.78 L378.0 144.20 L377.0 145.41 L376.0 144.06 L375.0 144.96 L374.0 145.15 L373.0 145.38 L372.0 144.70 L371.0 145.53 L370.0 145.58 L369.0 145.09 L368.0 145.54 L367.0 144.38 L366.0 145.07 L365.0 144.10 L364.0 145.40 L363.0 145.05 L362.0 144.17 L361.0 144.08 L360.0 145.58 L359.0 144.19 L358.0 144.51 L357.0 145.59 L356.0 145.60 L355.0 144.60 L354.0 144.90 L353.0 145.35 L352.0 144.83 L351.0 145.15 L350.0 145.58 L349.0 145.02 L348.0 145.06 L347.0 144.11 L346.0 144.50 L345.0 145.57 L344.0 144.76 L343.0 144.89 L342.0 145.00 L341.0 144.17 L340.0 145.55 L339.0 145.46 L338.0 145.18 L337.0 144.55 L336.0 145.59 L335.0 144.50 L334.0 144.75 L333.0 145.20 L332.0 144.89 L331.0 145.27 L330.0 144.08 L329.0 144.78 L328.0 145.25 L327.0 145.07 L326.0 145.57 L325.0 145.17 L324.0 144.49 L323.0 144.23 L322.0 145.17 L321.0 144.46 L320.0 144.16 L319.0 144.40 L318.0 145.01 L317.0 145.17 L316.0 144.28 L315.0 144.41 L314.0 145.60 L313.0 145.49 L312.0 145.17 L311.0 145.09 L310.0 144.31 L309.0 145.60 L308.0 145.13 L307.0 145.07 L306.0 144.49 L305.0 144.06 L304.0 145.55 L303.0 143.97 L302.0 145.45 L301.0 145.51 L300.0 144.99 L299.0 145.59 L298.0 145.57 L297.0 144.66 L296.0 144.51 L295.0 145.54 L294.0 144.16 L293.0 145.45 L292.0 144.66 L291.0 145.53 L290.0 145.15 L289.0 145.55 L288.0 144.57 L287.0 145.52 L286.0 143.95 L285.0 144.13 L284.0 145.31 L283.0 144.39 L282.0 145.41 L281.0 144.81 L280.0 144.96 L279.0 144.77 L278.0 145.49 L277.0 145.16 L276.0 145.12 L275.0 145.45 L274.0 145.00 L273.0 144.56 L272.0 144.79 L271.0 145.30 L270.0 145.42 L269.0 145.59 L268.0 145.52 L267.0 144.80 L266.0 145.30 L265.0 144.18 L264.0 145.13 L263.0 145.06 L262.0 144.13 L261.0 145.16 L260.0 145.57 L259.0 145.03 L258.0 144.41 L257.0 144.99 L256.0 145.59 L255.0 145.01 L254.0 145.45 L253.0 144.97 L252.0 144.30 L251.0 144.18 L250.0 145.21 L249.0 144.91 L248.0 144.97 L247.0 144.57 L246.0 144.97 L245.0 145.56 L244.0 145.03 L243.0 144.65 L242.0 144.58 L241.0 145.51 L240.0 144.44 L239.0 145.48 L238.0 145.57 L237.0 145.59 L236.0 144.48 L235.0 145.12 L234.0 145.26 L233.0 144.16 L232.0 144.44 L231.0 144.00 L230.0 144.19 L229.0 144.59 L228.0 144.37 L227.0 145.45 L226.0 145.08 L225.0 144.42 L224.0 144.89 L223.0 144.16 L222.0 145.09 L221.0 144.58 L220.0 145.56 L219.0 144.43 L218.0 144.51 L217.0 144.98 L216.0 145.26 L215.0 145.47 L214.0 145.06 L213.0 145.47 L212.0 145.45 L211.0 144.05 L210.0 144.72 L209.0 145.11 L208.0 145.58 L207.0 145.41 L206.0 145.59 L205.0 145.52 L204.0 144.43 L203.0 144.89 L202.0 145.59 L201.0 145.59 L200.0 145.10 L199.0 144.33 L198.0 145.03 L197.0 145.16 L196.0 145.36 L195.0 145.48 L194.0 144.07 L193.0 144.30 L192.0 145.02 L191.0 145.31 L190.0 145.21 L189.0 144.15 L188.0 145.13 L187.0 144.70 L186.0 144.21 L185.0 144.71 L184.0 145.48 L183.0 144.67 L182.0 145.60 L181.0 144.14 L180.0 145.02 L179.0 145.42 L178.0 144.83 L177.0 144.52 L176.0 144.33 L175.0 144.87 L174.0 145.20 L173.0 144.23 L172.0 144.75 L171.0 144.81 L170.0 145.21 L169.0 144.88 L168.0 144.44 L167.0 144.25 L166.0 144.66 L165.0 144.15 L164.0 144.62 L163.0 144.19 L162.0 144.93 L161.0 143.95 L160.0 144.57 L159.0 144.76 L158.0 144.04 L157.0 144.16 L156.0 145.59 L155.0 144.86 L154.0 144.72 L153.0 144.21 L152.0 145.52 L151.0 145.23 L150.0 145.58 L149.0 145.37 L148.0 145.45 L147.0 145.35 L146.0 144.30 L145.0 145.42 L144.0 144.59 L143.0 145.34 L142.0 144.36 L141.0 144.62 L140.0 144.04 L139.0 145.54 L138.0 144.82 L137.0 144.07 L136.0 144.09 L135.0 145.46 L134.0 144.37 L133.0 145.50 L132.0 144.26 L131.0 145.04 L130.0 145.09 L129.0 144.83 L128.0 144.86 L127.0 145.57 L126.0 145.29 L125.0 145.38 L124.0 143.97 L123.0 144.75 L122.0 145.19 L121.0 144.22 L120.0 144.41 L119.0 145.37 L118.0 145.15 L117.0 144.74 L116.0 144.56 L115.0 145.10 L114.0 145.48 L113.0 145.58 L112.0 145.40 L111.0 144.51 L110.0 145.28 L109.0 145.37 L108.0 144.77 L107.0 145.18 L106.0 145.07 L105.0 145.44 L104.0 144.31 L103.0 145.20 L102.0 145.18 L101.0 145.57 L100.0 145.42 L99.0 144.61 L98.0 143.95 L97.0 145.36 L96.0 144.71 L95.0 144.75 L94.0 144.32 L93.0 145.08 L92.0 145.40 L91.0 146.58 L90.0 146.60 L89.0 145.80 L88.0 145.03 L87.0 146.59 L86.0 145.39 L85.0 146.32 L84.0 145.43 L83.0 145.99 L82.0 145.85 L81.0 146.07 L80.0 145.91Z" fill="#000"/>
<rect x="129.8" y="132.0" width="1.0" height="10.0" fill="#000"/>
<rect x="159.9" y="134.0" width="2.0" height="8.0" fill="#000"/>
<rect x="165.9" y="142" width="1.5" height="5.7" fill="#000"/>
<rect x="190.0" y="142" width="1.0" height="8.0" fill="#000"/>
<rect x="215.9" y="142" width="1.5" height="6.5" fill="#000"/>
<rect x="237.2" y="142" width="1.5" height="15.0" fill="#000"/>
<rect x="254.3" y="137.0" width="1.0" height="5.0" fill="#000"/>
<rect x="278.1" y="142" width="1.0" height="12.5" fill="#000"/>
<rect x="291.3" y="131.0" width="2.0" height="11.0" fill="#000"/>
<rect x="301.4" y="142" width="2.0" height="8.8" fill="#000"/>
<rect x="330.1" y="136.4" width="1.5" height="5.6" fill="#000"/>
<rect x="330.1" y="142" width="1.5" height="5.7" fill="#000"/>
<rect x="393.5" y="142" width="2.0" height="15.0" fill="#000"/>
<rect x="419.9" y="142" width="1.5" height="11.0" fill="#000"/>
<rect x="447.1" y="137.0" width="1.0" height="5.0" fill="#000"/>
<rect x="487.8" y="131.8" width="2.0" height="10.2" fill="#000"/>
<rect x="503.7" y="142" width="1.0" height="12.5" fill="#000"/>
<rect x="511.6" y="142" width="2.0" height="9.5" fill="#000"/>
<rect x="541.5" y="136.0" width="1.0" height="6.0" fill="#000"/>
<rect x="566.2" y="142" width="1.0" height="7.0" fill="#000"/>
<rect x="597.5" y="134.8" width="2.0" height="7.2" fill="#000"/>
<rect x="597.5" y="142" width="2.0" height="15.0" fill="#000"/>
<rect x="640.0" y="142" width="1.5" height="11.0" fill="#000"/>
<rect x="649.0" y="142" width="1.5" height="5.7" fill="#000"/>
<rect x="668.3" y="137.0" width="1.0" height="5.0" fill="#000"/>
<rect x="79.5" y="510.3" width="613.5" height="3.6" fill="#000"/>
<line x1="74.00" y1="126.50" x2="709.00" y2="126.50" stroke="#000" stroke-width="1"/>
<line x1="74.00" y1="157.50" x2="709.00" y2="157.50" stroke="#000" stroke-width="1"/>
<line x1="79.50" y1="126.50" x2="79.50" y2="157.50" stroke="#000" stroke-width="1"/>
<line x1="703.50" y1="126.50" x2="703.50" y2="157.50" stroke="#000" stroke-width="1"/>
<line x1="79.50" y1="126.50" x2="79.50" y2="157.50" stroke="#000" stroke-width="1"/>
<line x1="90.50" y1="126.50" x2="90.50" y2="129.70" stroke="#000" stroke-width="1"/>
<line x1="90.50" y1="154.30" x2="90.50" y2="157.50" stroke="#000" stroke-width="1"/>
<line x1="100.50" y1="126.50" x2="100.50" y2="129.70" stroke="#000" stroke-width="1"/>
<line x1="100.50" y1="154.30" x2="100.50" y2="157.50" stroke="#000" stroke-width="1"/>
<line x1="110.50" y1="126.50" x2="110.50" y2="129.70" stroke="#000" stroke-width="1"/>
<line x1="110.50" y1="154.30" x2="110.50" y2="157.50" stroke="#000" stroke-width="1"/>
<line x1="121.50" y1="126.50" x2="121.50" y2="129.70" stroke="#000" stroke-width="1"/>
<line x1="121.50" y1="154.30" x2="121.50" y2="157.50" stroke="#000" stroke-width="1"/>
<line x1="131.50" y1="126.50" x2="131.50" y2="129.70" stroke="#000" stroke-width="1"/>
<line x1="131.50" y1="154.30" x2="131.50" y2="157.50" stroke="#000" stroke-width="1"/>
<line x1="142.50" y1="126.50" x2="142.50" y2="157.50" stroke="#000" stroke-width="1"/>
<line x1="152.50" y1="126.50" x2="152.50" y2="129.70" stroke="#000" stroke-width="1"/>
<line x1="152.50" y1="154.30" x2="152.50" y2="157.50" stroke="#000" stroke-width="1"/>
<line x1="162.50" y1="126.50" x2="162.50" y2="129.70" stroke="#000" stroke-width="1"/>
<line x1="162.50" y1="154.30" x2="162.50" y2="157.50" stroke="#000" stroke-width="1"/>
<line x1="173.50" y1="126.50" x2="173.50" y2="129.70" stroke="#000" stroke-width="1"/>
<line x1="173.50" y1="154.30" x2="173.50" y2="157.50" stroke="#000" stroke-width="1"/>
<line x1="183.50" y1="126.50" x2="183.50" y2="129.70" stroke="#000" stroke-width="1"/>
<line x1="183.50" y1="154.30" x2="183.50" y2="157.50" stroke="#000" stroke-width="1"/>
<line x1="193.50" y1="126.50" x2="193.50" y2="129.70" stroke="#000" stroke-width="1"/>
<line x1="193.50" y1="154.30" x2="193.50" y2="157.50" stroke="#000" stroke-width="1"/>
<line x1="204.50" y1="126.50" x2="204.50" y2="157.50" stroke="#000" stroke-width="1"/>
<line x1="214.50" y1="126.50" x2="214.50" y2="129.70" stroke="#000" stroke-width="1"/>
<line x1="214.50" y1="154.30" x2="214.50" y2="157.50" stroke="#000" stroke-width="1"/>
<line x1="225.50" y1="126.50" x2="225.50" y2="129.70" stroke="#000" stroke-width="1"/>
<line x1="225.50" y1="154.30" x2="225.50" y2="157.50" stroke="#000" stroke-width="1"/>
<line x1="235.50" y1="126.50" x2="235.50" y2="129.70" stroke="#000" stroke-width="1"/>
<line x1="235.50" y1="154.30" x2="235.50" y2="157.50" stroke="#000" stroke-width="1"/>
<line x1="246.50" y1="126.50" x2="246.50" y2="129.70" stroke="#000" stroke-width="1"/>
<line x1="246.50" y1="154.30" x2="246.50" y2="157.50" stroke="#000" stroke-width="1"/>
<line x1="256.50" y1="126.50" x2="256.50" y2="129.70" stroke="#000" stroke-width="1"/>
<line x1="256.50" y1="154.30" x2="256.50" y2="157.50" stroke="#000" stroke-width="1"/>
<line x1="266.50" y1="126.50" x2="266.50" y2="157.50" stroke="#000" stroke-width="1"/>
<line x1="277.50" y1="126.50" x2="277.50" y2="129.70" stroke="#000" stroke-width="1"/>
<line x1="277.50" y1="154.30" x2="277.50" y2="157.50" stroke="#000" stroke-width="1"/>
<line x1="287.50" y1="126.50" x2="287.50" y2="129.70" stroke="#000" stroke-width="1"/>
<line x1="287.50" y1="154.30" x2="287.50" y2="157.50" stroke="#000" stroke-width="1"/>
<line x1="298.50" y1="126.50" x2="298.50" y2="129.70" stroke="#000" stroke-width="1"/>
<line x1="298.50" y1="154.30" x2="298.50" y2="157.50" stroke="#000" stroke-width="1"/>
<line x1="308.50" y1="126.50" x2="308.50" y2="129.70" stroke="#000" stroke-width="1"/>
<line x1="308.50" y1="154.30" x2="308.50" y2="157.50" stroke="#000" stroke-width="1"/>
<line x1="318.50" y1="126.50" x2="318.50" y2="129.70" stroke="#000" stroke-width="1"/>
<line x1="318.50" y1="154.30" x2="318.50" y2="157.50" stroke="#000" stroke-width="1"/>
<line x1="329.50" y1="126.50" x2="329.50" y2="157.50" stroke="#000" stroke-width="1"/>
<line x1="339.50" y1="126.50" x2="339.50" y2="129.70" stroke="#000" stroke-width="1"/>
<line x1="339.50" y1="154.30" x2="339.50" y2="157.50" stroke="#000" stroke-width="1"/>
<line x1="350.50" y1="126.50" x2="350.50" y2="129.70" stroke="#000" stroke-width="1"/>
<line x1="350.50" y1="154.30" x2="350.50" y2="157.50" stroke="#000" stroke-width="1"/>
<line x1="360.50" y1="126.50" x2="360.50" y2="129.70" stroke="#000" stroke-width="1"/>
<line x1="360.50" y1="154.30" x2="360.50" y2="157.50" stroke="#000" stroke-width="1"/>
<line x1="370.50" y1="126.50" x2="370.50" y2="129.70" stroke="#000" stroke-width="1"/>
<line x1="370.50" y1="154.30" x2="370.50" y2="157.50" stroke="#000" stroke-width="1"/>
<line x1="381.50" y1="126.50" x2="381.50" y2="129.70" stroke="#000" stroke-width="1"/>
<line x1="381.50" y1="154.30" x2="381.50" y2="157.50" stroke="#000" stroke-width="1"/>
<line x1="391.50" y1="126.50" x2="391.50" y2="157.50" stroke="#000" stroke-width="1"/>
<line x1="402.50" y1="126.50" x2="402.50" y2="129.70" stroke="#000" stroke-width="1"/>
<line x1="402.50" y1="154.30" x2="402.50" y2="157.50" stroke="#000" stroke-width="1"/>
<line x1="412.50" y1="126.50" x2="412.50" y2="129.70" stroke="#000" stroke-width="1"/>
<line x1="412.50" y1="154.30" x2="412.50" y2="157.50" stroke="#000" stroke-width="1"/>
<line x1="422.50" y1="126.50" x2="422.50" y2="129.70" stroke="#000" stroke-width="1"/>
<line x1="422.50" y1="154.30" x2="422.50" y2="157.50" stroke="#000" stroke-width="1"/>
<line x1="433.50" y1="126.50" x2="433.50" y2="129.70" stroke="#000" stroke-width="1"/>
<line x1="433.50" y1="154.30" x2="433.50" y2="157.50" stroke="#000" stroke-width="1"/>
<line x1="443.50" y1="126.50" x2="443.50" y2="129.70" stroke="#000" stroke-width="1"/>
<line x1="443.50" y1="154.30" x2="443.50" y2="157.50" stroke="#000" stroke-width="1"/>
<line x1="454.50" y1="126.50" x2="454.50" y2="157.50" stroke="#000" stroke-width="1"/>
<line x1="464.50" y1="126.50" x2="464.50" y2="129.70" stroke="#000" stroke-width="1"/>
<line x1="464.50" y1="154.30" x2="464.50" y2="157.50" stroke="#000" stroke-width="1"/>
<line x1="474.50" y1="126.50" x2="474.50" y2="129.70" stroke="#000" stroke-width="1"/>
<line x1="474.50" y1="154.30" x2="474.50" y2="157.50" stroke="#000" stroke-width="1"/>
<line x1="485.50" y1="126.50" x2="485.50" y2="129.70" stroke="#000" stroke-width="1"/>
<line x1="485.50" y1="154.30" x2="485.50" y2="157.50" stroke="#000" stroke-width="1"/>
<line x1="495.50" y1="126.50" x2="495.50" y2="129.70" stroke="#000" stroke-width="1"/>
<line x1="495.50" y1="154.30" x2="495.50" y2="157.50" stroke="#000" stroke-width="1"/>
<line x1="506.50" y1="126.50" x2="506.50" y2="129.70" stroke="#000" stroke-width="1"/>
<line x1="506.50" y1="154.30" x2="506.50" y2="157.50" stroke="#000" stroke-width="1"/>
<line x1="516.50" y1="126.50" x2="516.50" y2="157.50" stroke="#000" stroke-width="1"/>
<line x1="526.50" y1="126.50" x2="526.50" y2="129.70" stroke="#000" stroke-width="1"/>
<line x1="526.50" y1="154.30" x2="526.50" y2="157.50" stroke="#000" stroke-width="1"/>
<line x1="537.50" y1="126.50" x2="537.50" y2="129.70" stroke="#000" stroke-width="1"/>
<line x1="537.50" y1="154.30" x2="537.50" y2="157.50" stroke="#000" stroke-width="1"/>
<line x1="547.50" y1="126.50" x2="547.50" y2="129.70" stroke="#000" stroke-width="1"/>
<line x1="547.50" y1="154.30" x2="547.50" y2="157.50" stroke="#000" stroke-width="1"/>
<line x1="558.50" y1="126.50" x2="558.50" y2="129.70" stroke="#000" stroke-width="1"/>
<line x1="558.50" y1="154.30" x2="558.50" y2="157.50" stroke="#000" stroke-width="1"/>
<line x1="568.50" y1="126.50" x2="568.50" y2="129.70" stroke="#000" stroke-width="1"/>
<line x1="568.50" y1="154.30" x2="568.50" y2="157.50" stroke="#000" stroke-width="1"/>
<line x1="578.50" y1="126.50" x2="578.50" y2="157.50" stroke="#000" stroke-width="1"/>
<line x1="589.50" y1="126.50" x2="589.50" y2="129.70" stroke="#000" stroke-width="1"/>
<line x1="589.50" y1="154.30" x2="589.50" y2="157.50" stroke="#000" stroke-width="1"/>
<line x1="599.50" y1="126.50" x2="599.50" y2="129.70" stroke="#000" stroke-width="1"/>
<line x1="599.50" y1="154.30" x2="599.50" y2="157.50" stroke="#000" stroke-width="1"/>
<line x1="610.50" y1="126.50" x2="610.50" y2="129.70" stroke="#000" stroke-width="1"/>
<line x1="610.50" y1="154.30" x2="610.50" y2="157.50" stroke="#000" stroke-width="1"/>
<line x1="620.50" y1="126.50" x2="620.50" y2="129.70" stroke="#000" stroke-width="1"/>
<line x1="620.50" y1="154.30" x2="620.50" y2="157.50" stroke="#000" stroke-width="1"/>
<line x1="630.50" y1="126.50" x2="630.50" y2="129.70" stroke="#000" stroke-width="1"/>
<line x1="630.50" y1="154.30" x2="630.50" y2="157.50" stroke="#000" stroke-width="1"/>
<line x1="641.50" y1="126.50" x2="641.50" y2="157.50" stroke="#000" stroke-width="1"/>
<line x1="651.50" y1="126.50" x2="651.50" y2="129.70" stroke="#000" stroke-width="1"/>
<line x1="651.50" y1="154.30" x2="651.50" y2="157.50" stroke="#000" stroke-width="1"/>
<line x1="662.50" y1="126.50" x2="662.50" y2="129.70" stroke="#000" stroke-width="1"/>
<line x1="662.50" y1="154.30" x2="662.50" y2="157.50" stroke="#000" stroke-width="1"/>
<line x1="672.50" y1="126.50" x2="672.50" y2="129.70" stroke="#000" stroke-width="1"/>
<line x1="672.50" y1="154.30" x2="672.50" y2="157.50" stroke="#000" stroke-width="1"/>
<line x1="682.50" y1="126.50" x2="682.50" y2="129.70" stroke="#000" stroke-width="1"/>
<line x1="682.50" y1="154.30" x2="682.50" y2="157.50" stroke="#000" stroke-width="1"/>
<line x1="693.50" y1="126.50" x2="693.50" y2="129.70" stroke="#000" stroke-width="1"/>
<line x1="693.50" y1="154.30" x2="693.50" y2="157.50" stroke="#000" stroke-width="1"/>
<line x1="703.50" y1="126.50" x2="703.50" y2="157.50" stroke="#000" stroke-width="1"/>
<line x1="74.00" y1="166.50" x2="709.00" y2="166.50" stroke="#000" stroke-width="1"/>
<line x1="74.00" y1="322.50" x2="709.00" y2="322.50" stroke="#000" stroke-width="1"/>
<line x1="79.50" y1="166.50" x2="79.50" y2="322.50" stroke="#000" stroke-width="1"/>
<line x1="703.50" y1="166.50" x2="703.50" y2="322.50" stroke="#000" stroke-width="1"/>
<line x1="79.50" y1="157.50" x2="79.50" y2="166.50" stroke="#000" stroke-width="1"/>
<line x1="79.50" y1="322.50" x2="79.50" y2="325.90" stroke="#000" stroke-width="1"/>
<line x1="90.50" y1="163.10" x2="90.50" y2="166.50" stroke="#000" stroke-width="1"/>
<line x1="90.50" y1="322.50" x2="90.50" y2="325.90" stroke="#000" stroke-width="1"/>
<line x1="100.50" y1="163.10" x2="100.50" y2="166.50" stroke="#000" stroke-width="1"/>
<line x1="100.50" y1="322.50" x2="100.50" y2="325.90" stroke="#000" stroke-width="1"/>
<line x1="110.50" y1="163.10" x2="110.50" y2="166.50" stroke="#000" stroke-width="1"/>
<line x1="110.50" y1="322.50" x2="110.50" y2="325.90" stroke="#000" stroke-width="1"/>
<line x1="121.50" y1="163.10" x2="121.50" y2="166.50" stroke="#000" stroke-width="1"/>
<line x1="121.50" y1="322.50" x2="121.50" y2="325.90" stroke="#000" stroke-width="1"/>
<line x1="131.50" y1="163.10" x2="131.50" y2="166.50" stroke="#000" stroke-width="1"/>
<line x1="131.50" y1="322.50" x2="131.50" y2="325.90" stroke="#000" stroke-width="1"/>
<line x1="142.50" y1="157.50" x2="142.50" y2="166.50" stroke="#000" stroke-width="1"/>
<line x1="142.50" y1="322.50" x2="142.50" y2="325.90" stroke="#000" stroke-width="1"/>
<line x1="152.50" y1="163.10" x2="152.50" y2="166.50" stroke="#000" stroke-width="1"/>
<line x1="152.50" y1="322.50" x2="152.50" y2="325.90" stroke="#000" stroke-width="1"/>
<line x1="162.50" y1="163.10" x2="162.50" y2="166.50" stroke="#000" stroke-width="1"/>
<line x1="162.50" y1="322.50" x2="162.50" y2="325.90" stroke="#000" stroke-width="1"/>
<line x1="173.50" y1="163.10" x2="173.50" y2="166.50" stroke="#000" stroke-width="1"/>
<line x1="173.50" y1="322.50" x2="173.50" y2="325.90" stroke="#000" stroke-width="1"/>
<line x1="183.50" y1="163.10" x2="183.50" y2="166.50" stroke="#000" stroke-width="1"/>
<line x1="183.50" y1="322.50" x2="183.50" y2="325.90" stroke="#000" stroke-width="1"/>
<line x1="193.50" y1="163.10" x2="193.50" y2="166.50" stroke="#000" stroke-width="1"/>
<line x1="193.50" y1="322.50" x2="193.50" y2="325.90" stroke="#000" stroke-width="1"/>
<line x1="204.50" y1="157.50" x2="204.50" y2="166.50" stroke="#000" stroke-width="1"/>
<line x1="204.50" y1="322.50" x2="204.50" y2="325.90" stroke="#000" stroke-width="1"/>
<line x1="214.50" y1="163.10" x2="214.50" y2="166.50" stroke="#000" stroke-width="1"/>
<line x1="214.50" y1="322.50" x2="214.50" y2="325.90" stroke="#000" stroke-width="1"/>
<line x1="225.50" y1="163.10" x2="225.50" y2="166.50" stroke="#000" stroke-width="1"/>
<line x1="225.50" y1="322.50" x2="225.50" y2="325.90" stroke="#000" stroke-width="1"/>
<line x1="235.50" y1="163.10" x2="235.50" y2="166.50" stroke="#000" stroke-width="1"/>
<line x1="235.50" y1="322.50" x2="235.50" y2="325.90" stroke="#000" stroke-width="1"/>
<line x1="246.50" y1="163.10" x2="246.50" y2="166.50" stroke="#000" stroke-width="1"/>
<line x1="246.50" y1="322.50" x2="246.50" y2="325.90" stroke="#000" stroke-width="1"/>
<line x1="256.50" y1="163.10" x2="256.50" y2="166.50" stroke="#000" stroke-width="1"/>
<line x1="256.50" y1="322.50" x2="256.50" y2="325.90" stroke="#000" stroke-width="1"/>
<line x1="266.50" y1="157.50" x2="266.50" y2="166.50" stroke="#000" stroke-width="1"/>
<line x1="266.50" y1="322.50" x2="266.50" y2="325.90" stroke="#000" stroke-width="1"/>
<line x1="277.50" y1="163.10" x2="277.50" y2="166.50" stroke="#000" stroke-width="1"/>
<line x1="277.50" y1="322.50" x2="277.50" y2="325.90" stroke="#000" stroke-width="1"/>
<line x1="287.50" y1="163.10" x2="287.50" y2="166.50" stroke="#000" stroke-width="1"/>
<line x1="287.50" y1="322.50" x2="287.50" y2="325.90" stroke="#000" stroke-width="1"/>
<line x1="298.50" y1="163.10" x2="298.50" y2="166.50" stroke="#000" stroke-width="1"/>
<line x1="298.50" y1="322.50" x2="298.50" y2="325.90" stroke="#000" stroke-width="1"/>
<line x1="308.50" y1="163.10" x2="308.50" y2="166.50" stroke="#000" stroke-width="1"/>
<line x1="308.50" y1="322.50" x2="308.50" y2="325.90" stroke="#000" stroke-width="1"/>
<line x1="318.50" y1="163.10" x2="318.50" y2="166.50" stroke="#000" stroke-width="1"/>
<line x1="318.50" y1="322.50" x2="318.50" y2="325.90" stroke="#000" stroke-width="1"/>
<line x1="329.50" y1="157.50" x2="329.50" y2="166.50" stroke="#000" stroke-width="1"/>
<line x1="329.50" y1="322.50" x2="329.50" y2="325.90" stroke="#000" stroke-width="1"/>
<line x1="339.50" y1="163.10" x2="339.50" y2="166.50" stroke="#000" stroke-width="1"/>
<line x1="339.50" y1="322.50" x2="339.50" y2="325.90" stroke="#000" stroke-width="1"/>
<line x1="350.50" y1="163.10" x2="350.50" y2="166.50" stroke="#000" stroke-width="1"/>
<line x1="350.50" y1="322.50" x2="350.50" y2="325.90" stroke="#000" stroke-width="1"/>
<line x1="360.50" y1="163.10" x2="360.50" y2="166.50" stroke="#000" stroke-width="1"/>
<line x1="360.50" y1="322.50" x2="360.50" y2="325.90" stroke="#000" stroke-width="1"/>
<line x1="370.50" y1="163.10" x2="370.50" y2="166.50" stroke="#000" stroke-width="1"/>
<line x1="370.50" y1="322.50" x2="370.50" y2="325.90" stroke="#000" stroke-width="1"/>
<line x1="381.50" y1="163.10" x2="381.50" y2="166.50" stroke="#000" stroke-width="1"/>
<line x1="381.50" y1="322.50" x2="381.50" y2="325.90" stroke="#000" stroke-width="1"/>
<line x1="391.50" y1="157.50" x2="391.50" y2="166.50" stroke="#000" stroke-width="1"/>
<line x1="391.50" y1="322.50" x2="391.50" y2="325.90" stroke="#000" stroke-width="1"/>
<line x1="402.50" y1="163.10" x2="402.50" y2="166.50" stroke="#000" stroke-width="1"/>
<line x1="402.50" y1="322.50" x2="402.50" y2="325.90" stroke="#000" stroke-width="1"/>
<line x1="412.50" y1="163.10" x2="412.50" y2="166.50" stroke="#000" stroke-width="1"/>
<line x1="412.50" y1="322.50" x2="412.50" y2="325.90" stroke="#000" stroke-width="1"/>
<line x1="422.50" y1="163.10" x2="422.50" y2="166.50" stroke="#000" stroke-width="1"/>
<line x1="422.50" y1="322.50" x2="422.50" y2="325.90" stroke="#000" stroke-width="1"/>
<line x1="433.50" y1="163.10" x2="433.50" y2="166.50" stroke="#000" stroke-width="1"/>
<line x1="433.50" y1="322.50" x2="433.50" y2="325.90" stroke="#000" stroke-width="1"/>
<line x1="443.50" y1="163.10" x2="443.50" y2="166.50" stroke="#000" stroke-width="1"/>
<line x1="443.50" y1="322.50" x2="443.50" y2="325.90" stroke="#000" stroke-width="1"/>
<line x1="454.50" y1="157.50" x2="454.50" y2="166.50" stroke="#000" stroke-width="1"/>
<line x1="454.50" y1="322.50" x2="454.50" y2="325.90" stroke="#000" stroke-width="1"/>
<line x1="464.50" y1="163.10" x2="464.50" y2="166.50" stroke="#000" stroke-width="1"/>
<line x1="464.50" y1="322.50" x2="464.50" y2="325.90" stroke="#000" stroke-width="1"/>
<line x1="474.50" y1="163.10" x2="474.50" y2="166.50" stroke="#000" stroke-width="1"/>
<line x1="474.50" y1="322.50" x2="474.50" y2="325.90" stroke="#000" stroke-width="1"/>
<line x1="485.50" y1="163.10" x2="485.50" y2="166.50" stroke="#000" stroke-width="1"/>
<line x1="485.50" y1="322.50" x2="485.50" y2="325.90" stroke="#000" stroke-width="1"/>
<line x1="495.50" y1="163.10" x2="495.50" y2="166.50" stroke="#000" stroke-width="1"/>
<line x1="495.50" y1="322.50" x2="495.50" y2="325.90" stroke="#000" stroke-width="1"/>
<line x1="506.50" y1="163.10" x2="506.50" y2="166.50" stroke="#000" stroke-width="1"/>
<line x1="506.50" y1="322.50" x2="506.50" y2="325.90" stroke="#000" stroke-width="1"/>
<line x1="516.50" y1="157.50" x2="516.50" y2="166.50" stroke="#000" stroke-width="1"/>
<line x1="516.50" y1="322.50" x2="516.50" y2="325.90" stroke="#000" stroke-width="1"/>
<line x1="526.50" y1="163.10" x2="526.50" y2="166.50" stroke="#000" stroke-width="1"/>
<line x1="526.50" y1="322.50" x2="526.50" y2="325.90" stroke="#000" stroke-width="1"/>
<line x1="537.50" y1="163.10" x2="537.50" y2="166.50" stroke="#000" stroke-width="1"/>
<line x1="537.50" y1="322.50" x2="537.50" y2="325.90" stroke="#000" stroke-width="1"/>
<line x1="547.50" y1="163.10" x2="547.50" y2="166.50" stroke="#000" stroke-width="1"/>
<line x1="547.50" y1="322.50" x2="547.50" y2="325.90" stroke="#000" stroke-width="1"/>
<line x1="558.50" y1="163.10" x2="558.50" y2="166.50" stroke="#000" stroke-width="1"/>
<line x1="558.50" y1="322.50" x2="558.50" y2="325.90" stroke="#000" stroke-width="1"/>
<line x1="568.50" y1="163.10" x2="568.50" y2="166.50" stroke="#000" stroke-width="1"/>
<line x1="568.50" y1="322.50" x2="568.50" y2="325.90" stroke="#000" stroke-width="1"/>
<line x1="578.50" y1="157.50" x2="578.50" y2="166.50" stroke="#000" stroke-width="1"/>
<line x1="578.50" y1="322.50" x2="578.50" y2="325.90" stroke="#000" stroke-width="1"/>
<line x1="589.50" y1="163.10" x2="589.50" y2="166.50" stroke="#000" stroke-width="1"/>
<line x1="589.50" y1="322.50" x2="589.50" y2="325.90" stroke="#000" stroke-width="1"/>
<line x1="599.50" y1="163.10" x2="599.50" y2="166.50" stroke="#000" stroke-width="1"/>
<line x1="599.50" y1="322.50" x2="599.50" y2="325.90" stroke="#000" stroke-width="1"/>
<line x1="610.50" y1="163.10" x2="610.50" y2="166.50" stroke="#000" stroke-width="1"/>
<line x1="610.50" y1="322.50" x2="610.50" y2="325.90" stroke="#000" stroke-width="1"/>
<line x1="620.50" y1="163.10" x2="620.50" y2="166.50" stroke="#000" stroke-width="1"/>
<line x1="620.50" y1="322.50" x2="620.50" y2="325.90" stroke="#000" stroke-width="1"/>
<line x1="630.50" y1="163.10" x2="630.50" y2="166.50" stroke="#000" stroke-width="1"/>
<line x1="630.50" y1="322.50" x2="630.50" y2="325.90" stroke="#000" stroke-width="1"/>
<line x1="641.50" y1="157.50" x2="641.50" y2="166.50" stroke="#000" stroke-width="1"/>
<line x1="641.50" y1="322.50" x2="641.50" y2="325.90" stroke="#000" stroke-width="1"/>
<line x1="651.50" y1="163.10" x2="651.50" y2="166.50" stroke="#000" stroke-width="1"/>
<line x1="651.50" y1="322.50" x2="651.50" y2="325.90" stroke="#000" stroke-width="1"/>
<line x1="662.50" y1="163.10" x2="662.50" y2="166.50" stroke="#000" stroke-width="1"/>
<line x1="662.50" y1="322.50" x2="662.50" y2="325.90" stroke="#000" stroke-width="1"/>
<line x1="672.50" y1="163.10" x2="672.50" y2="166.50" stroke="#000" stroke-width="1"/>
<line x1="672.50" y1="322.50" x2="672.50" y2="325.90" stroke="#000" stroke-width="1"/>
<line x1="682.50" y1="163.10" x2="682.50" y2="166.50" stroke="#000" stroke-width="1"/>
<line x1="682.50" y1="322.50" x2="682.50" y2="325.90" stroke="#000" stroke-width="1"/>
<line x1="693.50" y1="163.10" x2="693.50" y2="166.50" stroke="#000" stroke-width="1"/>
<line x1="693.50" y1="322.50" x2="693.50" y2="325.90" stroke="#000" stroke-width="1"/>
<line x1="703.50" y1="157.50" x2="703.50" y2="166.50" stroke="#000" stroke-width="1"/>
<line x1="703.50" y1="322.50" x2="703.50" y2="325.90" stroke="#000" stroke-width="1"/>
<line x1="74.00" y1="332.50" x2="709.00" y2="332.50" stroke="#000" stroke-width="1"/>
<line x1="74.00" y1="488.50" x2="709.00" y2="488.50" stroke="#000" stroke-width="1"/>
<line x1="79.50" y1="332.50" x2="79.50" y2="488.50" stroke="#000" stroke-width="1"/>
<line x1="703.50" y1="332.50" x2="703.50" y2="488.50" stroke="#000" stroke-width="1"/>
<line x1="79.50" y1="322.50" x2="79.50" y2="332.50" stroke="#000" stroke-width="1"/>
<line x1="79.50" y1="488.50" x2="79.50" y2="491.90" stroke="#000" stroke-width="1"/>
<line x1="90.50" y1="329.10" x2="90.50" y2="332.50" stroke="#000" stroke-width="1"/>
<line x1="90.50" y1="488.50" x2="90.50" y2="491.90" stroke="#000" stroke-width="1"/>
<line x1="100.50" y1="329.10" x2="100.50" y2="332.50" stroke="#000" stroke-width="1"/>
<line x1="100.50" y1="488.50" x2="100.50" y2="491.90" stroke="#000" stroke-width="1"/>
<line x1="110.50" y1="329.10" x2="110.50" y2="332.50" stroke="#000" stroke-width="1"/>
<line x1="110.50" y1="488.50" x2="110.50" y2="491.90" stroke="#000" stroke-width="1"/>
<line x1="121.50" y1="329.10" x2="121.50" y2="332.50" stroke="#000" stroke-width="1"/>
<line x1="121.50" y1="488.50" x2="121.50" y2="491.90" stroke="#000" stroke-width="1"/>
<line x1="131.50" y1="329.10" x2="131.50" y2="332.50" stroke="#000" stroke-width="1"/>
<line x1="131.50" y1="488.50" x2="131.50" y2="491.90" stroke="#000" stroke-width="1"/>
<line x1="142.50" y1="322.50" x2="142.50" y2="332.50" stroke="#000" stroke-width="1"/>
<line x1="142.50" y1="488.50" x2="142.50" y2="491.90" stroke="#000" stroke-width="1"/>
<line x1="152.50" y1="329.10" x2="152.50" y2="332.50" stroke="#000" stroke-width="1"/>
<line x1="152.50" y1="488.50" x2="152.50" y2="491.90" stroke="#000" stroke-width="1"/>
<line x1="162.50" y1="329.10" x2="162.50" y2="332.50" stroke="#000" stroke-width="1"/>
<line x1="162.50" y1="488.50" x2="162.50" y2="491.90" stroke="#000" stroke-width="1"/>
<line x1="173.50" y1="329.10" x2="173.50" y2="332.50" stroke="#000" stroke-width="1"/>
<line x1="173.50" y1="488.50" x2="173.50" y2="491.90" stroke="#000" stroke-width="1"/>
<line x1="183.50" y1="329.10" x2="183.50" y2="332.50" stroke="#000" stroke-width="1"/>
<line x1="183.50" y1="488.50" x2="183.50" y2="491.90" stroke="#000" stroke-width="1"/>
<line x1="193.50" y1="329.10" x2="193.50" y2="332.50" stroke="#000" stroke-width="1"/>
<line x1="193.50" y1="488.50" x2="193.50" y2="491.90" stroke="#000" stroke-width="1"/>
<line x1="204.50" y1="322.50" x2="204.50" y2="332.50" stroke="#000" stroke-width="1"/>
<line x1="204.50" y1="488.50" x2="204.50" y2="491.90" stroke="#000" stroke-width="1"/>
<line x1="214.50" y1="329.10" x2="214.50" y2="332.50" stroke="#000" stroke-width="1"/>
<line x1="214.50" y1="488.50" x2="214.50" y2="491.90" stroke="#000" stroke-width="1"/>
<line x1="225.50" y1="329.10" x2="225.50" y2="332.50" stroke="#000" stroke-width="1"/>
<line x1="225.50" y1="488.50" x2="225.50" y2="491.90" stroke="#000" stroke-width="1"/>
<line x1="235.50" y1="329.10" x2="235.50" y2="332.50" stroke="#000" stroke-width="1"/>
<line x1="235.50" y1="488.50" x2="235.50" y2="491.90" stroke="#000" stroke-width="1"/>
<line x1="246.50" y1="329.10" x2="246.50" y2="332.50" stroke="#000" stroke-width="1"/>
<line x1="246.50" y1="488.50" x2="246.50" y2="491.90" stroke="#000" stroke-width="1"/>
<line x1="256.50" y1="329.10" x2="256.50" y2="332.50" stroke="#000" stroke-width="1"/>
<line x1="256.50" y1="488.50" x2="256.50" y2="491.90" stroke="#000" stroke-width="1"/>
<line x1="266.50" y1="322.50" x2="266.50" y2="332.50" stroke="#000" stroke-width="1"/>
<line x1="266.50" y1="488.50" x2="266.50" y2="491.90" stroke="#000" stroke-width="1"/>
<line x1="277.50" y1="329.10" x2="277.50" y2="332.50" stroke="#000" stroke-width="1"/>
<line x1="277.50" y1="488.50" x2="277.50" y2="491.90" stroke="#000" stroke-width="1"/>
<line x1="287.50" y1="329.10" x2="287.50" y2="332.50" stroke="#000" stroke-width="1"/>
<line x1="287.50" y1="488.50" x2="287.50" y2="491.90" stroke="#000" stroke-width="1"/>
<line x1="298.50" y1="329.10" x2="298.50" y2="332.50" stroke="#000" stroke-width="1"/>
<line x1="298.50" y1="488.50" x2="298.50" y2="491.90" stroke="#000" stroke-width="1"/>
<line x1="308.50" y1="329.10" x2="308.50" y2="332.50" stroke="#000" stroke-width="1"/>
<line x1="308.50" y1="488.50" x2="308.50" y2="491.90" stroke="#000" stroke-width="1"/>
<line x1="318.50" y1="329.10" x2="318.50" y2="332.50" stroke="#000" stroke-width="1"/>
<line x1="318.50" y1="488.50" x2="318.50" y2="491.90" stroke="#000" stroke-width="1"/>
<line x1="329.50" y1="322.50" x2="329.50" y2="332.50" stroke="#000" stroke-width="1"/>
<line x1="329.50" y1="488.50" x2="329.50" y2="491.90" stroke="#000" stroke-width="1"/>
<line x1="339.50" y1="329.10" x2="339.50" y2="332.50" stroke="#000" stroke-width="1"/>
<line x1="339.50" y1="488.50" x2="339.50" y2="491.90" stroke="#000" stroke-width="1"/>
<line x1="350.50" y1="329.10" x2="350.50" y2="332.50" stroke="#000" stroke-width="1"/>
<line x1="350.50" y1="488.50" x2="350.50" y2="491.90" stroke="#000" stroke-width="1"/>
<line x1="360.50" y1="329.10" x2="360.50" y2="332.50" stroke="#000" stroke-width="1"/>
<line x1="360.50" y1="488.50" x2="360.50" y2="491.90" stroke="#000" stroke-width="1"/>
<line x1="370.50" y1="329.10" x2="370.50" y2="332.50" stroke="#000" stroke-width="1"/>
<line x1="370.50" y1="488.50" x2="370.50" y2="491.90" stroke="#000" stroke-width="1"/>
<line x1="381.50" y1="329.10" x2="381.50" y2="332.50" stroke="#000" stroke-width="1"/>
<line x1="381.50" y1="488.50" x2="381.50" y2="491.90" stroke="#000" stroke-width="1"/>
<line x1="391.50" y1="322.50" x2="391.50" y2="332.50" stroke="#000" stroke-width="1"/>
<line x1="391.50" y1="488.50" x2="391.50" y2="491.90" stroke="#000" stroke-width="1"/>
<line x1="402.50" y1="329.10" x2="402.50" y2="332.50" stroke="#000" stroke-width="1"/>
<line x1="402.50" y1="488.50" x2="402.50" y2="491.90" stroke="#000" stroke-width="1"/>
<line x1="412.50" y1="329.10" x2="412.50" y2="332.50" stroke="#000" stroke-width="1"/>
<line x1="412.50" y1="488.50" x2="412.50" y2="491.90" stroke="#000" stroke-width="1"/>
<line x1="422.50" y1="329.10" x2="422.50" y2="332.50" stroke="#000" stroke-width="1"/>
<line x1="422.50" y1="488.50" x2="422.50" y2="491.90" stroke="#000" stroke-width="1"/>
<line x1="433.50" y1="329.10" x2="433.50" y2="332.50" stroke="#000" stroke-width="1"/>
<line x1="433.50" y1="488.50" x2="433.50" y2="491.90" stroke="#000" stroke-width="1"/>
<line x1="443.50" y1="329.10" x2="443.50" y2="332.50" stroke="#000" stroke-width="1"/>
<line x1="443.50" y1="488.50" x2="443.50" y2="491.90" stroke="#000" stroke-width="1"/>
<line x1="454.50" y1="322.50" x2="454.50" y2="332.50" stroke="#000" stroke-width="1"/>
<line x1="454.50" y1="488.50" x2="454.50" y2="491.90" stroke="#000" stroke-width="1"/>
<line x1="464.50" y1="329.10" x2="464.50" y2="332.50" stroke="#000" stroke-width="1"/>
<line x1="464.50" y1="488.50" x2="464.50" y2="491.90" stroke="#000" stroke-width="1"/>
<line x1="474.50" y1="329.10" x2="474.50" y2="332.50" stroke="#000" stroke-width="1"/>
<line x1="474.50" y1="488.50" x2="474.50" y2="491.90" stroke="#000" stroke-width="1"/>
<line x1="485.50" y1="329.10" x2="485.50" y2="332.50" stroke="#000" stroke-width="1"/>
<line x1="485.50" y1="488.50" x2="485.50" y2="491.90" stroke="#000" stroke-width="1"/>
<line x1="495.50" y1="329.10" x2="495.50" y2="332.50" stroke="#000" stroke-width="1"/>
<line x1="495.50" y1="488.50" x2="495.50" y2="491.90" stroke="#000" stroke-width="1"/>
<line x1="506.50" y1="329.10" x2="506.50" y2="332.50" stroke="#000" stroke-width="1"/>
<line x1="506.50" y1="488.50" x2="506.50" y2="491.90" stroke="#000" stroke-width="1"/>
<line x1="516.50" y1="322.50" x2="516.50" y2="332.50" stroke="#000" stroke-width="1"/>
<line x1="516.50" y1="488.50" x2="516.50" y2="491.90" stroke="#000" stroke-width="1"/>
<line x1="526.50" y1="329.10" x2="526.50" y2="332.50" stroke="#000" stroke-width="1"/>
<line x1="526.50" y1="488.50" x2="526.50" y2="491.90" stroke="#000" stroke-width="1"/>
<line x1="537.50" y1="329.10" x2="537.50" y2="332.50" stroke="#000" stroke-width="1"/>
<line x1="537.50" y1="488.50" x2="537.50" y2="491.90" stroke="#000" stroke-width="1"/>
<line x1="547.50" y1="329.10" x2="547.50" y2="332.50" stroke="#000" stroke-width="1"/>
<line x1="547.50" y1="488.50" x2="547.50" y2="491.90" stroke="#000" stroke-width="1"/>
<line x1="558.50" y1="329.10" x2="558.50" y2="332.50" stroke="#000" stroke-width="1"/>
<line x1="558.50" y1="488.50" x2="558.50" y2="491.90" stroke="#000" stroke-width="1"/>
<line x1="568.50" y1="329.10" x2="568.50" y2="332.50" stroke="#000" stroke-width="1"/>
<line x1="568.50" y1="488.50" x2="568.50" y2="491.90" stroke="#000" stroke-width="1"/>
<line x1="578.50" y1="322.50" x2="578.50" y2="332.50" stroke="#000" stroke-width="1"/>
<line x1="578.50" y1="488.50" x2="578.50" y2="491.90" stroke="#000" stroke-width="1"/>
<line x1="589.50" y1="329.10" x2="589.50" y2="332.50" stroke="#000" stroke-width="1"/>
<line x1="589.50" y1="488.50" x2="589.50" y2="491.90" stroke="#000" stroke-width="1"/>
<line x1="599.50" y1="329.10" x2="599.50" y2="332.50" stroke="#000" stroke-width="1"/>
<line x1="599.50" y1="488.50" x2="599.50" y2="491.90" stroke="#000" stroke-width="1"/>
<line x1="610.50" y1="329.10" x2="610.50" y2="332.50" stroke="#000" stroke-width="1"/>
<line x1="610.50" y1="488.50" x2="610.50" y2="491.90" stroke="#000" stroke-width="1"/>
<line x1="620.50" y1="329.10" x2="620.50" y2="332.50" stroke="#000" stroke-width="1"/>
<line x1="620.50" y1="488.50" x2="620.50" y2="491.90" stroke="#000" stroke-width="1"/>
<line x1="630.50" y1="329.10" x2="630.50" y2="332.50" stroke="#000" stroke-width="1"/>
<line x1="630.50" y1="488.50" x2="630.50" y2="491.90" stroke="#000" stroke-width="1"/>
<line x1="641.50" y1="322.50" x2="641.50" y2="332.50" stroke="#000" stroke-width="1"/>
<line x1="641.50" y1="488.50" x2="641.50" y2="491.90" stroke="#000" stroke-width="1"/>
<line x1="651.50" y1="329.10" x2="651.50" y2="332.50" stroke="#000" stroke-width="1"/>
<line x1="651.50" y1="488.50" x2="651.50" y2="491.90" stroke="#000" stroke-width="1"/>
<line x1="662.50" y1="329.10" x2="662.50" y2="332.50" stroke="#000" stroke-width="1"/>
<line x1="662.50" y1="488.50" x2="662.50" y2="491.90" stroke="#000" stroke-width="1"/>
<line x1="672.50" y1="329.10" x2="672.50" y2="332.50" stroke="#000" stroke-width="1"/>
<line x1="672.50" y1="488.50" x2="672.50" y2="491.90" stroke="#000" stroke-width="1"/>
<line x1="682.50" y1="329.10" x2="682.50" y2="332.50" stroke="#000" stroke-width="1"/>
<line x1="682.50" y1="488.50" x2="682.50" y2="491.90" stroke="#000" stroke-width="1"/>
<line x1="693.50" y1="329.10" x2="693.50" y2="332.50" stroke="#000" stroke-width="1"/>
<line x1="693.50" y1="488.50" x2="693.50" y2="491.90" stroke="#000" stroke-width="1"/>
<line x1="703.50" y1="322.50" x2="703.50" y2="332.50" stroke="#000" stroke-width="1"/>
<line x1="703.50" y1="488.50" x2="703.50" y2="491.90" stroke="#000" stroke-width="1"/>
<line x1="74.00" y1="497.50" x2="709.00" y2="497.50" stroke="#000" stroke-width="1"/>
<line x1="74.00" y1="528.50" x2="709.00" y2="528.50" stroke="#000" stroke-width="1"/>
<line x1="79.50" y1="497.50" x2="79.50" y2="528.50" stroke="#000" stroke-width="1"/>
<line x1="703.50" y1="497.50" x2="703.50" y2="528.50" stroke="#000" stroke-width="1"/>
<line x1="79.50" y1="488.50" x2="79.50" y2="497.50" stroke="#000" stroke-width="1"/>
<line x1="79.50" y1="528.50" x2="79.50" y2="539.50" stroke="#000" stroke-width="1"/>
<line x1="90.50" y1="494.20" x2="90.50" y2="497.50" stroke="#000" stroke-width="1"/>
<line x1="90.50" y1="528.50" x2="90.50" y2="532.00" stroke="#000" stroke-width="1"/>
<line x1="100.50" y1="494.20" x2="100.50" y2="497.50" stroke="#000" stroke-width="1"/>
<line x1="100.50" y1="528.50" x2="100.50" y2="532.00" stroke="#000" stroke-width="1"/>
<line x1="110.50" y1="494.20" x2="110.50" y2="497.50" stroke="#000" stroke-width="1"/>
<line x1="110.50" y1="528.50" x2="110.50" y2="532.00" stroke="#000" stroke-width="1"/>
<line x1="121.50" y1="494.20" x2="121.50" y2="497.50" stroke="#000" stroke-width="1"/>
<line x1="121.50" y1="528.50" x2="121.50" y2="532.00" stroke="#000" stroke-width="1"/>
<line x1="131.50" y1="494.20" x2="131.50" y2="497.50" stroke="#000" stroke-width="1"/>
<line x1="131.50" y1="528.50" x2="131.50" y2="532.00" stroke="#000" stroke-width="1"/>
<line x1="142.50" y1="488.50" x2="142.50" y2="497.50" stroke="#000" stroke-width="1"/>
<line x1="142.50" y1="528.50" x2="142.50" y2="539.50" stroke="#000" stroke-width="1"/>
<line x1="152.50" y1="494.20" x2="152.50" y2="497.50" stroke="#000" stroke-width="1"/>
<line x1="152.50" y1="528.50" x2="152.50" y2="532.00" stroke="#000" stroke-width="1"/>
<line x1="162.50" y1="494.20" x2="162.50" y2="497.50" stroke="#000" stroke-width="1"/>
<line x1="162.50" y1="528.50" x2="162.50" y2="532.00" stroke="#000" stroke-width="1"/>
<line x1="173.50" y1="494.20" x2="173.50" y2="497.50" stroke="#000" stroke-width="1"/>
<line x1="173.50" y1="528.50" x2="173.50" y2="532.00" stroke="#000" stroke-width="1"/>
<line x1="183.50" y1="494.20" x2="183.50" y2="497.50" stroke="#000" stroke-width="1"/>
<line x1="183.50" y1="528.50" x2="183.50" y2="532.00" stroke="#000" stroke-width="1"/>
<line x1="193.50" y1="494.20" x2="193.50" y2="497.50" stroke="#000" stroke-width="1"/>
<line x1="193.50" y1="528.50" x2="193.50" y2="532.00" stroke="#000" stroke-width="1"/>
<line x1="204.50" y1="488.50" x2="204.50" y2="497.50" stroke="#000" stroke-width="1"/>
<line x1="204.50" y1="528.50" x2="204.50" y2="539.50" stroke="#000" stroke-width="1"/>
<line x1="214.50" y1="494.20" x2="214.50" y2="497.50" stroke="#000" stroke-width="1"/>
<line x1="214.50" y1="528.50" x2="214.50" y2="532.00" stroke="#000" stroke-width="1"/>
<line x1="225.50" y1="494.20" x2="225.50" y2="497.50" stroke="#000" stroke-width="1"/>
<line x1="225.50" y1="528.50" x2="225.50" y2="532.00" stroke="#000" stroke-width="1"/>
<line x1="235.50" y1="494.20" x2="235.50" y2="497.50" stroke="#000" stroke-width="1"/>
<line x1="235.50" y1="528.50" x2="235.50" y2="532.00" stroke="#000" stroke-width="1"/>
<line x1="246.50" y1="494.20" x2="246.50" y2="497.50" stroke="#000" stroke-width="1"/>
<line x1="246.50" y1="528.50" x2="246.50" y2="532.00" stroke="#000" stroke-width="1"/>
<line x1="256.50" y1="494.20" x2="256.50" y2="497.50" stroke="#000" stroke-width="1"/>
<line x1="256.50" y1="528.50" x2="256.50" y2="532.00" stroke="#000" stroke-width="1"/>
<line x1="266.50" y1="488.50" x2="266.50" y2="497.50" stroke="#000" stroke-width="1"/>
<line x1="266.50" y1="528.50" x2="266.50" y2="539.50" stroke="#000" stroke-width="1"/>
<line x1="277.50" y1="494.20" x2="277.50" y2="497.50" stroke="#000" stroke-width="1"/>
<line x1="277.50" y1="528.50" x2="277.50" y2="532.00" stroke="#000" stroke-width="1"/>
<line x1="287.50" y1="494.20" x2="287.50" y2="497.50" stroke="#000" stroke-width="1"/>
<line x1="287.50" y1="528.50" x2="287.50" y2="532.00" stroke="#000" stroke-width="1"/>
<line x1="298.50" y1="494.20" x2="298.50" y2="497.50" stroke="#000" stroke-width="1"/>
<line x1="298.50" y1="528.50" x2="298.50" y2="532.00" stroke="#000" stroke-width="1"/>
<line x1="308.50" y1="494.20" x2="308.50" y2="497.50" stroke="#000" stroke-width="1"/>
<line x1="308.50" y1="528.50" x2="308.50" y2="532.00" stroke="#000" stroke-width="1"/>
<line x1="318.50" y1="494.20" x2="318.50" y2="497.50" stroke="#000" stroke-width="1"/>
<line x1="318.50" y1="528.50" x2="318.50" y2="532.00" stroke="#000" stroke-width="1"/>
<line x1="329.50" y1="488.50" x2="329.50" y2="497.50" stroke="#000" stroke-width="1"/>
<line x1="329.50" y1="528.50" x2="329.50" y2="539.50" stroke="#000" stroke-width="1"/>
<line x1="339.50" y1="494.20" x2="339.50" y2="497.50" stroke="#000" stroke-width="1"/>
<line x1="339.50" y1="528.50" x2="339.50" y2="532.00" stroke="#000" stroke-width="1"/>
<line x1="350.50" y1="494.20" x2="350.50" y2="497.50" stroke="#000" stroke-width="1"/>
<line x1="350.50" y1="528.50" x2="350.50" y2="532.00" stroke="#000" stroke-width="1"/>
<line x1="360.50" y1="494.20" x2="360.50" y2="497.50" stroke="#000" stroke-width="1"/>
<line x1="360.50" y1="528.50" x2="360.50" y2="532.00" stroke="#000" stroke-width="1"/>
<line x1="370.50" y1="494.20" x2="370.50" y2="497.50" stroke="#000" stroke-width="1"/>
<line x1="370.50" y1="528.50" x2="370.50" y2="532.00" stroke="#000" stroke-width="1"/>
<line x1="381.50" y1="494.20" x2="381.50" y2="497.50" stroke="#000" stroke-width="1"/>
<line x1="381.50" y1="528.50" x2="381.50" y2="532.00" stroke="#000" stroke-width="1"/>
<line x1="391.50" y1="488.50" x2="391.50" y2="497.50" stroke="#000" stroke-width="1"/>
<line x1="391.50" y1="528.50" x2="391.50" y2="539.50" stroke="#000" stroke-width="1"/>
<line x1="402.50" y1="494.20" x2="402.50" y2="497.50" stroke="#000" stroke-width="1"/>
<line x1="402.50" y1="528.50" x2="402.50" y2="532.00" stroke="#000" stroke-width="1"/>
<line x1="412.50" y1="494.20" x2="412.50" y2="497.50" stroke="#000" stroke-width="1"/>
<line x1="412.50" y1="528.50" x2="412.50" y2="532.00" stroke="#000" stroke-width="1"/>
<line x1="422.50" y1="494.20" x2="422.50" y2="497.50" stroke="#000" stroke-width="1"/>
<line x1="422.50" y1="528.50" x2="422.50" y2="532.00" stroke="#000" stroke-width="1"/>
<line x1="433.50" y1="494.20" x2="433.50" y2="497.50" stroke="#000" stroke-width="1"/>
<line x1="433.50" y1="528.50" x2="433.50" y2="532.00" stroke="#000" stroke-width="1"/>
<line x1="443.50" y1="494.20" x2="443.50" y2="497.50" stroke="#000" stroke-width="1"/>
<line x1="443.50" y1="528.50" x2="443.50" y2="532.00" stroke="#000" stroke-width="1"/>
<line x1="454.50" y1="488.50" x2="454.50" y2="497.50" stroke="#000" stroke-width="1"/>
<line x1="454.50" y1="528.50" x2="454.50" y2="539.50" stroke="#000" stroke-width="1"/>
<line x1="464.50" y1="494.20" x2="464.50" y2="497.50" stroke="#000" stroke-width="1"/>
<line x1="464.50" y1="528.50" x2="464.50" y2="532.00" stroke="#000" stroke-width="1"/>
<line x1="474.50" y1="494.20" x2="474.50" y2="497.50" stroke="#000" stroke-width="1"/>
<line x1="474.50" y1="528.50" x2="474.50" y2="532.00" stroke="#000" stroke-width="1"/>
<line x1="485.50" y1="494.20" x2="485.50" y2="497.50" stroke="#000" stroke-width="1"/>
<line x1="485.50" y1="528.50" x2="485.50" y2="532.00" stroke="#000" stroke-width="1"/>
<line x1="495.50" y1="494.20" x2="495.50" y2="497.50" stroke="#000" stroke-width="1"/>
<line x1="495.50" y1="528.50" x2="495.50" y2="532.00" stroke="#000" stroke-width="1"/>
<line x1="506.50" y1="494.20" x2="506.50" y2="497.50" stroke="#000" stroke-width="1"/>
<line x1="506.50" y1="528.50" x2="506.50" y2="532.00" stroke="#000" stroke-width="1"/>
<line x1="516.50" y1="488.50" x2="516.50" y2="497.50" stroke="#000" stroke-width="1"/>
<line x1="516.50" y1="528.50" x2="516.50" y2="539.50" stroke="#000" stroke-width="1"/>
<line x1="526.50" y1="494.20" x2="526.50" y2="497.50" stroke="#000" stroke-width="1"/>
<line x1="526.50" y1="528.50" x2="526.50" y2="532.00" stroke="#000" stroke-width="1"/>
<line x1="537.50" y1="494.20" x2="537.50" y2="497.50" stroke="#000" stroke-width="1"/>
<line x1="537.50" y1="528.50" x2="537.50" y2="532.00" stroke="#000" stroke-width="1"/>
<line x1="547.50" y1="494.20" x2="547.50" y2="497.50" stroke="#000" stroke-width="1"/>
<line x1="547.50" y1="528.50" x2="547.50" y2="532.00" stroke="#000" stroke-width="1"/>
<line x1="558.50" y1="494.20" x2="558.50" y2="497.50" stroke="#000" stroke-width="1"/>
<line x1="558.50" y1="528.50" x2="558.50" y2="532.00" stroke="#000" stroke-width="1"/>
<line x1="568.50" y1="494.20" x2="568.50" y2="497.50" stroke="#000" stroke-width="1"/>
<line x1="568.50" y1="528.50" x2="568.50" y2="532.00" stroke="#000" stroke-width="1"/>
<line x1="578.50" y1="488.50" x2="578.50" y2="497.50" stroke="#000" stroke-width="1"/>
<line x1="578.50" y1="528.50" x2="578.50" y2="539.50" stroke="#000" stroke-width="1"/>
<line x1="589.50" y1="494.20" x2="589.50" y2="497.50" stroke="#000" stroke-width="1"/>
<line x1="589.50" y1="528.50" x2="589.50" y2="532.00" stroke="#000" stroke-width="1"/>
<line x1="599.50" y1="494.20" x2="599.50" y2="497.50" stroke="#000" stroke-width="1"/>
<line x1="599.50" y1="528.50" x2="599.50" y2="532.00" stroke="#000" stroke-width="1"/>
<line x1="610.50" y1="494.20" x2="610.50" y2="497.50" stroke="#000" stroke-width="1"/>
<line x1="610.50" y1="528.50" x2="610.50" y2="532.00" stroke="#000" stroke-width="1"/>
<line x1="620.50" y1="494.20" x2="620.50" y2="497.50" stroke="#000" stroke-width="1"/>
<line x1="620.50" y1="528.50" x2="620.50" y2="532.00" stroke="#000" stroke-width="1"/>
<line x1="630.50" y1="494.20" x2="630.50" y2="497.50" stroke="#000" stroke-width="1"/>
<line x1="630.50" y1="528.50" x2="630.50" y2="532.00" stroke="#000" stroke-width="1"/>
<line x1="641.50" y1="488.50" x2="641.50" y2="497.50" stroke="#000" stroke-width="1"/>
<line x1="641.50" y1="528.50" x2="641.50" y2="539.50" stroke="#000" stroke-width="1"/>
<line x1="651.50" y1="494.20" x2="651.50" y2="497.50" stroke="#000" stroke-width="1"/>
<line x1="651.50" y1="528.50" x2="651.50" y2="532.00" stroke="#000" stroke-width="1"/>
<line x1="662.50" y1="494.20" x2="662.50" y2="497.50" stroke="#000" stroke-width="1"/>
<line x1="662.50" y1="528.50" x2="662.50" y2="532.00" stroke="#000" stroke-width="1"/>
<line x1="672.50" y1="494.20" x2="672.50" y2="497.50" stroke="#000" stroke-width="1"/>
<line x1="672.50" y1="528.50" x2="672.50" y2="532.00" stroke="#000" stroke-width="1"/>
<line x1="682.50" y1="494.20" x2="682.50" y2="497.50" stroke="#000" stroke-width="1"/>
<line x1="682.50" y1="528.50" x2="682.50" y2="532.00" stroke="#000" stroke-width="1"/>
<line x1="693.50" y1="494.20" x2="693.50" y2="497.50" stroke="#000" stroke-width="1"/>
<line x1="693.50" y1="528.50" x2="693.50" y2="532.00" stroke="#000" stroke-width="1"/>
<line x1="703.50" y1="488.50" x2="703.50" y2="497.50" stroke="#000" stroke-width="1"/>
<line x1="703.50" y1="528.50" x2="703.50" y2="539.50" stroke="#000" stroke-width="1"/>
<line x1="74.00" y1="126.50" x2="79.50" y2="126.50" stroke="#000" stroke-width="1"/>
<line x1="703.50" y1="126.50" x2="709.00" y2="126.50" stroke="#000" stroke-width="1"/>
<line x1="74.00" y1="157.50" x2="79.50" y2="157.50" stroke="#000" stroke-width="1"/>
<line x1="703.50" y1="157.50" x2="709.00" y2="157.50" stroke="#000" stroke-width="1"/>
<line x1="77.00" y1="134.50" x2="79.50" y2="134.50" stroke="#000" stroke-width="1"/>
<line x1="703.50" y1="134.50" x2="706.00" y2="134.50" stroke="#000" stroke-width="1"/>
<line x1="77.00" y1="142.50" x2="79.50" y2="142.50" stroke="#000" stroke-width="1"/>
<line x1="703.50" y1="142.50" x2="706.00" y2="142.50" stroke="#000" stroke-width="1"/>
<line x1="77.00" y1="149.50" x2="79.50" y2="149.50" stroke="#000" stroke-width="1"/>
<line x1="703.50" y1="149.50" x2="706.00" y2="149.50" stroke="#000" stroke-width="1"/>
<line x1="74.00" y1="166.50" x2="79.50" y2="166.50" stroke="#000" stroke-width="1"/>
<line x1="703.50" y1="166.50" x2="709.00" y2="166.50" stroke="#000" stroke-width="1"/>
<line x1="74.00" y1="197.50" x2="79.50" y2="197.50" stroke="#000" stroke-width="1"/>
<line x1="703.50" y1="197.50" x2="709.00" y2="197.50" stroke="#000" stroke-width="1"/>
<line x1="74.00" y1="229.50" x2="79.50" y2="229.50" stroke="#000" stroke-width="1"/>
<line x1="703.50" y1="229.50" x2="709.00" y2="229.50" stroke="#000" stroke-width="1"/>
<line x1="74.00" y1="260.50" x2="79.50" y2="260.50" stroke="#000" stroke-width="1"/>
<line x1="703.50" y1="260.50" x2="709.00" y2="260.50" stroke="#000" stroke-width="1"/>
<line x1="74.00" y1="291.50" x2="79.50" y2="291.50" stroke="#000" stroke-width="1"/>
<line x1="703.50" y1="291.50" x2="709.00" y2="291.50" stroke="#000" stroke-width="1"/>
<line x1="74.00" y1="322.50" x2="79.50" y2="322.50" stroke="#000" stroke-width="1"/>
<line x1="703.50" y1="322.50" x2="709.00" y2="322.50" stroke="#000" stroke-width="1"/>
<line x1="77.00" y1="174.50" x2="79.50" y2="174.50" stroke="#000" stroke-width="1"/>
<line x1="703.50" y1="174.50" x2="706.00" y2="174.50" stroke="#000" stroke-width="1"/>
<line x1="77.00" y1="182.50" x2="79.50" y2="182.50" stroke="#000" stroke-width="1"/>
<line x1="703.50" y1="182.50" x2="706.00" y2="182.50" stroke="#000" stroke-width="1"/>
<line x1="77.00" y1="189.50" x2="79.50" y2="189.50" stroke="#000" stroke-width="1"/>
<line x1="703.50" y1="189.50" x2="706.00" y2="189.50" stroke="#000" stroke-width="1"/>
<line x1="77.00" y1="205.50" x2="79.50" y2="205.50" stroke="#000" stroke-width="1"/>
<line x1="703.50" y1="205.50" x2="706.00" y2="205.50" stroke="#000" stroke-width="1"/>
<line x1="77.00" y1="213.50" x2="79.50" y2="213.50" stroke="#000" stroke-width="1"/>
<line x1="703.50" y1="213.50" x2="706.00" y2="213.50" stroke="#000" stroke-width="1"/>
<line x1="77.00" y1="221.50" x2="79.50" y2="221.50" stroke="#000" stroke-width="1"/>
<line x1="703.50" y1="221.50" x2="706.00" y2="221.50" stroke="#000" stroke-width="1"/>
<line x1="77.00" y1="236.50" x2="79.50" y2="236.50" stroke="#000" stroke-width="1"/>
<line x1="703.50" y1="236.50" x2="706.00" y2="236.50" stroke="#000" stroke-width="1"/>
<line x1="77.00" y1="244.50" x2="79.50" y2="244.50" stroke="#000" stroke-width="1"/>
<line x1="703.50" y1="244.50" x2="706.00" y2="244.50" stroke="#000" stroke-width="1"/>
<line x1="77.00" y1="252.50" x2="79.50" y2="252.50" stroke="#000" stroke-width="1"/>
<line x1="703.50" y1="252.50" x2="706.00" y2="252.50" stroke="#000" stroke-width="1"/>
<line x1="77.00" y1="267.50" x2="79.50" y2="267.50" stroke="#000" stroke-width="1"/>
<line x1="703.50" y1="267.50" x2="706.00" y2="267.50" stroke="#000" stroke-width="1"/>
<line x1="77.00" y1="275.50" x2="79.50" y2="275.50" stroke="#000" stroke-width="1"/>
<line x1="703.50" y1="275.50" x2="706.00" y2="275.50" stroke="#000" stroke-width="1"/>
<line x1="77.00" y1="283.50" x2="79.50" y2="283.50" stroke="#000" stroke-width="1"/>
<line x1="703.50" y1="283.50" x2="706.00" y2="283.50" stroke="#000" stroke-width="1"/>
<line x1="77.00" y1="299.50" x2="79.50" y2="299.50" stroke="#000" stroke-width="1"/>
<line x1="703.50" y1="299.50" x2="706.00" y2="299.50" stroke="#000" stroke-width="1"/>
<line x1="77.00" y1="306.50" x2="79.50" y2="306.50" stroke="#000" stroke-width="1"/>
<line x1="703.50" y1="306.50" x2="706.00" y2="306.50" stroke="#000" stroke-width="1"/>
<line x1="77.00" y1="314.50" x2="79.50" y2="314.50" stroke="#000" stroke-width="1"/>
<line x1="703.50" y1="314.50" x2="706.00" y2="314.50" stroke="#000" stroke-width="1"/>
<line x1="74.00" y1="332.50" x2="79.50" y2="332.50" stroke="#000" stroke-width="1"/>
<line x1="703.50" y1="332.50" x2="709.00" y2="332.50" stroke="#000" stroke-width="1"/>
<line x1="74.00" y1="363.50" x2="79.50" y2="363.50" stroke="#000" stroke-width="1"/>
<line x1="703.50" y1="363.50" x2="709.00" y2="363.50" stroke="#000" stroke-width="1"/>
<line x1="74.00" y1="395.50" x2="79.50" y2="395.50" stroke="#000" stroke-width="1"/>
<line x1="703.50" y1="395.50" x2="709.00" y2="395.50" stroke="#000" stroke-width="1"/>
<line x1="74.00" y1="426.50" x2="79.50" y2="426.50" stroke="#000" stroke-width="1"/>
<line x1="703.50" y1="426.50" x2="709.00" y2="426.50" stroke="#000" stroke-width="1"/>
<line x1="74.00" y1="457.50" x2="79.50" y2="457.50" stroke="#000" stroke-width="1"/>
<line x1="703.50" y1="457.50" x2="709.00" y2="457.50" stroke="#000" stroke-width="1"/>
<line x1="74.00" y1="488.50" x2="79.50" y2="488.50" stroke="#000" stroke-width="1"/>
<line x1="703.50" y1="488.50" x2="709.00" y2="488.50" stroke="#000" stroke-width="1"/>
<line x1="77.00" y1="340.50" x2="79.50" y2="340.50" stroke="#000" stroke-width="1"/>
<line x1="703.50" y1="340.50" x2="706.00" y2="340.50" stroke="#000" stroke-width="1"/>
<line x1="77.00" y1="348.50" x2="79.50" y2="348.50" stroke="#000" stroke-width="1"/>
<line x1="703.50" y1="348.50" x2="706.00" y2="348.50" stroke="#000" stroke-width="1"/>
<line x1="77.00" y1="355.50" x2="79.50" y2="355.50" stroke="#000" stroke-width="1"/>
<line x1="703.50" y1="355.50" x2="706.00" y2="355.50" stroke="#000" stroke-width="1"/>
<line x1="77.00" y1="371.50" x2="79.50" y2="371.50" stroke="#000" stroke-width="1"/>
<line x1="703.50" y1="371.50" x2="706.00" y2="371.50" stroke="#000" stroke-width="1"/>
<line x1="77.00" y1="379.50" x2="79.50" y2="379.50" stroke="#000" stroke-width="1"/>
<line x1="703.50" y1="379.50" x2="706.00" y2="379.50" stroke="#000" stroke-width="1"/>
<line x1="77.00" y1="387.50" x2="79.50" y2="387.50" stroke="#000" stroke-width="1"/>
<line x1="703.50" y1="387.50" x2="706.00" y2="387.50" stroke="#000" stroke-width="1"/>
<line x1="77.00" y1="402.50" x2="79.50" y2="402.50" stroke="#000" stroke-width="1"/>
<line x1="703.50" y1="402.50" x2="706.00" y2="402.50" stroke="#000" stroke-width="1"/>
<line x1="77.00" y1="410.50" x2="79.50" y2="410.50" stroke="#000" stroke-width="1"/>
<line x1="703.50" y1="410.50" x2="706.00" y2="410.50" stroke="#000" stroke-width="1"/>
<line x1="77.00" y1="418.50" x2="79.50" y2="418.50" stroke="#000" stroke-width="1"/>
<line x1="703.50" y1="418.50" x2="706.00" y2="418.50" stroke="#000" stroke-width="1"/>
<line x1="77.00" y1="433.50" x2="79.50" y2="433.50" stroke="#000" stroke-width="1"/>
<line x1="703.50" y1="433.50" x2="706.00" y2="433.50" stroke="#000" stroke-width="1"/>
<line x1="77.00" y1="441.50" x2="79.50" y2="441.50" stroke="#000" stroke-width="1"/>
<line x1="703.50" y1="441.50" x2="706.00" y2="441.50" stroke="#000" stroke-width="1"/>
<line x1="77.00" y1="449.50" x2="79.50" y2="449.50" stroke="#000" stroke-width="1"/>
<line x1="703.50" y1="449.50" x2="706.00" y2="449.50" stroke="#000" stroke-width="1"/>
<line x1="77.00" y1="465.50" x2="79.50" y2="465.50" stroke="#000" stroke-width="1"/>
<line x1="703.50" y1="465.50" x2="706.00" y2="465.50" stroke="#000" stroke-width="1"/>
<line x1="77.00" y1="472.50" x2="79.50" y2="472.50" stroke="#000" stroke-width="1"/>
<line x1="703.50" y1="472.50" x2="706.00" y2="472.50" stroke="#000" stroke-width="1"/>
<line x1="77.00" y1="480.50" x2="79.50" y2="480.50" stroke="#000" stroke-width="1"/>
<line x1="703.50" y1="480.50" x2="706.00" y2="480.50" stroke="#000" stroke-width="1"/>
<line x1="74.00" y1="497.50" x2="79.50" y2="497.50" stroke="#000" stroke-width="1"/>
<line x1="703.50" y1="497.50" x2="709.00" y2="497.50" stroke="#000" stroke-width="1"/>
<line x1="74.00" y1="528.50" x2="79.50" y2="528.50" stroke="#000" stroke-width="1"/>
<line x1="703.50" y1="528.50" x2="709.00" y2="528.50" stroke="#000" stroke-width="1"/>
<line x1="77.00" y1="505.50" x2="79.50" y2="505.50" stroke="#000" stroke-width="1"/>
<line x1="703.50" y1="505.50" x2="706.00" y2="505.50" stroke="#000" stroke-width="1"/>
<line x1="77.00" y1="513.50" x2="79.50" y2="513.50" stroke="#000" stroke-width="1"/>
<line x1="703.50" y1="513.50" x2="706.00" y2="513.50" stroke="#000" stroke-width="1"/>
<line x1="77.00" y1="520.50" x2="79.50" y2="520.50" stroke="#000" stroke-width="1"/>
<line x1="703.50" y1="520.50" x2="706.00" y2="520.50" stroke="#000" stroke-width="1"/>
<text x="79.50" y="123.00" font-size="11.2" text-anchor="start" font-family="Liberation Serif" font-weight="bold" letter-spacing="0.7">VLF Spectra</text>
<text x="251.00" y="123.00" font-size="9.6" text-anchor="start" font-family="Liberation Serif" font-weight="bold" letter-spacing="0.05">Dec. 21, 2025</text>
<text x="344.00" y="123.00" font-size="9.6" text-anchor="start" font-family="Liberation Serif" font-weight="bold" >station= OUI</text>
<text x="438.00" y="123.00" font-size="9.6" text-anchor="start" font-family="Liberation Serif" font-weight="bold" >start</text>
<text x="460.50" y="123.00" font-size="9.6" text-anchor="start" font-family="Liberation Serif" font-weight="bold" >UT</text>
<text x="479.50" y="123.00" font-size="9.6" text-anchor="start" font-family="Liberation Serif" font-weight="bold" >=</text>
<text x="493.00" y="123.00" font-size="9.6" text-anchor="start" font-family="Liberation Serif" font-weight="bold" >6</text>
<text x="503.00" y="123.00" font-size="9.6" text-anchor="start" font-family="Liberation Serif" font-weight="bold" >:</text>
<text x="507.50" y="123.00" font-size="9.6" text-anchor="start" font-family="Liberation Serif" font-weight="bold" >30</text>
<text x="517.00" y="123.00" font-size="9.6" text-anchor="start" font-family="Liberation Serif" font-weight="bold" >:</text>
<text x="524.00" y="123.00" font-size="9.6" text-anchor="start" font-family="Liberation Serif" font-weight="bold" >0</text>
<text x="71.50" y="130.30" font-size="9.6" text-anchor="end" font-family="Liberation Serif" font-weight="bold" >10</text>
<text x="70.00" y="161.30" font-size="9.6" text-anchor="end" font-family="Liberation Serif" font-weight="bold" >-10</text>
<text x="51.20" y="142.30" font-size="8.8" text-anchor="middle" transform="rotate(-90 51.20 142.30)" font-family="Liberation Serif" font-weight="bold" letter-spacing="0.3">ch.1(V)</text>
<text x="71.50" y="170.00" font-size="9.6" text-anchor="end" font-family="Liberation Serif" font-weight="bold" >10</text>
<text x="71.50" y="336.00" font-size="9.6" text-anchor="end" font-family="Liberation Serif" font-weight="bold" >10</text>
<text x="71.50" y="201.20" font-size="9.6" text-anchor="end" font-family="Liberation Serif" font-weight="bold" >8</text>
<text x="71.50" y="367.20" font-size="9.6" text-anchor="end" font-family="Liberation Serif" font-weight="bold" >8</text>
<text x="71.50" y="232.40" font-size="9.6" text-anchor="end" font-family="Liberation Serif" font-weight="bold" >6</text>
<text x="71.50" y="398.40" font-size="9.6" text-anchor="end" font-family="Liberation Serif" font-weight="bold" >6</text>
<text x="71.50" y="263.60" font-size="9.6" text-anchor="end" font-family="Liberation Serif" font-weight="bold" >4</text>
<text x="71.50" y="429.60" font-size="9.6" text-anchor="end" font-family="Liberation Serif" font-weight="bold" >4</text>
<text x="71.50" y="294.80" font-size="9.6" text-anchor="end" font-family="Liberation Serif" font-weight="bold" >2</text>
<text x="71.50" y="460.80" font-size="9.6" text-anchor="end" font-family="Liberation Serif" font-weight="bold" >2</text>
<text x="71.50" y="326.00" font-size="9.6" text-anchor="end" font-family="Liberation Serif" font-weight="bold" >0</text>
<text x="71.50" y="492.00" font-size="9.6" text-anchor="end" font-family="Liberation Serif" font-weight="bold" >0</text>
<text x="50.30" y="244.00" font-size="8.8" text-anchor="middle" transform="rotate(-90 50.30 244.00)" font-family="Liberation Serif" font-weight="bold" letter-spacing="0.4">ch.1</text>
<text x="57.80" y="232.50" font-size="8.6" text-anchor="middle" transform="rotate(-90 57.80 232.50)" font-family="Liberation Serif" font-weight="bold" xml:space="preserve" letter-spacing="0.45">Frequency  (kHz)</text>
<text x="50.30" y="409.00" font-size="8.8" text-anchor="middle" transform="rotate(-90 50.30 409.00)" font-family="Liberation Serif" font-weight="bold" letter-spacing="0.4">ch.2</text>
<text x="57.80" y="398.00" font-size="8.6" text-anchor="middle" transform="rotate(-90 57.80 398.00)" font-family="Liberation Serif" font-weight="bold" xml:space="preserve" letter-spacing="0.45">Frequency  (kHz)</text>
<text x="71.00" y="501.30" font-size="9.6" text-anchor="end" font-family="Liberation Serif" font-weight="bold" >5</text>
<text x="70.00" y="532.30" font-size="9.6" text-anchor="end" font-family="Liberation Serif" font-weight="bold" >-5</text>
<text x="51.20" y="513.00" font-size="8.8" text-anchor="middle" transform="rotate(-90 51.20 513.00)" font-family="Liberation Serif" font-weight="bold" letter-spacing="0.3">ch.3(V)</text>
<text x="79.50" y="549.50" font-size="9.6" text-anchor="middle" font-family="Liberation Serif" font-weight="bold" >0</text>
<text x="141.90" y="549.50" font-size="9.6" text-anchor="middle" font-family="Liberation Serif" font-weight="bold" >1</text>
<text x="204.30" y="549.50" font-size="9.6" text-anchor="middle" font-family="Liberation Serif" font-weight="bold" >2</text>
<text x="266.70" y="549.50" font-size="9.6" text-anchor="middle" font-family="Liberation Serif" font-weight="bold" >3</text>
<text x="329.10" y="549.50" font-size="9.6" text-anchor="middle" font-family="Liberation Serif" font-weight="bold" >4</text>
<text x="391.50" y="549.50" font-size="9.6" text-anchor="middle" font-family="Liberation Serif" font-weight="bold" >5</text>
<text x="453.90" y="549.50" font-size="9.6" text-anchor="middle" font-family="Liberation Serif" font-weight="bold" >6</text>
<text x="516.30" y="549.50" font-size="9.6" text-anchor="middle" font-family="Liberation Serif" font-weight="bold" >7</text>
<text x="578.70" y="549.50" font-size="9.6" text-anchor="middle" font-family="Liberation Serif" font-weight="bold" >8</text>
<text x="641.10" y="549.50" font-size="9.6" text-anchor="middle" font-family="Liberation Serif" font-weight="bold" >9</text>
<text x="703.50" y="549.50" font-size="9.6" text-anchor="middle" font-family="Liberation Serif" font-weight="bold" >10</text>
<text x="400.00" y="558.30" font-size="8.8" text-anchor="middle" font-family="Liberation Serif" font-weight="bold" xml:space="preserve" letter-spacing="0.4">Time  (min)</text>
<rect x="719" y="202.0" width="9" height="107.5" fill="url(#cbar)"/>
<line x1="728.50" y1="201.50" x2="728.50" y2="310.00" stroke="#000" stroke-width="1"/>
<line x1="728.50" y1="202.00" x2="732.00" y2="202.00" stroke="#000" stroke-width="1"/>
<text x="734.00" y="205.00" font-size="7.5" text-anchor="start" font-family="Liberation Serif" font-weight="bold" >-3</text>
<line x1="728.50" y1="228.88" x2="732.00" y2="228.88" stroke="#000" stroke-width="1"/>
<text x="734.00" y="231.88" font-size="7.5" text-anchor="start" font-family="Liberation Serif" font-weight="bold" >-4</text>
<line x1="728.50" y1="255.75" x2="732.00" y2="255.75" stroke="#000" stroke-width="1"/>
<text x="734.00" y="258.75" font-size="7.5" text-anchor="start" font-family="Liberation Serif" font-weight="bold" >-5</text>
<line x1="728.50" y1="282.62" x2="732.00" y2="282.62" stroke="#000" stroke-width="1"/>
<text x="734.00" y="285.62" font-size="7.5" text-anchor="start" font-family="Liberation Serif" font-weight="bold" >-6</text>
<line x1="728.50" y1="309.50" x2="732.00" y2="309.50" stroke="#000" stroke-width="1"/>
<text x="734.00" y="312.50" font-size="7.5" text-anchor="start" font-family="Liberation Serif" font-weight="bold" >-7</text>
<text x="751" y="260.0" font-size="7" text-anchor="middle" transform="rotate(-90 751 260.0)" font-family="Liberation Serif" font-weight="bold">log(PSD)(V<tspan font-size="5" dy="-2">2</tspan><tspan dy="2">/Hz)</tspan></text>
<rect x="719" y="367.0" width="9" height="108.0" fill="url(#cbar)"/>
<line x1="728.50" y1="366.50" x2="728.50" y2="475.50" stroke="#000" stroke-width="1"/>
<line x1="728.50" y1="367.00" x2="732.00" y2="367.00" stroke="#000" stroke-width="1"/>
<text x="734.00" y="370.00" font-size="7.5" text-anchor="start" font-family="Liberation Serif" font-weight="bold" >-3</text>
<line x1="728.50" y1="394.00" x2="732.00" y2="394.00" stroke="#000" stroke-width="1"/>
<text x="734.00" y="397.00" font-size="7.5" text-anchor="start" font-family="Liberation Serif" font-weight="bold" >-4</text>
<line x1="728.50" y1="421.00" x2="732.00" y2="421.00" stroke="#000" stroke-width="1"/>
<text x="734.00" y="424.00" font-size="7.5" text-anchor="start" font-family="Liberation Serif" font-weight="bold" >-5</text>
<line x1="728.50" y1="448.00" x2="732.00" y2="448.00" stroke="#000" stroke-width="1"/>
<text x="734.00" y="451.00" font-size="7.5" text-anchor="start" font-family="Liberation Serif" font-weight="bold" >-6</text>
<line x1="728.50" y1="475.00" x2="732.00" y2="475.00" stroke="#000" stroke-width="1"/>
<text x="734.00" y="478.00" font-size="7.5" text-anchor="start" font-family="Liberation Serif" font-weight="bold" >-7</text>
<text x="751" y="425.0" font-size="7" text-anchor="middle" transform="rotate(-90 751 425.0)" font-family="Liberation Serif" font-weight="bold">log(PSD)(V<tspan font-size="5" dy="-2">2</tspan><tspan dy="2">/Hz)</tspan></text>
</svg></body></html>
